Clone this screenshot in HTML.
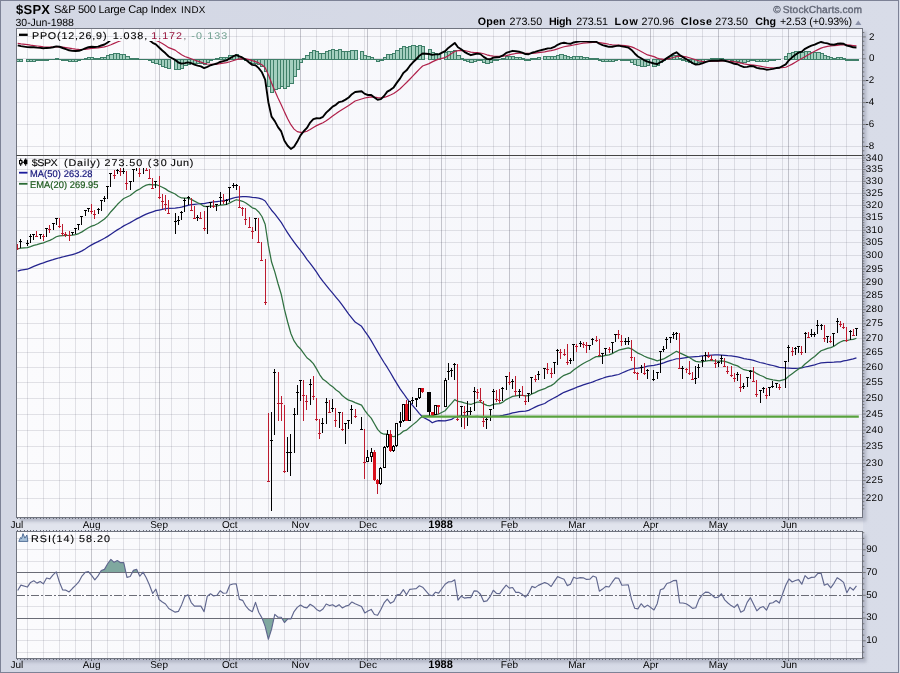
<!DOCTYPE html>
<html><head><meta charset="utf-8"><title>$SPX</title>
<style>html,body{margin:0;padding:0;background:#d4d8e4;}body{width:900px;height:673px;overflow:hidden;position:relative;font-family:"Liberation Sans",sans-serif;}</style>
</head><body>
<svg width="900" height="673" viewBox="0 0 900 673" text-rendering="geometricPrecision" style="position:absolute;left:0;top:0;opacity:0.9999;font-family:'Liberation Sans',sans-serif">
<defs>
<linearGradient id="bg" x1="0" y1="0" x2="1" y2="0"><stop offset="0" stop-color="#d3d7e4"/><stop offset="1" stop-color="#d8dce8"/></linearGradient>
<linearGradient id="pg" x1="0" y1="0" x2="1" y2="0"><stop offset="0" stop-color="#fbfbfd"/><stop offset="1" stop-color="#f3f4fa"/></linearGradient>
<clipPath id="c1"><rect x="16.5" y="41" width="846.0" height="114.5"/></clipPath>
<clipPath id="c2"><rect x="16.5" y="168" width="846.0" height="349.5"/></clipPath>
<clipPath id="c2b"><rect x="16.5" y="155.5" width="846.0" height="362.0"/></clipPath>
<clipPath id="c3"><rect x="16.5" y="531.5" width="846.0" height="127.0"/></clipPath>
<filter id="bl" x="-5%" y="-5%" width="110%" height="110%"><feGaussianBlur stdDeviation="1.6"/></filter>
</defs>
<rect x="0" y="0" width="900" height="673" fill="url(#bg)"/>
<rect x="0.5" y="0.5" width="898" height="672" fill="none" stroke="#7d8296" stroke-width="1"/>
<rect x="17" y="518" width="846" height="13" fill="#e1e4ed"/>
<rect x="19.5" y="31.5" width="847.0" height="490.0" fill="#a9adbd" opacity="0.75" filter="url(#bl)"/>
<rect x="16.5" y="28.5" width="846.0" height="489.0" fill="url(#pg)"/>
<rect x="19.5" y="534.5" width="847.0" height="128.0" fill="#a9adbd" opacity="0.75" filter="url(#bl)"/>
<rect x="16.5" y="531.5" width="846.0" height="127.0" fill="url(#pg)"/>
<g shape-rendering="crispEdges">
<line x1="27.5" y1="28.5" x2="27.5" y2="155.5" stroke="rgba(70,72,95,0.14)" stroke-width="1"/>
<line x1="43.5" y1="28.5" x2="43.5" y2="155.5" stroke="rgba(70,72,95,0.14)" stroke-width="1"/>
<line x1="59.5" y1="28.5" x2="59.5" y2="155.5" stroke="rgba(70,72,95,0.14)" stroke-width="1"/>
<line x1="75.5" y1="28.5" x2="75.5" y2="155.5" stroke="rgba(70,72,95,0.14)" stroke-width="1"/>
<line x1="107.5" y1="28.5" x2="107.5" y2="155.5" stroke="rgba(70,72,95,0.14)" stroke-width="1"/>
<line x1="123.5" y1="28.5" x2="123.5" y2="155.5" stroke="rgba(70,72,95,0.14)" stroke-width="1"/>
<line x1="139.5" y1="28.5" x2="139.5" y2="155.5" stroke="rgba(70,72,95,0.14)" stroke-width="1"/>
<line x1="155.5" y1="28.5" x2="155.5" y2="155.5" stroke="rgba(70,72,95,0.14)" stroke-width="1"/>
<line x1="171.5" y1="28.5" x2="171.5" y2="155.5" stroke="rgba(70,72,95,0.14)" stroke-width="1"/>
<line x1="188.5" y1="28.5" x2="188.5" y2="155.5" stroke="rgba(70,72,95,0.14)" stroke-width="1"/>
<line x1="204.5" y1="28.5" x2="204.5" y2="155.5" stroke="rgba(70,72,95,0.14)" stroke-width="1"/>
<line x1="220.5" y1="28.5" x2="220.5" y2="155.5" stroke="rgba(70,72,95,0.14)" stroke-width="1"/>
<line x1="236.5" y1="28.5" x2="236.5" y2="155.5" stroke="rgba(70,72,95,0.14)" stroke-width="1"/>
<line x1="252.5" y1="28.5" x2="252.5" y2="155.5" stroke="rgba(70,72,95,0.14)" stroke-width="1"/>
<line x1="268.5" y1="28.5" x2="268.5" y2="155.5" stroke="rgba(70,72,95,0.14)" stroke-width="1"/>
<line x1="284.5" y1="28.5" x2="284.5" y2="155.5" stroke="rgba(70,72,95,0.14)" stroke-width="1"/>
<line x1="316.5" y1="28.5" x2="316.5" y2="155.5" stroke="rgba(70,72,95,0.14)" stroke-width="1"/>
<line x1="332.5" y1="28.5" x2="332.5" y2="155.5" stroke="rgba(70,72,95,0.14)" stroke-width="1"/>
<line x1="348.5" y1="28.5" x2="348.5" y2="155.5" stroke="rgba(70,72,95,0.14)" stroke-width="1"/>
<line x1="364.5" y1="28.5" x2="364.5" y2="155.5" stroke="rgba(70,72,95,0.14)" stroke-width="1"/>
<line x1="380.5" y1="28.5" x2="380.5" y2="155.5" stroke="rgba(70,72,95,0.14)" stroke-width="1"/>
<line x1="396.5" y1="28.5" x2="396.5" y2="155.5" stroke="rgba(70,72,95,0.14)" stroke-width="1"/>
<line x1="412.5" y1="28.5" x2="412.5" y2="155.5" stroke="rgba(70,72,95,0.14)" stroke-width="1"/>
<line x1="429.5" y1="28.5" x2="429.5" y2="155.5" stroke="rgba(70,72,95,0.14)" stroke-width="1"/>
<line x1="445.5" y1="28.5" x2="445.5" y2="155.5" stroke="rgba(70,72,95,0.14)" stroke-width="1"/>
<line x1="461.5" y1="28.5" x2="461.5" y2="155.5" stroke="rgba(70,72,95,0.14)" stroke-width="1"/>
<line x1="477.5" y1="28.5" x2="477.5" y2="155.5" stroke="rgba(70,72,95,0.14)" stroke-width="1"/>
<line x1="493.5" y1="28.5" x2="493.5" y2="155.5" stroke="rgba(70,72,95,0.14)" stroke-width="1"/>
<line x1="525.5" y1="28.5" x2="525.5" y2="155.5" stroke="rgba(70,72,95,0.14)" stroke-width="1"/>
<line x1="541.5" y1="28.5" x2="541.5" y2="155.5" stroke="rgba(70,72,95,0.14)" stroke-width="1"/>
<line x1="557.5" y1="28.5" x2="557.5" y2="155.5" stroke="rgba(70,72,95,0.14)" stroke-width="1"/>
<line x1="573.5" y1="28.5" x2="573.5" y2="155.5" stroke="rgba(70,72,95,0.14)" stroke-width="1"/>
<line x1="589.5" y1="28.5" x2="589.5" y2="155.5" stroke="rgba(70,72,95,0.14)" stroke-width="1"/>
<line x1="605.5" y1="28.5" x2="605.5" y2="155.5" stroke="rgba(70,72,95,0.14)" stroke-width="1"/>
<line x1="621.5" y1="28.5" x2="621.5" y2="155.5" stroke="rgba(70,72,95,0.14)" stroke-width="1"/>
<line x1="637.5" y1="28.5" x2="637.5" y2="155.5" stroke="rgba(70,72,95,0.14)" stroke-width="1"/>
<line x1="653.5" y1="28.5" x2="653.5" y2="155.5" stroke="rgba(70,72,95,0.14)" stroke-width="1"/>
<line x1="670.5" y1="28.5" x2="670.5" y2="155.5" stroke="rgba(70,72,95,0.14)" stroke-width="1"/>
<line x1="686.5" y1="28.5" x2="686.5" y2="155.5" stroke="rgba(70,72,95,0.14)" stroke-width="1"/>
<line x1="702.5" y1="28.5" x2="702.5" y2="155.5" stroke="rgba(70,72,95,0.14)" stroke-width="1"/>
<line x1="734.5" y1="28.5" x2="734.5" y2="155.5" stroke="rgba(70,72,95,0.14)" stroke-width="1"/>
<line x1="750.5" y1="28.5" x2="750.5" y2="155.5" stroke="rgba(70,72,95,0.14)" stroke-width="1"/>
<line x1="766.5" y1="28.5" x2="766.5" y2="155.5" stroke="rgba(70,72,95,0.14)" stroke-width="1"/>
<line x1="782.5" y1="28.5" x2="782.5" y2="155.5" stroke="rgba(70,72,95,0.14)" stroke-width="1"/>
<line x1="798.5" y1="28.5" x2="798.5" y2="155.5" stroke="rgba(70,72,95,0.14)" stroke-width="1"/>
<line x1="814.5" y1="28.5" x2="814.5" y2="155.5" stroke="rgba(70,72,95,0.14)" stroke-width="1"/>
<line x1="830.5" y1="28.5" x2="830.5" y2="155.5" stroke="rgba(70,72,95,0.14)" stroke-width="1"/>
<line x1="846.5" y1="28.5" x2="846.5" y2="155.5" stroke="rgba(70,72,95,0.14)" stroke-width="1"/>
<line x1="91.5" y1="28.5" x2="91.5" y2="155.5" stroke="rgba(60,62,80,0.28)" stroke-width="1"/>
<line x1="159.5" y1="28.5" x2="159.5" y2="155.5" stroke="rgba(60,62,80,0.28)" stroke-width="1"/>
<line x1="229.5" y1="28.5" x2="229.5" y2="155.5" stroke="rgba(60,62,80,0.28)" stroke-width="1"/>
<line x1="300.5" y1="28.5" x2="300.5" y2="155.5" stroke="rgba(60,62,80,0.28)" stroke-width="1"/>
<line x1="367.5" y1="28.5" x2="367.5" y2="155.5" stroke="rgba(60,62,80,0.28)" stroke-width="1"/>
<line x1="441.5" y1="28.5" x2="441.5" y2="155.5" stroke="rgba(60,62,80,0.28)" stroke-width="1"/>
<line x1="509.5" y1="28.5" x2="509.5" y2="155.5" stroke="rgba(60,62,80,0.28)" stroke-width="1"/>
<line x1="576.5" y1="28.5" x2="576.5" y2="155.5" stroke="rgba(60,62,80,0.28)" stroke-width="1"/>
<line x1="650.5" y1="28.5" x2="650.5" y2="155.5" stroke="rgba(60,62,80,0.28)" stroke-width="1"/>
<line x1="718.5" y1="28.5" x2="718.5" y2="155.5" stroke="rgba(60,62,80,0.28)" stroke-width="1"/>
<line x1="788.5" y1="28.5" x2="788.5" y2="155.5" stroke="rgba(60,62,80,0.28)" stroke-width="1"/>
<line x1="27.5" y1="155.5" x2="27.5" y2="517.5" stroke="rgba(70,72,95,0.14)" stroke-width="1"/>
<line x1="43.5" y1="155.5" x2="43.5" y2="517.5" stroke="rgba(70,72,95,0.14)" stroke-width="1"/>
<line x1="59.5" y1="155.5" x2="59.5" y2="517.5" stroke="rgba(70,72,95,0.14)" stroke-width="1"/>
<line x1="75.5" y1="155.5" x2="75.5" y2="517.5" stroke="rgba(70,72,95,0.14)" stroke-width="1"/>
<line x1="107.5" y1="155.5" x2="107.5" y2="517.5" stroke="rgba(70,72,95,0.14)" stroke-width="1"/>
<line x1="123.5" y1="155.5" x2="123.5" y2="517.5" stroke="rgba(70,72,95,0.14)" stroke-width="1"/>
<line x1="139.5" y1="155.5" x2="139.5" y2="517.5" stroke="rgba(70,72,95,0.14)" stroke-width="1"/>
<line x1="155.5" y1="155.5" x2="155.5" y2="517.5" stroke="rgba(70,72,95,0.14)" stroke-width="1"/>
<line x1="171.5" y1="155.5" x2="171.5" y2="517.5" stroke="rgba(70,72,95,0.14)" stroke-width="1"/>
<line x1="188.5" y1="155.5" x2="188.5" y2="517.5" stroke="rgba(70,72,95,0.14)" stroke-width="1"/>
<line x1="204.5" y1="155.5" x2="204.5" y2="517.5" stroke="rgba(70,72,95,0.14)" stroke-width="1"/>
<line x1="220.5" y1="155.5" x2="220.5" y2="517.5" stroke="rgba(70,72,95,0.14)" stroke-width="1"/>
<line x1="236.5" y1="155.5" x2="236.5" y2="517.5" stroke="rgba(70,72,95,0.14)" stroke-width="1"/>
<line x1="252.5" y1="155.5" x2="252.5" y2="517.5" stroke="rgba(70,72,95,0.14)" stroke-width="1"/>
<line x1="268.5" y1="155.5" x2="268.5" y2="517.5" stroke="rgba(70,72,95,0.14)" stroke-width="1"/>
<line x1="284.5" y1="155.5" x2="284.5" y2="517.5" stroke="rgba(70,72,95,0.14)" stroke-width="1"/>
<line x1="316.5" y1="155.5" x2="316.5" y2="517.5" stroke="rgba(70,72,95,0.14)" stroke-width="1"/>
<line x1="332.5" y1="155.5" x2="332.5" y2="517.5" stroke="rgba(70,72,95,0.14)" stroke-width="1"/>
<line x1="348.5" y1="155.5" x2="348.5" y2="517.5" stroke="rgba(70,72,95,0.14)" stroke-width="1"/>
<line x1="364.5" y1="155.5" x2="364.5" y2="517.5" stroke="rgba(70,72,95,0.14)" stroke-width="1"/>
<line x1="380.5" y1="155.5" x2="380.5" y2="517.5" stroke="rgba(70,72,95,0.14)" stroke-width="1"/>
<line x1="396.5" y1="155.5" x2="396.5" y2="517.5" stroke="rgba(70,72,95,0.14)" stroke-width="1"/>
<line x1="412.5" y1="155.5" x2="412.5" y2="517.5" stroke="rgba(70,72,95,0.14)" stroke-width="1"/>
<line x1="429.5" y1="155.5" x2="429.5" y2="517.5" stroke="rgba(70,72,95,0.14)" stroke-width="1"/>
<line x1="445.5" y1="155.5" x2="445.5" y2="517.5" stroke="rgba(70,72,95,0.14)" stroke-width="1"/>
<line x1="461.5" y1="155.5" x2="461.5" y2="517.5" stroke="rgba(70,72,95,0.14)" stroke-width="1"/>
<line x1="477.5" y1="155.5" x2="477.5" y2="517.5" stroke="rgba(70,72,95,0.14)" stroke-width="1"/>
<line x1="493.5" y1="155.5" x2="493.5" y2="517.5" stroke="rgba(70,72,95,0.14)" stroke-width="1"/>
<line x1="525.5" y1="155.5" x2="525.5" y2="517.5" stroke="rgba(70,72,95,0.14)" stroke-width="1"/>
<line x1="541.5" y1="155.5" x2="541.5" y2="517.5" stroke="rgba(70,72,95,0.14)" stroke-width="1"/>
<line x1="557.5" y1="155.5" x2="557.5" y2="517.5" stroke="rgba(70,72,95,0.14)" stroke-width="1"/>
<line x1="573.5" y1="155.5" x2="573.5" y2="517.5" stroke="rgba(70,72,95,0.14)" stroke-width="1"/>
<line x1="589.5" y1="155.5" x2="589.5" y2="517.5" stroke="rgba(70,72,95,0.14)" stroke-width="1"/>
<line x1="605.5" y1="155.5" x2="605.5" y2="517.5" stroke="rgba(70,72,95,0.14)" stroke-width="1"/>
<line x1="621.5" y1="155.5" x2="621.5" y2="517.5" stroke="rgba(70,72,95,0.14)" stroke-width="1"/>
<line x1="637.5" y1="155.5" x2="637.5" y2="517.5" stroke="rgba(70,72,95,0.14)" stroke-width="1"/>
<line x1="653.5" y1="155.5" x2="653.5" y2="517.5" stroke="rgba(70,72,95,0.14)" stroke-width="1"/>
<line x1="670.5" y1="155.5" x2="670.5" y2="517.5" stroke="rgba(70,72,95,0.14)" stroke-width="1"/>
<line x1="686.5" y1="155.5" x2="686.5" y2="517.5" stroke="rgba(70,72,95,0.14)" stroke-width="1"/>
<line x1="702.5" y1="155.5" x2="702.5" y2="517.5" stroke="rgba(70,72,95,0.14)" stroke-width="1"/>
<line x1="734.5" y1="155.5" x2="734.5" y2="517.5" stroke="rgba(70,72,95,0.14)" stroke-width="1"/>
<line x1="750.5" y1="155.5" x2="750.5" y2="517.5" stroke="rgba(70,72,95,0.14)" stroke-width="1"/>
<line x1="766.5" y1="155.5" x2="766.5" y2="517.5" stroke="rgba(70,72,95,0.14)" stroke-width="1"/>
<line x1="782.5" y1="155.5" x2="782.5" y2="517.5" stroke="rgba(70,72,95,0.14)" stroke-width="1"/>
<line x1="798.5" y1="155.5" x2="798.5" y2="517.5" stroke="rgba(70,72,95,0.14)" stroke-width="1"/>
<line x1="814.5" y1="155.5" x2="814.5" y2="517.5" stroke="rgba(70,72,95,0.14)" stroke-width="1"/>
<line x1="830.5" y1="155.5" x2="830.5" y2="517.5" stroke="rgba(70,72,95,0.14)" stroke-width="1"/>
<line x1="846.5" y1="155.5" x2="846.5" y2="517.5" stroke="rgba(70,72,95,0.14)" stroke-width="1"/>
<line x1="91.5" y1="155.5" x2="91.5" y2="517.5" stroke="rgba(60,62,80,0.28)" stroke-width="1"/>
<line x1="159.5" y1="155.5" x2="159.5" y2="517.5" stroke="rgba(60,62,80,0.28)" stroke-width="1"/>
<line x1="229.5" y1="155.5" x2="229.5" y2="517.5" stroke="rgba(60,62,80,0.28)" stroke-width="1"/>
<line x1="300.5" y1="155.5" x2="300.5" y2="517.5" stroke="rgba(60,62,80,0.28)" stroke-width="1"/>
<line x1="367.5" y1="155.5" x2="367.5" y2="517.5" stroke="rgba(60,62,80,0.28)" stroke-width="1"/>
<line x1="441.5" y1="155.5" x2="441.5" y2="517.5" stroke="rgba(60,62,80,0.28)" stroke-width="1"/>
<line x1="509.5" y1="155.5" x2="509.5" y2="517.5" stroke="rgba(60,62,80,0.28)" stroke-width="1"/>
<line x1="576.5" y1="155.5" x2="576.5" y2="517.5" stroke="rgba(60,62,80,0.28)" stroke-width="1"/>
<line x1="650.5" y1="155.5" x2="650.5" y2="517.5" stroke="rgba(60,62,80,0.28)" stroke-width="1"/>
<line x1="718.5" y1="155.5" x2="718.5" y2="517.5" stroke="rgba(60,62,80,0.28)" stroke-width="1"/>
<line x1="788.5" y1="155.5" x2="788.5" y2="517.5" stroke="rgba(60,62,80,0.28)" stroke-width="1"/>
<line x1="27.5" y1="531.5" x2="27.5" y2="658.5" stroke="rgba(70,72,95,0.14)" stroke-width="1"/>
<line x1="43.5" y1="531.5" x2="43.5" y2="658.5" stroke="rgba(70,72,95,0.14)" stroke-width="1"/>
<line x1="59.5" y1="531.5" x2="59.5" y2="658.5" stroke="rgba(70,72,95,0.14)" stroke-width="1"/>
<line x1="75.5" y1="531.5" x2="75.5" y2="658.5" stroke="rgba(70,72,95,0.14)" stroke-width="1"/>
<line x1="107.5" y1="531.5" x2="107.5" y2="658.5" stroke="rgba(70,72,95,0.14)" stroke-width="1"/>
<line x1="123.5" y1="531.5" x2="123.5" y2="658.5" stroke="rgba(70,72,95,0.14)" stroke-width="1"/>
<line x1="139.5" y1="531.5" x2="139.5" y2="658.5" stroke="rgba(70,72,95,0.14)" stroke-width="1"/>
<line x1="155.5" y1="531.5" x2="155.5" y2="658.5" stroke="rgba(70,72,95,0.14)" stroke-width="1"/>
<line x1="171.5" y1="531.5" x2="171.5" y2="658.5" stroke="rgba(70,72,95,0.14)" stroke-width="1"/>
<line x1="188.5" y1="531.5" x2="188.5" y2="658.5" stroke="rgba(70,72,95,0.14)" stroke-width="1"/>
<line x1="204.5" y1="531.5" x2="204.5" y2="658.5" stroke="rgba(70,72,95,0.14)" stroke-width="1"/>
<line x1="220.5" y1="531.5" x2="220.5" y2="658.5" stroke="rgba(70,72,95,0.14)" stroke-width="1"/>
<line x1="236.5" y1="531.5" x2="236.5" y2="658.5" stroke="rgba(70,72,95,0.14)" stroke-width="1"/>
<line x1="252.5" y1="531.5" x2="252.5" y2="658.5" stroke="rgba(70,72,95,0.14)" stroke-width="1"/>
<line x1="268.5" y1="531.5" x2="268.5" y2="658.5" stroke="rgba(70,72,95,0.14)" stroke-width="1"/>
<line x1="284.5" y1="531.5" x2="284.5" y2="658.5" stroke="rgba(70,72,95,0.14)" stroke-width="1"/>
<line x1="316.5" y1="531.5" x2="316.5" y2="658.5" stroke="rgba(70,72,95,0.14)" stroke-width="1"/>
<line x1="332.5" y1="531.5" x2="332.5" y2="658.5" stroke="rgba(70,72,95,0.14)" stroke-width="1"/>
<line x1="348.5" y1="531.5" x2="348.5" y2="658.5" stroke="rgba(70,72,95,0.14)" stroke-width="1"/>
<line x1="364.5" y1="531.5" x2="364.5" y2="658.5" stroke="rgba(70,72,95,0.14)" stroke-width="1"/>
<line x1="380.5" y1="531.5" x2="380.5" y2="658.5" stroke="rgba(70,72,95,0.14)" stroke-width="1"/>
<line x1="396.5" y1="531.5" x2="396.5" y2="658.5" stroke="rgba(70,72,95,0.14)" stroke-width="1"/>
<line x1="412.5" y1="531.5" x2="412.5" y2="658.5" stroke="rgba(70,72,95,0.14)" stroke-width="1"/>
<line x1="429.5" y1="531.5" x2="429.5" y2="658.5" stroke="rgba(70,72,95,0.14)" stroke-width="1"/>
<line x1="445.5" y1="531.5" x2="445.5" y2="658.5" stroke="rgba(70,72,95,0.14)" stroke-width="1"/>
<line x1="461.5" y1="531.5" x2="461.5" y2="658.5" stroke="rgba(70,72,95,0.14)" stroke-width="1"/>
<line x1="477.5" y1="531.5" x2="477.5" y2="658.5" stroke="rgba(70,72,95,0.14)" stroke-width="1"/>
<line x1="493.5" y1="531.5" x2="493.5" y2="658.5" stroke="rgba(70,72,95,0.14)" stroke-width="1"/>
<line x1="525.5" y1="531.5" x2="525.5" y2="658.5" stroke="rgba(70,72,95,0.14)" stroke-width="1"/>
<line x1="541.5" y1="531.5" x2="541.5" y2="658.5" stroke="rgba(70,72,95,0.14)" stroke-width="1"/>
<line x1="557.5" y1="531.5" x2="557.5" y2="658.5" stroke="rgba(70,72,95,0.14)" stroke-width="1"/>
<line x1="573.5" y1="531.5" x2="573.5" y2="658.5" stroke="rgba(70,72,95,0.14)" stroke-width="1"/>
<line x1="589.5" y1="531.5" x2="589.5" y2="658.5" stroke="rgba(70,72,95,0.14)" stroke-width="1"/>
<line x1="605.5" y1="531.5" x2="605.5" y2="658.5" stroke="rgba(70,72,95,0.14)" stroke-width="1"/>
<line x1="621.5" y1="531.5" x2="621.5" y2="658.5" stroke="rgba(70,72,95,0.14)" stroke-width="1"/>
<line x1="637.5" y1="531.5" x2="637.5" y2="658.5" stroke="rgba(70,72,95,0.14)" stroke-width="1"/>
<line x1="653.5" y1="531.5" x2="653.5" y2="658.5" stroke="rgba(70,72,95,0.14)" stroke-width="1"/>
<line x1="670.5" y1="531.5" x2="670.5" y2="658.5" stroke="rgba(70,72,95,0.14)" stroke-width="1"/>
<line x1="686.5" y1="531.5" x2="686.5" y2="658.5" stroke="rgba(70,72,95,0.14)" stroke-width="1"/>
<line x1="702.5" y1="531.5" x2="702.5" y2="658.5" stroke="rgba(70,72,95,0.14)" stroke-width="1"/>
<line x1="734.5" y1="531.5" x2="734.5" y2="658.5" stroke="rgba(70,72,95,0.14)" stroke-width="1"/>
<line x1="750.5" y1="531.5" x2="750.5" y2="658.5" stroke="rgba(70,72,95,0.14)" stroke-width="1"/>
<line x1="766.5" y1="531.5" x2="766.5" y2="658.5" stroke="rgba(70,72,95,0.14)" stroke-width="1"/>
<line x1="782.5" y1="531.5" x2="782.5" y2="658.5" stroke="rgba(70,72,95,0.14)" stroke-width="1"/>
<line x1="798.5" y1="531.5" x2="798.5" y2="658.5" stroke="rgba(70,72,95,0.14)" stroke-width="1"/>
<line x1="814.5" y1="531.5" x2="814.5" y2="658.5" stroke="rgba(70,72,95,0.14)" stroke-width="1"/>
<line x1="830.5" y1="531.5" x2="830.5" y2="658.5" stroke="rgba(70,72,95,0.14)" stroke-width="1"/>
<line x1="846.5" y1="531.5" x2="846.5" y2="658.5" stroke="rgba(70,72,95,0.14)" stroke-width="1"/>
<line x1="91.5" y1="531.5" x2="91.5" y2="658.5" stroke="rgba(60,62,80,0.28)" stroke-width="1"/>
<line x1="159.5" y1="531.5" x2="159.5" y2="658.5" stroke="rgba(60,62,80,0.28)" stroke-width="1"/>
<line x1="229.5" y1="531.5" x2="229.5" y2="658.5" stroke="rgba(60,62,80,0.28)" stroke-width="1"/>
<line x1="300.5" y1="531.5" x2="300.5" y2="658.5" stroke="rgba(60,62,80,0.28)" stroke-width="1"/>
<line x1="367.5" y1="531.5" x2="367.5" y2="658.5" stroke="rgba(60,62,80,0.28)" stroke-width="1"/>
<line x1="441.5" y1="531.5" x2="441.5" y2="658.5" stroke="rgba(60,62,80,0.28)" stroke-width="1"/>
<line x1="509.5" y1="531.5" x2="509.5" y2="658.5" stroke="rgba(60,62,80,0.28)" stroke-width="1"/>
<line x1="576.5" y1="531.5" x2="576.5" y2="658.5" stroke="rgba(60,62,80,0.28)" stroke-width="1"/>
<line x1="650.5" y1="531.5" x2="650.5" y2="658.5" stroke="rgba(60,62,80,0.28)" stroke-width="1"/>
<line x1="718.5" y1="531.5" x2="718.5" y2="658.5" stroke="rgba(60,62,80,0.28)" stroke-width="1"/>
<line x1="788.5" y1="531.5" x2="788.5" y2="658.5" stroke="rgba(60,62,80,0.28)" stroke-width="1"/>
<line x1="16.5" y1="36.5" x2="862.5" y2="36.5" stroke="rgba(70,72,95,0.14)" stroke-width="1"/>
<line x1="16.5" y1="58.5" x2="862.5" y2="58.5" stroke="rgba(70,72,95,0.14)" stroke-width="1"/>
<line x1="16.5" y1="80.5" x2="862.5" y2="80.5" stroke="rgba(70,72,95,0.14)" stroke-width="1"/>
<line x1="16.5" y1="102.5" x2="862.5" y2="102.5" stroke="rgba(70,72,95,0.14)" stroke-width="1"/>
<line x1="16.5" y1="124.5" x2="862.5" y2="124.5" stroke="rgba(70,72,95,0.14)" stroke-width="1"/>
<line x1="16.5" y1="146.5" x2="862.5" y2="146.5" stroke="rgba(70,72,95,0.14)" stroke-width="1"/>
<line x1="16.5" y1="498.5" x2="862.5" y2="498.5" stroke="rgba(70,72,95,0.14)" stroke-width="1"/>
<line x1="16.5" y1="480.5" x2="862.5" y2="480.5" stroke="rgba(70,72,95,0.14)" stroke-width="1"/>
<line x1="16.5" y1="463.5" x2="862.5" y2="463.5" stroke="rgba(70,72,95,0.14)" stroke-width="1"/>
<line x1="16.5" y1="446.5" x2="862.5" y2="446.5" stroke="rgba(70,72,95,0.14)" stroke-width="1"/>
<line x1="16.5" y1="430.5" x2="862.5" y2="430.5" stroke="rgba(70,72,95,0.14)" stroke-width="1"/>
<line x1="16.5" y1="414.5" x2="862.5" y2="414.5" stroke="rgba(70,72,95,0.14)" stroke-width="1"/>
<line x1="16.5" y1="398.5" x2="862.5" y2="398.5" stroke="rgba(70,72,95,0.14)" stroke-width="1"/>
<line x1="16.5" y1="382.5" x2="862.5" y2="382.5" stroke="rgba(70,72,95,0.14)" stroke-width="1"/>
<line x1="16.5" y1="367.5" x2="862.5" y2="367.5" stroke="rgba(70,72,95,0.14)" stroke-width="1"/>
<line x1="16.5" y1="352.5" x2="862.5" y2="352.5" stroke="rgba(70,72,95,0.14)" stroke-width="1"/>
<line x1="16.5" y1="338.5" x2="862.5" y2="338.5" stroke="rgba(70,72,95,0.14)" stroke-width="1"/>
<line x1="16.5" y1="323.5" x2="862.5" y2="323.5" stroke="rgba(70,72,95,0.14)" stroke-width="1"/>
<line x1="16.5" y1="309.5" x2="862.5" y2="309.5" stroke="rgba(70,72,95,0.14)" stroke-width="1"/>
<line x1="16.5" y1="295.5" x2="862.5" y2="295.5" stroke="rgba(70,72,95,0.14)" stroke-width="1"/>
<line x1="16.5" y1="282.5" x2="862.5" y2="282.5" stroke="rgba(70,72,95,0.14)" stroke-width="1"/>
<line x1="16.5" y1="268.5" x2="862.5" y2="268.5" stroke="rgba(70,72,95,0.14)" stroke-width="1"/>
<line x1="16.5" y1="255.5" x2="862.5" y2="255.5" stroke="rgba(70,72,95,0.14)" stroke-width="1"/>
<line x1="16.5" y1="242.5" x2="862.5" y2="242.5" stroke="rgba(70,72,95,0.14)" stroke-width="1"/>
<line x1="16.5" y1="230.5" x2="862.5" y2="230.5" stroke="rgba(70,72,95,0.14)" stroke-width="1"/>
<line x1="16.5" y1="217.5" x2="862.5" y2="217.5" stroke="rgba(70,72,95,0.14)" stroke-width="1"/>
<line x1="16.5" y1="205.5" x2="862.5" y2="205.5" stroke="rgba(70,72,95,0.14)" stroke-width="1"/>
<line x1="16.5" y1="193.5" x2="862.5" y2="193.5" stroke="rgba(70,72,95,0.14)" stroke-width="1"/>
<line x1="16.5" y1="181.5" x2="862.5" y2="181.5" stroke="rgba(70,72,95,0.14)" stroke-width="1"/>
<line x1="16.5" y1="169.5" x2="862.5" y2="169.5" stroke="rgba(70,72,95,0.14)" stroke-width="1"/>
<line x1="16.5" y1="158.5" x2="862.5" y2="158.5" stroke="rgba(70,72,95,0.14)" stroke-width="1"/>
<line x1="16.5" y1="538.5" x2="862.5" y2="538.5" stroke="rgba(70,72,95,0.14)" stroke-width="1"/>
<line x1="16.5" y1="549.5" x2="862.5" y2="549.5" stroke="rgba(70,72,95,0.14)" stroke-width="1"/>
<line x1="16.5" y1="561.5" x2="862.5" y2="561.5" stroke="rgba(70,72,95,0.14)" stroke-width="1"/>
<line x1="16.5" y1="583.5" x2="862.5" y2="583.5" stroke="rgba(70,72,95,0.14)" stroke-width="1"/>
<line x1="16.5" y1="606.5" x2="862.5" y2="606.5" stroke="rgba(70,72,95,0.14)" stroke-width="1"/>
<line x1="16.5" y1="629.5" x2="862.5" y2="629.5" stroke="rgba(70,72,95,0.14)" stroke-width="1"/>
<line x1="16.5" y1="640.5" x2="862.5" y2="640.5" stroke="rgba(70,72,95,0.14)" stroke-width="1"/>
<line x1="16.5" y1="652.5" x2="862.5" y2="652.5" stroke="rgba(70,72,95,0.14)" stroke-width="1"/>
</g>
<g clip-path="url(#c1)">
<g shape-rendering="crispEdges">
<rect x="16.5" y="59.5" width="3" height="2" fill="#a4cfbf" stroke="#3f7f69" stroke-width="1"/>
<rect x="19.5" y="59.5" width="3" height="2" fill="#a4cfbf" stroke="#3f7f69" stroke-width="1"/>
<rect x="26.5" y="59.5" width="3" height="2" fill="#a4cfbf" stroke="#3f7f69" stroke-width="1"/>
<rect x="29.5" y="59.5" width="3" height="2" fill="#a4cfbf" stroke="#3f7f69" stroke-width="1"/>
<rect x="32.5" y="59.5" width="3" height="2" fill="#a4cfbf" stroke="#3f7f69" stroke-width="1"/>
<rect x="35.5" y="59.5" width="4" height="1" fill="#a4cfbf" stroke="#3f7f69" stroke-width="1"/>
<rect x="39.5" y="59.5" width="3" height="1" fill="#a4cfbf" stroke="#3f7f69" stroke-width="1"/>
<rect x="42.5" y="59.5" width="3" height="1" fill="#a4cfbf" stroke="#3f7f69" stroke-width="1"/>
<rect x="45.5" y="59.5" width="3" height="1" fill="#a4cfbf" stroke="#3f7f69" stroke-width="1"/>
<rect x="48" y="59" width="4" height="1" fill="#3a7a64"/>
<rect x="52" y="59" width="3" height="1" fill="#3a7a64"/>
<rect x="55.5" y="58.5" width="3" height="1" fill="#a4cfbf" stroke="#3f7f69" stroke-width="1"/>
<rect x="58" y="59" width="3" height="1" fill="#3a7a64"/>
<rect x="61.5" y="59.5" width="3" height="1" fill="#a4cfbf" stroke="#3f7f69" stroke-width="1"/>
<rect x="64.5" y="59.5" width="4" height="1" fill="#a4cfbf" stroke="#3f7f69" stroke-width="1"/>
<rect x="68.5" y="59.5" width="3" height="2" fill="#a4cfbf" stroke="#3f7f69" stroke-width="1"/>
<rect x="71.5" y="59.5" width="3" height="2" fill="#a4cfbf" stroke="#3f7f69" stroke-width="1"/>
<rect x="74.5" y="59.5" width="3" height="2" fill="#a4cfbf" stroke="#3f7f69" stroke-width="1"/>
<rect x="77.5" y="59.5" width="3" height="1" fill="#a4cfbf" stroke="#3f7f69" stroke-width="1"/>
<rect x="80" y="59" width="4" height="1" fill="#3a7a64"/>
<rect x="84.5" y="58.5" width="3" height="1" fill="#a4cfbf" stroke="#3f7f69" stroke-width="1"/>
<rect x="87.5" y="57.5" width="3" height="2" fill="#a4cfbf" stroke="#3f7f69" stroke-width="1"/>
<rect x="90.5" y="57.5" width="3" height="2" fill="#a4cfbf" stroke="#3f7f69" stroke-width="1"/>
<rect x="93.5" y="58.5" width="4" height="1" fill="#a4cfbf" stroke="#3f7f69" stroke-width="1"/>
<rect x="97.5" y="58.5" width="3" height="1" fill="#a4cfbf" stroke="#3f7f69" stroke-width="1"/>
<rect x="100.5" y="57.5" width="3" height="2" fill="#a4cfbf" stroke="#3f7f69" stroke-width="1"/>
<rect x="103.5" y="57.5" width="3" height="2" fill="#a4cfbf" stroke="#3f7f69" stroke-width="1"/>
<rect x="106.5" y="55.5" width="3" height="4" fill="#a4cfbf" stroke="#3f7f69" stroke-width="1"/>
<rect x="109.5" y="54.5" width="4" height="5" fill="#a4cfbf" stroke="#3f7f69" stroke-width="1"/>
<rect x="113.5" y="53.5" width="3" height="6" fill="#a4cfbf" stroke="#3f7f69" stroke-width="1"/>
<rect x="116.5" y="53.5" width="3" height="6" fill="#a4cfbf" stroke="#3f7f69" stroke-width="1"/>
<rect x="119.5" y="54.5" width="3" height="5" fill="#a4cfbf" stroke="#3f7f69" stroke-width="1"/>
<rect x="122.5" y="54.5" width="3" height="5" fill="#a4cfbf" stroke="#3f7f69" stroke-width="1"/>
<rect x="125.5" y="56.5" width="4" height="3" fill="#a4cfbf" stroke="#3f7f69" stroke-width="1"/>
<rect x="129.5" y="58.5" width="3" height="1" fill="#a4cfbf" stroke="#3f7f69" stroke-width="1"/>
<rect x="132.5" y="58.5" width="3" height="1" fill="#a4cfbf" stroke="#3f7f69" stroke-width="1"/>
<rect x="135.5" y="58.5" width="3" height="1" fill="#a4cfbf" stroke="#3f7f69" stroke-width="1"/>
<rect x="138" y="59" width="4" height="1" fill="#3a7a64"/>
<rect x="142" y="59" width="3" height="1" fill="#3a7a64"/>
<rect x="145" y="59" width="3" height="1" fill="#3a7a64"/>
<rect x="148.5" y="59.5" width="3" height="1" fill="#a4cfbf" stroke="#3f7f69" stroke-width="1"/>
<rect x="151.5" y="59.5" width="3" height="3" fill="#a4cfbf" stroke="#3f7f69" stroke-width="1"/>
<rect x="154.5" y="59.5" width="4" height="4" fill="#a4cfbf" stroke="#3f7f69" stroke-width="1"/>
<rect x="158.5" y="59.5" width="3" height="5" fill="#a4cfbf" stroke="#3f7f69" stroke-width="1"/>
<rect x="161.5" y="59.5" width="3" height="7" fill="#a4cfbf" stroke="#3f7f69" stroke-width="1"/>
<rect x="164.5" y="59.5" width="3" height="8" fill="#a4cfbf" stroke="#3f7f69" stroke-width="1"/>
<rect x="167.5" y="59.5" width="3" height="9" fill="#a4cfbf" stroke="#3f7f69" stroke-width="1"/>
<rect x="174.5" y="59.5" width="3" height="10" fill="#a4cfbf" stroke="#3f7f69" stroke-width="1"/>
<rect x="177.5" y="59.5" width="3" height="10" fill="#a4cfbf" stroke="#3f7f69" stroke-width="1"/>
<rect x="180.5" y="59.5" width="3" height="9" fill="#a4cfbf" stroke="#3f7f69" stroke-width="1"/>
<rect x="183.5" y="59.5" width="4" height="6" fill="#a4cfbf" stroke="#3f7f69" stroke-width="1"/>
<rect x="187.5" y="59.5" width="3" height="5" fill="#a4cfbf" stroke="#3f7f69" stroke-width="1"/>
<rect x="190.5" y="59.5" width="3" height="4" fill="#a4cfbf" stroke="#3f7f69" stroke-width="1"/>
<rect x="193.5" y="59.5" width="3" height="4" fill="#a4cfbf" stroke="#3f7f69" stroke-width="1"/>
<rect x="196.5" y="59.5" width="3" height="4" fill="#a4cfbf" stroke="#3f7f69" stroke-width="1"/>
<rect x="199.5" y="59.5" width="4" height="4" fill="#a4cfbf" stroke="#3f7f69" stroke-width="1"/>
<rect x="203.5" y="59.5" width="3" height="5" fill="#a4cfbf" stroke="#3f7f69" stroke-width="1"/>
<rect x="206.5" y="59.5" width="3" height="3" fill="#a4cfbf" stroke="#3f7f69" stroke-width="1"/>
<rect x="209.5" y="59.5" width="3" height="1" fill="#a4cfbf" stroke="#3f7f69" stroke-width="1"/>
<rect x="212" y="59" width="3" height="1" fill="#3a7a64"/>
<rect x="215.5" y="58.5" width="4" height="1" fill="#a4cfbf" stroke="#3f7f69" stroke-width="1"/>
<rect x="219.5" y="57.5" width="3" height="2" fill="#a4cfbf" stroke="#3f7f69" stroke-width="1"/>
<rect x="222.5" y="57.5" width="3" height="2" fill="#a4cfbf" stroke="#3f7f69" stroke-width="1"/>
<rect x="225.5" y="57.5" width="3" height="2" fill="#a4cfbf" stroke="#3f7f69" stroke-width="1"/>
<rect x="228.5" y="55.5" width="4" height="4" fill="#a4cfbf" stroke="#3f7f69" stroke-width="1"/>
<rect x="232.5" y="55.5" width="3" height="4" fill="#a4cfbf" stroke="#3f7f69" stroke-width="1"/>
<rect x="235.5" y="54.5" width="3" height="5" fill="#a4cfbf" stroke="#3f7f69" stroke-width="1"/>
<rect x="238.5" y="56.5" width="3" height="3" fill="#a4cfbf" stroke="#3f7f69" stroke-width="1"/>
<rect x="241.5" y="58.5" width="3" height="1" fill="#a4cfbf" stroke="#3f7f69" stroke-width="1"/>
<rect x="244.5" y="59.5" width="4" height="1" fill="#a4cfbf" stroke="#3f7f69" stroke-width="1"/>
<rect x="248.5" y="59.5" width="3" height="3" fill="#a4cfbf" stroke="#3f7f69" stroke-width="1"/>
<rect x="251.5" y="59.5" width="3" height="4" fill="#a4cfbf" stroke="#3f7f69" stroke-width="1"/>
<rect x="254.5" y="59.5" width="3" height="4" fill="#a4cfbf" stroke="#3f7f69" stroke-width="1"/>
<rect x="257.5" y="59.5" width="3" height="5" fill="#a4cfbf" stroke="#3f7f69" stroke-width="1"/>
<rect x="260.5" y="59.5" width="4" height="7" fill="#a4cfbf" stroke="#3f7f69" stroke-width="1"/>
<rect x="264.5" y="59.5" width="3" height="12" fill="#a4cfbf" stroke="#3f7f69" stroke-width="1"/>
<rect x="267.5" y="59.5" width="3" height="27" fill="#a4cfbf" stroke="#3f7f69" stroke-width="1"/>
<rect x="270.5" y="59.5" width="3" height="33" fill="#a4cfbf" stroke="#3f7f69" stroke-width="1"/>
<rect x="273.5" y="59.5" width="4" height="30" fill="#a4cfbf" stroke="#3f7f69" stroke-width="1"/>
<rect x="277.5" y="59.5" width="3" height="29" fill="#a4cfbf" stroke="#3f7f69" stroke-width="1"/>
<rect x="280.5" y="59.5" width="3" height="27" fill="#a4cfbf" stroke="#3f7f69" stroke-width="1"/>
<rect x="283.5" y="59.5" width="3" height="29" fill="#a4cfbf" stroke="#3f7f69" stroke-width="1"/>
<rect x="286.5" y="59.5" width="3" height="27" fill="#a4cfbf" stroke="#3f7f69" stroke-width="1"/>
<rect x="289.5" y="59.5" width="4" height="24" fill="#a4cfbf" stroke="#3f7f69" stroke-width="1"/>
<rect x="293.5" y="59.5" width="3" height="17" fill="#a4cfbf" stroke="#3f7f69" stroke-width="1"/>
<rect x="296.5" y="59.5" width="3" height="10" fill="#a4cfbf" stroke="#3f7f69" stroke-width="1"/>
<rect x="299.5" y="59.5" width="3" height="3" fill="#a4cfbf" stroke="#3f7f69" stroke-width="1"/>
<rect x="302.5" y="58.5" width="3" height="1" fill="#a4cfbf" stroke="#3f7f69" stroke-width="1"/>
<rect x="305.5" y="55.5" width="4" height="4" fill="#a4cfbf" stroke="#3f7f69" stroke-width="1"/>
<rect x="309.5" y="52.5" width="3" height="7" fill="#a4cfbf" stroke="#3f7f69" stroke-width="1"/>
<rect x="312.5" y="50.5" width="3" height="9" fill="#a4cfbf" stroke="#3f7f69" stroke-width="1"/>
<rect x="315.5" y="51.5" width="3" height="8" fill="#a4cfbf" stroke="#3f7f69" stroke-width="1"/>
<rect x="318.5" y="53.5" width="3" height="6" fill="#a4cfbf" stroke="#3f7f69" stroke-width="1"/>
<rect x="321.5" y="53.5" width="4" height="6" fill="#a4cfbf" stroke="#3f7f69" stroke-width="1"/>
<rect x="325.5" y="51.5" width="3" height="8" fill="#a4cfbf" stroke="#3f7f69" stroke-width="1"/>
<rect x="328.5" y="50.5" width="3" height="9" fill="#a4cfbf" stroke="#3f7f69" stroke-width="1"/>
<rect x="331.5" y="49.5" width="3" height="10" fill="#a4cfbf" stroke="#3f7f69" stroke-width="1"/>
<rect x="334.5" y="50.5" width="4" height="9" fill="#a4cfbf" stroke="#3f7f69" stroke-width="1"/>
<rect x="338.5" y="49.5" width="3" height="10" fill="#a4cfbf" stroke="#3f7f69" stroke-width="1"/>
<rect x="341.5" y="51.5" width="3" height="8" fill="#a4cfbf" stroke="#3f7f69" stroke-width="1"/>
<rect x="344.5" y="51.5" width="3" height="8" fill="#a4cfbf" stroke="#3f7f69" stroke-width="1"/>
<rect x="347.5" y="51.5" width="3" height="8" fill="#a4cfbf" stroke="#3f7f69" stroke-width="1"/>
<rect x="350.5" y="50.5" width="4" height="9" fill="#a4cfbf" stroke="#3f7f69" stroke-width="1"/>
<rect x="354.5" y="50.5" width="3" height="9" fill="#a4cfbf" stroke="#3f7f69" stroke-width="1"/>
<rect x="360.5" y="51.5" width="3" height="8" fill="#a4cfbf" stroke="#3f7f69" stroke-width="1"/>
<rect x="363.5" y="55.5" width="3" height="4" fill="#a4cfbf" stroke="#3f7f69" stroke-width="1"/>
<rect x="366.5" y="56.5" width="4" height="3" fill="#a4cfbf" stroke="#3f7f69" stroke-width="1"/>
<rect x="370.5" y="57.5" width="3" height="2" fill="#a4cfbf" stroke="#3f7f69" stroke-width="1"/>
<rect x="373" y="59" width="3" height="1" fill="#3a7a64"/>
<rect x="376.5" y="59.5" width="3" height="2" fill="#a4cfbf" stroke="#3f7f69" stroke-width="1"/>
<rect x="379.5" y="59.5" width="4" height="1" fill="#a4cfbf" stroke="#3f7f69" stroke-width="1"/>
<rect x="383.5" y="57.5" width="3" height="2" fill="#a4cfbf" stroke="#3f7f69" stroke-width="1"/>
<rect x="386.5" y="54.5" width="3" height="5" fill="#a4cfbf" stroke="#3f7f69" stroke-width="1"/>
<rect x="389.5" y="54.5" width="3" height="5" fill="#a4cfbf" stroke="#3f7f69" stroke-width="1"/>
<rect x="392.5" y="53.5" width="3" height="6" fill="#a4cfbf" stroke="#3f7f69" stroke-width="1"/>
<rect x="395.5" y="50.5" width="4" height="9" fill="#a4cfbf" stroke="#3f7f69" stroke-width="1"/>
<rect x="399.5" y="48.5" width="3" height="11" fill="#a4cfbf" stroke="#3f7f69" stroke-width="1"/>
<rect x="402.5" y="46.5" width="3" height="13" fill="#a4cfbf" stroke="#3f7f69" stroke-width="1"/>
<rect x="405.5" y="47.5" width="3" height="12" fill="#a4cfbf" stroke="#3f7f69" stroke-width="1"/>
<rect x="408.5" y="46.5" width="3" height="13" fill="#a4cfbf" stroke="#3f7f69" stroke-width="1"/>
<rect x="411.5" y="45.5" width="4" height="14" fill="#a4cfbf" stroke="#3f7f69" stroke-width="1"/>
<rect x="415.5" y="46.5" width="3" height="13" fill="#a4cfbf" stroke="#3f7f69" stroke-width="1"/>
<rect x="418.5" y="45.5" width="3" height="14" fill="#a4cfbf" stroke="#3f7f69" stroke-width="1"/>
<rect x="421.5" y="46.5" width="3" height="13" fill="#a4cfbf" stroke="#3f7f69" stroke-width="1"/>
<rect x="428.5" y="49.5" width="3" height="10" fill="#a4cfbf" stroke="#3f7f69" stroke-width="1"/>
<rect x="431.5" y="52.5" width="3" height="7" fill="#a4cfbf" stroke="#3f7f69" stroke-width="1"/>
<rect x="434.5" y="53.5" width="3" height="6" fill="#a4cfbf" stroke="#3f7f69" stroke-width="1"/>
<rect x="437.5" y="54.5" width="3" height="5" fill="#a4cfbf" stroke="#3f7f69" stroke-width="1"/>
<rect x="444.5" y="52.5" width="3" height="7" fill="#a4cfbf" stroke="#3f7f69" stroke-width="1"/>
<rect x="447.5" y="51.5" width="3" height="8" fill="#a4cfbf" stroke="#3f7f69" stroke-width="1"/>
<rect x="450.5" y="51.5" width="3" height="8" fill="#a4cfbf" stroke="#3f7f69" stroke-width="1"/>
<rect x="453.5" y="50.5" width="3" height="9" fill="#a4cfbf" stroke="#3f7f69" stroke-width="1"/>
<rect x="456.5" y="55.5" width="4" height="4" fill="#a4cfbf" stroke="#3f7f69" stroke-width="1"/>
<rect x="460.5" y="58.5" width="3" height="1" fill="#a4cfbf" stroke="#3f7f69" stroke-width="1"/>
<rect x="463.5" y="59.5" width="3" height="1" fill="#a4cfbf" stroke="#3f7f69" stroke-width="1"/>
<rect x="466.5" y="59.5" width="3" height="2" fill="#a4cfbf" stroke="#3f7f69" stroke-width="1"/>
<rect x="469.5" y="59.5" width="4" height="3" fill="#a4cfbf" stroke="#3f7f69" stroke-width="1"/>
<rect x="473.5" y="59.5" width="3" height="2" fill="#a4cfbf" stroke="#3f7f69" stroke-width="1"/>
<rect x="476.5" y="59.5" width="3" height="1" fill="#a4cfbf" stroke="#3f7f69" stroke-width="1"/>
<rect x="479.5" y="59.5" width="3" height="1" fill="#a4cfbf" stroke="#3f7f69" stroke-width="1"/>
<rect x="482.5" y="59.5" width="3" height="3" fill="#a4cfbf" stroke="#3f7f69" stroke-width="1"/>
<rect x="485.5" y="59.5" width="4" height="4" fill="#a4cfbf" stroke="#3f7f69" stroke-width="1"/>
<rect x="489.5" y="59.5" width="3" height="3" fill="#a4cfbf" stroke="#3f7f69" stroke-width="1"/>
<rect x="492.5" y="59.5" width="3" height="1" fill="#a4cfbf" stroke="#3f7f69" stroke-width="1"/>
<rect x="495.5" y="59.5" width="3" height="1" fill="#a4cfbf" stroke="#3f7f69" stroke-width="1"/>
<rect x="498" y="59" width="3" height="1" fill="#3a7a64"/>
<rect x="501.5" y="58.5" width="4" height="1" fill="#a4cfbf" stroke="#3f7f69" stroke-width="1"/>
<rect x="505.5" y="56.5" width="3" height="3" fill="#a4cfbf" stroke="#3f7f69" stroke-width="1"/>
<rect x="508.5" y="56.5" width="3" height="3" fill="#a4cfbf" stroke="#3f7f69" stroke-width="1"/>
<rect x="511.5" y="56.5" width="3" height="3" fill="#a4cfbf" stroke="#3f7f69" stroke-width="1"/>
<rect x="514.5" y="57.5" width="4" height="2" fill="#a4cfbf" stroke="#3f7f69" stroke-width="1"/>
<rect x="518.5" y="57.5" width="3" height="2" fill="#a4cfbf" stroke="#3f7f69" stroke-width="1"/>
<rect x="521.5" y="58.5" width="3" height="1" fill="#a4cfbf" stroke="#3f7f69" stroke-width="1"/>
<rect x="524.5" y="59.5" width="3" height="1" fill="#a4cfbf" stroke="#3f7f69" stroke-width="1"/>
<rect x="527.5" y="59.5" width="3" height="1" fill="#a4cfbf" stroke="#3f7f69" stroke-width="1"/>
<rect x="530.5" y="58.5" width="4" height="1" fill="#a4cfbf" stroke="#3f7f69" stroke-width="1"/>
<rect x="534.5" y="58.5" width="3" height="1" fill="#a4cfbf" stroke="#3f7f69" stroke-width="1"/>
<rect x="537.5" y="57.5" width="3" height="2" fill="#a4cfbf" stroke="#3f7f69" stroke-width="1"/>
<rect x="543.5" y="56.5" width="3" height="3" fill="#a4cfbf" stroke="#3f7f69" stroke-width="1"/>
<rect x="546.5" y="56.5" width="4" height="3" fill="#a4cfbf" stroke="#3f7f69" stroke-width="1"/>
<rect x="550.5" y="56.5" width="3" height="3" fill="#a4cfbf" stroke="#3f7f69" stroke-width="1"/>
<rect x="553.5" y="56.5" width="3" height="3" fill="#a4cfbf" stroke="#3f7f69" stroke-width="1"/>
<rect x="556.5" y="55.5" width="3" height="4" fill="#a4cfbf" stroke="#3f7f69" stroke-width="1"/>
<rect x="559.5" y="54.5" width="4" height="5" fill="#a4cfbf" stroke="#3f7f69" stroke-width="1"/>
<rect x="563.5" y="55.5" width="3" height="4" fill="#a4cfbf" stroke="#3f7f69" stroke-width="1"/>
<rect x="566.5" y="56.5" width="3" height="3" fill="#a4cfbf" stroke="#3f7f69" stroke-width="1"/>
<rect x="569.5" y="57.5" width="3" height="2" fill="#a4cfbf" stroke="#3f7f69" stroke-width="1"/>
<rect x="572.5" y="56.5" width="3" height="3" fill="#a4cfbf" stroke="#3f7f69" stroke-width="1"/>
<rect x="575.5" y="56.5" width="4" height="3" fill="#a4cfbf" stroke="#3f7f69" stroke-width="1"/>
<rect x="579.5" y="56.5" width="3" height="3" fill="#a4cfbf" stroke="#3f7f69" stroke-width="1"/>
<rect x="582.5" y="57.5" width="3" height="2" fill="#a4cfbf" stroke="#3f7f69" stroke-width="1"/>
<rect x="585.5" y="57.5" width="3" height="2" fill="#a4cfbf" stroke="#3f7f69" stroke-width="1"/>
<rect x="588.5" y="58.5" width="3" height="1" fill="#a4cfbf" stroke="#3f7f69" stroke-width="1"/>
<rect x="591.5" y="58.5" width="4" height="1" fill="#a4cfbf" stroke="#3f7f69" stroke-width="1"/>
<rect x="595.5" y="58.5" width="3" height="1" fill="#a4cfbf" stroke="#3f7f69" stroke-width="1"/>
<rect x="598.5" y="59.5" width="3" height="1" fill="#a4cfbf" stroke="#3f7f69" stroke-width="1"/>
<rect x="601.5" y="59.5" width="3" height="2" fill="#a4cfbf" stroke="#3f7f69" stroke-width="1"/>
<rect x="604.5" y="59.5" width="4" height="2" fill="#a4cfbf" stroke="#3f7f69" stroke-width="1"/>
<rect x="608.5" y="59.5" width="3" height="2" fill="#a4cfbf" stroke="#3f7f69" stroke-width="1"/>
<rect x="611.5" y="59.5" width="3" height="2" fill="#a4cfbf" stroke="#3f7f69" stroke-width="1"/>
<rect x="614.5" y="59.5" width="3" height="1" fill="#a4cfbf" stroke="#3f7f69" stroke-width="1"/>
<rect x="617" y="59" width="3" height="1" fill="#3a7a64"/>
<rect x="620.5" y="59.5" width="4" height="1" fill="#a4cfbf" stroke="#3f7f69" stroke-width="1"/>
<rect x="624.5" y="59.5" width="3" height="1" fill="#a4cfbf" stroke="#3f7f69" stroke-width="1"/>
<rect x="627.5" y="59.5" width="3" height="1" fill="#a4cfbf" stroke="#3f7f69" stroke-width="1"/>
<rect x="630.5" y="59.5" width="3" height="3" fill="#a4cfbf" stroke="#3f7f69" stroke-width="1"/>
<rect x="633.5" y="59.5" width="3" height="5" fill="#a4cfbf" stroke="#3f7f69" stroke-width="1"/>
<rect x="636.5" y="59.5" width="4" height="6" fill="#a4cfbf" stroke="#3f7f69" stroke-width="1"/>
<rect x="640.5" y="59.5" width="3" height="7" fill="#a4cfbf" stroke="#3f7f69" stroke-width="1"/>
<rect x="643.5" y="59.5" width="3" height="7" fill="#a4cfbf" stroke="#3f7f69" stroke-width="1"/>
<rect x="646.5" y="59.5" width="3" height="6" fill="#a4cfbf" stroke="#3f7f69" stroke-width="1"/>
<rect x="652.5" y="59.5" width="4" height="7" fill="#a4cfbf" stroke="#3f7f69" stroke-width="1"/>
<rect x="656.5" y="59.5" width="3" height="6" fill="#a4cfbf" stroke="#3f7f69" stroke-width="1"/>
<rect x="659.5" y="59.5" width="3" height="3" fill="#a4cfbf" stroke="#3f7f69" stroke-width="1"/>
<rect x="662.5" y="59.5" width="3" height="1" fill="#a4cfbf" stroke="#3f7f69" stroke-width="1"/>
<rect x="665.5" y="58.5" width="4" height="1" fill="#a4cfbf" stroke="#3f7f69" stroke-width="1"/>
<rect x="669.5" y="56.5" width="3" height="3" fill="#a4cfbf" stroke="#3f7f69" stroke-width="1"/>
<rect x="672.5" y="55.5" width="3" height="4" fill="#a4cfbf" stroke="#3f7f69" stroke-width="1"/>
<rect x="675.5" y="55.5" width="3" height="4" fill="#a4cfbf" stroke="#3f7f69" stroke-width="1"/>
<rect x="678.5" y="58.5" width="3" height="1" fill="#a4cfbf" stroke="#3f7f69" stroke-width="1"/>
<rect x="681.5" y="59.5" width="4" height="1" fill="#a4cfbf" stroke="#3f7f69" stroke-width="1"/>
<rect x="685.5" y="59.5" width="3" height="2" fill="#a4cfbf" stroke="#3f7f69" stroke-width="1"/>
<rect x="688.5" y="59.5" width="3" height="3" fill="#a4cfbf" stroke="#3f7f69" stroke-width="1"/>
<rect x="691.5" y="59.5" width="3" height="4" fill="#a4cfbf" stroke="#3f7f69" stroke-width="1"/>
<rect x="694.5" y="59.5" width="3" height="4" fill="#a4cfbf" stroke="#3f7f69" stroke-width="1"/>
<rect x="697.5" y="59.5" width="4" height="3" fill="#a4cfbf" stroke="#3f7f69" stroke-width="1"/>
<rect x="701.5" y="59.5" width="3" height="2" fill="#a4cfbf" stroke="#3f7f69" stroke-width="1"/>
<rect x="704" y="59" width="3" height="1" fill="#3a7a64"/>
<rect x="707" y="59" width="3" height="1" fill="#3a7a64"/>
<rect x="710.5" y="58.5" width="4" height="1" fill="#a4cfbf" stroke="#3f7f69" stroke-width="1"/>
<rect x="714.5" y="58.5" width="3" height="1" fill="#a4cfbf" stroke="#3f7f69" stroke-width="1"/>
<rect x="717.5" y="58.5" width="3" height="1" fill="#a4cfbf" stroke="#3f7f69" stroke-width="1"/>
<rect x="720.5" y="58.5" width="3" height="1" fill="#a4cfbf" stroke="#3f7f69" stroke-width="1"/>
<rect x="723" y="59" width="3" height="1" fill="#3a7a64"/>
<rect x="726" y="59" width="4" height="1" fill="#3a7a64"/>
<rect x="730.5" y="59.5" width="3" height="1" fill="#a4cfbf" stroke="#3f7f69" stroke-width="1"/>
<rect x="733.5" y="59.5" width="3" height="2" fill="#a4cfbf" stroke="#3f7f69" stroke-width="1"/>
<rect x="736.5" y="59.5" width="3" height="2" fill="#a4cfbf" stroke="#3f7f69" stroke-width="1"/>
<rect x="739.5" y="59.5" width="3" height="3" fill="#a4cfbf" stroke="#3f7f69" stroke-width="1"/>
<rect x="742.5" y="59.5" width="4" height="3" fill="#a4cfbf" stroke="#3f7f69" stroke-width="1"/>
<rect x="746.5" y="59.5" width="3" height="2" fill="#a4cfbf" stroke="#3f7f69" stroke-width="1"/>
<rect x="749.5" y="59.5" width="3" height="1" fill="#a4cfbf" stroke="#3f7f69" stroke-width="1"/>
<rect x="752.5" y="59.5" width="3" height="1" fill="#a4cfbf" stroke="#3f7f69" stroke-width="1"/>
<rect x="755.5" y="59.5" width="4" height="2" fill="#a4cfbf" stroke="#3f7f69" stroke-width="1"/>
<rect x="759.5" y="59.5" width="3" height="2" fill="#a4cfbf" stroke="#3f7f69" stroke-width="1"/>
<rect x="762.5" y="59.5" width="3" height="2" fill="#a4cfbf" stroke="#3f7f69" stroke-width="1"/>
<rect x="765.5" y="59.5" width="3" height="2" fill="#a4cfbf" stroke="#3f7f69" stroke-width="1"/>
<rect x="768.5" y="59.5" width="3" height="1" fill="#a4cfbf" stroke="#3f7f69" stroke-width="1"/>
<rect x="771.5" y="59.5" width="4" height="1" fill="#a4cfbf" stroke="#3f7f69" stroke-width="1"/>
<rect x="775" y="59" width="3" height="1" fill="#3a7a64"/>
<rect x="778" y="59" width="3" height="1" fill="#3a7a64"/>
<rect x="784.5" y="56.5" width="3" height="3" fill="#a4cfbf" stroke="#3f7f69" stroke-width="1"/>
<rect x="787.5" y="53.5" width="4" height="6" fill="#a4cfbf" stroke="#3f7f69" stroke-width="1"/>
<rect x="791.5" y="52.5" width="3" height="7" fill="#a4cfbf" stroke="#3f7f69" stroke-width="1"/>
<rect x="794.5" y="51.5" width="3" height="8" fill="#a4cfbf" stroke="#3f7f69" stroke-width="1"/>
<rect x="797.5" y="51.5" width="3" height="8" fill="#a4cfbf" stroke="#3f7f69" stroke-width="1"/>
<rect x="800.5" y="52.5" width="4" height="7" fill="#a4cfbf" stroke="#3f7f69" stroke-width="1"/>
<rect x="804.5" y="51.5" width="3" height="8" fill="#a4cfbf" stroke="#3f7f69" stroke-width="1"/>
<rect x="807.5" y="51.5" width="3" height="8" fill="#a4cfbf" stroke="#3f7f69" stroke-width="1"/>
<rect x="810.5" y="52.5" width="3" height="7" fill="#a4cfbf" stroke="#3f7f69" stroke-width="1"/>
<rect x="813.5" y="52.5" width="3" height="7" fill="#a4cfbf" stroke="#3f7f69" stroke-width="1"/>
<rect x="816.5" y="52.5" width="4" height="7" fill="#a4cfbf" stroke="#3f7f69" stroke-width="1"/>
<rect x="820.5" y="53.5" width="3" height="6" fill="#a4cfbf" stroke="#3f7f69" stroke-width="1"/>
<rect x="823.5" y="55.5" width="3" height="4" fill="#a4cfbf" stroke="#3f7f69" stroke-width="1"/>
<rect x="826.5" y="56.5" width="3" height="3" fill="#a4cfbf" stroke="#3f7f69" stroke-width="1"/>
<rect x="829.5" y="57.5" width="3" height="2" fill="#a4cfbf" stroke="#3f7f69" stroke-width="1"/>
<rect x="832.5" y="58.5" width="4" height="1" fill="#a4cfbf" stroke="#3f7f69" stroke-width="1"/>
<rect x="836.5" y="57.5" width="3" height="2" fill="#a4cfbf" stroke="#3f7f69" stroke-width="1"/>
<rect x="839.5" y="57.5" width="3" height="2" fill="#a4cfbf" stroke="#3f7f69" stroke-width="1"/>
<rect x="842.5" y="58.5" width="3" height="1" fill="#a4cfbf" stroke="#3f7f69" stroke-width="1"/>
<rect x="845.5" y="59.5" width="4" height="1" fill="#a4cfbf" stroke="#3f7f69" stroke-width="1"/>
<rect x="849.5" y="59.5" width="3" height="1" fill="#a4cfbf" stroke="#3f7f69" stroke-width="1"/>
<rect x="852.5" y="59.5" width="3" height="1" fill="#a4cfbf" stroke="#3f7f69" stroke-width="1"/>
<rect x="855.5" y="59.5" width="3" height="1" fill="#a4cfbf" stroke="#3f7f69" stroke-width="1"/>
</g>
<path d="M17.70,43.41 L20.91,43.95 L27.34,44.58 L30.55,45.12 L33.77,45.55 L36.98,45.98 L40.20,46.35 L43.41,46.74 L46.62,46.98 L49.84,47.15 L53.05,47.17 L56.26,47.01 L59.48,46.96 L62.69,47.16 L65.90,47.55 L69.12,48.09 L72.33,48.65 L75.54,49.13 L78.76,49.46 L81.97,49.52 L85.19,49.29 L88.40,48.88 L91.61,48.47 L94.83,48.17 L98.04,47.86 L101.25,47.39 L104.47,46.81 L107.68,45.96 L110.89,44.72 L114.11,43.39 L117.32,41.99 L120.54,40.70 L123.75,39.58 L126.96,38.94 L130.18,38.64 L133.39,38.35 L136.60,38.08 L139.82,38.01 L143.03,37.95 L146.24,38.06 L149.46,38.48 L152.67,39.35 L155.88,40.36 L159.10,41.78 L162.31,43.52 L165.53,45.47 L168.74,47.68 L175.17,50.14 L178.38,52.61 L181.59,54.82 L184.81,56.48 L188.02,57.67 L191.23,58.78 L194.45,59.95 L197.66,61.08 L200.88,62.14 L204.09,63.32 L207.30,64.01 L210.52,64.26 L213.73,64.29 L216.94,64.14 L220.16,63.70 L223.37,63.18 L226.58,62.62 L229.80,61.76 L233.01,60.70 L236.22,59.57 L239.44,58.94 L242.65,58.69 L245.87,58.93 L249.08,59.63 L252.29,60.68 L255.51,61.60 L258.72,62.91 L261.93,64.78 L265.15,67.77 L268.36,74.67 L271.57,83.06 L274.79,90.66 L278.00,97.96 L281.22,104.66 L284.43,111.88 L287.64,118.66 L290.86,124.71 L294.07,129.10 L297.28,131.60 L300.50,132.35 L303.71,132.13 L306.92,131.28 L310.14,129.55 L313.35,127.46 L316.56,125.61 L319.78,124.16 L322.99,122.68 L326.21,120.67 L329.42,118.49 L332.63,116.10 L335.85,113.85 L339.06,111.49 L342.27,109.46 L345.49,107.50 L348.70,105.50 L351.91,103.24 L355.13,100.99 L361.56,99.03 L364.77,98.00 L367.98,97.40 L371.20,96.92 L374.41,97.05 L377.62,97.58 L380.84,97.90 L384.05,97.52 L387.26,96.35 L390.48,95.04 L393.69,93.51 L396.90,91.33 L400.12,88.74 L403.33,85.58 L406.55,82.53 L409.76,79.21 L412.97,75.82 L416.19,72.51 L419.40,69.16 L422.61,66.01 L429.04,63.61 L432.25,61.85 L435.47,60.35 L438.68,59.15 L445.11,57.57 L448.32,55.64 L451.54,53.60 L454.75,51.46 L457.96,50.61 L461.18,50.36 L464.39,50.65 L467.60,51.26 L470.82,52.05 L474.03,52.49 L477.24,52.72 L480.46,53.00 L483.67,53.78 L486.89,54.80 L490.10,55.70 L493.31,56.08 L496.53,56.31 L499.74,56.44 L502.95,56.24 L506.17,55.59 L509.38,54.84 L512.59,54.04 L515.81,53.49 L519.02,53.14 L522.24,53.04 L525.45,53.23 L528.66,53.44 L531.88,53.31 L535.09,53.04 L538.30,52.59 L544.73,51.92 L547.94,51.20 L551.16,50.61 L554.37,49.88 L557.58,48.86 L560.80,47.77 L564.01,46.77 L567.23,46.10 L570.44,45.64 L573.65,45.00 L576.87,44.36 L580.08,43.74 L583.29,43.21 L586.51,42.83 L589.72,42.61 L592.93,42.39 L596.15,42.25 L599.36,42.55 L602.58,43.07 L605.79,43.65 L609.00,44.28 L612.22,44.78 L615.43,45.04 L618.64,45.17 L621.86,45.40 L625.07,45.70 L628.28,46.06 L631.50,46.83 L634.71,48.16 L637.92,49.83 L641.14,51.51 L644.35,53.26 L647.57,54.92 L653.99,56.64 L657.21,58.14 L660.42,58.97 L663.63,59.29 L666.85,59.05 L670.06,58.42 L673.27,57.52 L676.49,56.47 L679.70,56.17 L682.92,56.36 L686.13,56.90 L689.34,57.71 L692.56,58.78 L695.77,59.93 L698.98,60.82 L702.20,61.35 L705.41,61.51 L708.62,61.44 L711.84,61.30 L715.05,61.20 L718.26,61.12 L721.48,60.95 L724.69,60.90 L727.91,61.03 L731.12,61.35 L734.33,61.83 L737.55,62.31 L740.76,63.04 L743.97,63.85 L747.19,64.45 L750.40,64.76 L753.61,65.07 L756.83,65.62 L760.04,66.21 L763.26,66.73 L766.47,67.33 L769.68,67.73 L772.90,67.95 L776.11,67.98 L779.32,67.93 L785.75,67.23 L788.96,65.82 L792.18,64.13 L795.39,62.26 L798.60,60.33 L801.82,58.59 L805.03,56.64 L808.25,54.75 L811.46,52.94 L814.67,51.29 L817.89,49.64 L821.10,48.11 L824.31,47.05 L827.53,46.32 L830.74,45.97 L833.95,45.73 L837.17,45.34 L840.38,44.97 L843.60,44.73 L846.81,44.91 L850.02,45.18 L853.24,45.61 L856.45,45.97" fill="none" stroke="#b0204a" stroke-width="1.2" stroke-linejoin="round"/>
<path d="M17.70,45.35 L20.91,46.13 L27.34,47.10 L30.55,47.27 L33.77,47.29 L36.98,47.66 L40.20,47.83 L43.41,48.31 L46.62,47.93 L49.84,47.83 L53.05,47.24 L56.26,46.38 L59.48,46.75 L62.69,47.99 L65.90,49.10 L69.12,50.27 L72.33,50.87 L75.54,51.04 L78.76,50.79 L81.97,49.75 L85.19,48.37 L88.40,47.25 L91.61,46.81 L94.83,46.98 L98.04,46.63 L101.25,45.50 L104.47,44.52 L107.68,42.55 L110.89,39.75 L114.11,38.06 L117.32,36.39 L120.54,35.53 L123.75,35.11 L126.96,36.36 L130.18,37.44 L133.39,37.20 L136.60,36.99 L139.82,37.76 L143.03,37.70 L146.24,38.48 L149.46,40.16 L152.67,42.84 L155.88,44.39 L159.10,47.46 L162.31,50.46 L165.53,53.30 L168.74,56.53 L175.17,59.94 L178.38,62.52 L181.59,63.64 L184.81,63.14 L188.02,62.40 L191.23,63.23 L194.45,64.62 L197.66,65.63 L200.88,66.36 L204.09,68.04 L207.30,66.79 L210.52,65.26 L213.73,64.39 L216.94,63.52 L220.16,61.96 L223.37,61.11 L226.58,60.38 L229.80,58.30 L233.01,56.47 L236.22,55.07 L239.44,56.41 L242.65,57.68 L245.87,59.88 L249.08,62.44 L252.29,64.87 L255.51,65.31 L258.72,68.14 L261.93,72.27 L265.15,79.72 L268.36,102.24 L271.57,116.62 L274.79,121.08 L278.00,127.18 L281.22,131.44 L284.43,140.78 L287.64,145.76 L290.86,148.91 L294.07,146.67 L297.28,141.59 L300.50,135.35 L303.71,131.26 L306.92,127.89 L310.14,122.60 L313.35,119.13 L316.56,118.22 L319.78,118.33 L322.99,116.78 L326.21,112.62 L329.42,109.76 L332.63,106.56 L335.85,104.82 L339.06,102.06 L342.27,101.35 L345.49,99.65 L348.70,97.50 L351.91,94.18 L355.13,91.99 L361.56,91.23 L364.77,93.88 L367.98,95.00 L371.20,94.97 L374.41,97.57 L377.62,99.70 L380.84,99.17 L384.05,96.02 L387.26,91.65 L390.48,89.82 L393.69,87.39 L396.90,82.62 L400.12,78.38 L403.33,72.91 L406.55,70.33 L409.76,65.94 L412.97,62.29 L416.19,59.25 L419.40,55.73 L422.61,53.43 L429.04,53.99 L432.25,54.83 L435.47,54.37 L438.68,54.33 L445.11,51.23 L448.32,47.95 L451.54,45.44 L454.75,42.90 L457.96,47.22 L461.18,49.33 L464.39,51.81 L467.60,53.69 L470.82,55.21 L474.03,54.27 L477.24,53.65 L480.46,54.11 L483.67,56.88 L486.89,58.90 L490.10,59.30 L493.31,57.60 L496.53,57.21 L499.74,56.98 L502.95,55.46 L506.17,52.98 L509.38,51.83 L512.59,50.82 L515.81,51.29 L519.02,51.75 L522.24,52.62 L525.45,54.02 L528.66,54.26 L531.88,52.79 L535.09,51.95 L538.30,50.80 L544.73,49.24 L547.94,48.34 L551.16,48.21 L554.37,46.97 L557.58,44.77 L560.80,43.44 L564.01,42.78 L567.23,43.41 L570.44,43.78 L573.65,42.46 L576.87,41.82 L580.08,41.27 L583.29,41.07 L586.51,41.33 L589.72,41.70 L592.93,41.51 L596.15,41.69 L599.36,43.75 L602.58,45.17 L605.79,45.96 L609.00,46.81 L612.22,46.79 L615.43,46.07 L618.64,45.68 L621.86,46.31 L625.07,46.92 L628.28,47.51 L631.50,49.91 L634.71,53.48 L637.92,56.50 L641.14,58.24 L644.35,60.27 L647.57,61.57 L653.99,63.50 L657.21,64.16 L660.42,62.28 L663.63,60.55 L666.85,58.09 L670.06,55.93 L673.27,53.89 L676.49,52.28 L679.70,54.98 L682.92,57.14 L686.13,59.04 L689.34,60.96 L692.56,63.04 L695.77,64.53 L698.98,64.39 L702.20,63.45 L705.41,62.16 L708.62,61.16 L711.84,60.74 L715.05,60.82 L718.26,60.79 L721.48,60.25 L724.69,60.71 L727.91,61.56 L731.12,62.64 L734.33,63.76 L737.55,64.21 L740.76,65.97 L743.97,67.08 L747.19,66.87 L750.40,65.97 L753.61,66.30 L756.83,67.85 L760.04,68.55 L763.26,68.84 L766.47,69.70 L769.68,69.34 L772.90,68.85 L776.11,68.06 L779.32,67.75 L785.75,64.41 L788.96,60.19 L792.18,57.35 L795.39,54.78 L798.60,52.61 L801.82,51.63 L805.03,48.83 L808.25,47.20 L811.46,45.72 L814.67,44.66 L817.89,43.07 L821.10,41.96 L824.31,42.82 L827.53,43.38 L830.74,44.56 L833.95,44.76 L837.17,43.79 L840.38,43.48 L843.60,43.76 L846.81,45.66 L850.02,46.26 L853.24,47.30 L856.45,47.43" fill="none" stroke="#000" stroke-width="1.9" stroke-linejoin="round"/>
</g>
<g clip-path="url(#c2b)">
<path d="M17.70,271.14 L20.91,270.16 L27.34,269.20 L30.55,267.83 L33.77,266.44 L36.98,265.12 L40.20,263.86 L43.41,262.85 L46.62,261.66 L49.84,260.56 L53.05,259.65 L56.26,258.65 L59.48,257.77 L62.69,256.98 L65.90,256.10 L69.12,255.35 L72.33,254.55 L75.54,253.70 L78.76,252.40 L81.97,250.90 L85.19,248.92 L88.40,246.83 L91.61,244.91 L94.83,243.16 L98.04,241.66 L101.25,239.95 L104.47,238.31 L107.68,236.38 L110.89,234.17 L114.11,231.95 L117.32,229.87 L120.54,227.92 L123.75,225.87 L126.96,224.25 L130.18,222.62 L133.39,220.76 L136.60,218.91 L139.82,217.33 L143.03,215.67 L146.24,214.19 L149.46,212.88 L152.67,211.83 L155.88,210.71 L159.10,210.03 L162.31,209.38 L165.53,208.73 L168.74,208.35 L175.17,208.03 L178.38,207.74 L181.59,207.10 L184.81,206.16 L188.02,205.31 L191.23,204.69 L194.45,204.32 L197.66,204.00 L200.88,203.64 L204.09,203.53 L207.30,202.96 L210.52,202.45 L213.73,201.99 L216.94,201.63 L220.16,201.21 L223.37,200.71 L226.58,200.07 L229.80,199.15 L233.01,198.17 L236.22,197.26 L239.44,196.85 L242.65,196.55 L245.87,196.62 L249.08,196.96 L252.29,197.41 L255.51,197.55 L258.72,198.09 L261.93,199.07 L265.15,200.98 L268.36,205.76 L271.57,210.23 L274.79,213.92 L278.00,218.09 L281.22,222.39 L284.43,227.71 L287.64,232.80 L290.86,237.67 L294.07,242.01 L297.28,246.27 L300.50,250.40 L303.71,254.68 L306.92,259.27 L310.14,263.47 L313.35,267.74 L316.56,272.19 L319.78,277.03 L322.99,281.40 L326.21,285.35 L329.42,289.40 L332.63,293.21 L335.85,297.07 L339.06,300.83 L342.27,305.10 L345.49,309.55 L348.70,314.03 L351.91,318.04 L355.13,322.05 L361.56,326.29 L364.77,331.12 L367.98,335.64 L371.20,340.62 L374.41,346.21 L377.62,351.83 L380.84,357.24 L384.05,362.49 L387.26,367.45 L390.48,372.77 L393.69,378.36 L396.90,383.61 L400.12,388.86 L403.33,393.26 L406.55,397.97 L409.76,402.04 L412.97,405.91 L416.19,409.68 L419.40,413.58 L422.61,416.98 L429.04,420.34 L432.25,422.80 L435.47,421.32 L438.68,420.66 L445.11,420.81 L448.32,420.15 L451.54,419.46 L454.75,417.32 L457.96,416.66 L461.18,415.76 L464.39,415.71 L467.60,416.10 L470.82,416.73 L474.03,416.65 L477.24,416.46 L480.46,416.79 L483.67,417.29 L486.89,417.29 L490.10,416.81 L493.31,416.15 L496.53,416.09 L499.74,415.85 L502.95,415.43 L506.17,414.54 L509.38,413.93 L512.59,412.94 L515.81,412.29 L519.02,411.70 L522.24,411.41 L525.45,411.10 L528.66,410.37 L531.88,408.70 L535.09,407.19 L538.30,405.66 L544.73,403.48 L547.94,401.26 L551.16,399.43 L554.37,397.76 L557.58,396.09 L560.80,394.14 L564.01,392.33 L567.23,391.13 L570.44,389.91 L573.65,388.69 L576.87,387.20 L580.08,386.04 L583.29,384.91 L586.51,383.84 L589.72,382.97 L592.93,381.91 L596.15,380.47 L599.36,379.29 L602.58,378.25 L605.79,377.08 L609.00,376.46 L612.22,375.85 L615.43,375.10 L618.64,374.49 L621.86,372.96 L625.07,371.67 L628.28,370.25 L631.50,369.19 L634.71,368.43 L637.92,368.07 L641.14,367.58 L644.35,367.05 L647.57,366.08 L653.99,365.30 L657.21,364.58 L660.42,363.78 L663.63,362.79 L666.85,361.59 L670.06,360.59 L673.27,359.74 L676.49,358.75 L679.70,358.51 L682.92,358.06 L686.13,357.64 L689.34,357.23 L692.56,356.81 L695.77,356.53 L698.98,356.33 L702.20,355.94 L705.41,355.57 L708.62,355.33 L711.84,355.13 L715.05,354.93 L718.26,354.93 L721.48,355.09 L724.69,355.37 L727.91,355.70 L731.12,355.94 L734.33,356.29 L737.55,356.90 L740.76,357.72 L743.97,358.56 L747.19,359.22 L750.40,359.73 L753.61,360.45 L756.83,361.52 L760.04,362.51 L763.26,363.15 L766.47,364.00 L769.68,364.77 L772.90,365.51 L776.11,366.35 L779.32,367.42 L785.75,367.96 L788.96,368.08 L792.18,368.29 L795.39,368.44 L798.60,368.22 L801.82,367.82 L805.03,367.01 L808.25,366.40 L811.46,365.61 L814.67,364.86 L817.89,363.77 L821.10,362.81 L824.31,362.56 L827.53,362.29 L830.74,362.32 L833.95,362.23 L837.17,361.97 L840.38,361.78 L843.60,360.94 L846.81,360.39 L850.02,359.61 L853.24,358.83 L856.45,357.80" fill="none" stroke="#24248e" stroke-width="1.25" stroke-linejoin="round"/>
<path d="M17.70,248.86 L20.91,248.13 L27.34,247.65 L30.55,246.61 L33.77,245.45 L36.98,244.59 L40.20,243.60 L43.41,242.90 L46.62,241.51 L49.84,240.32 L53.05,238.70 L56.26,236.77 L59.48,235.81 L62.69,235.62 L65.90,235.47 L69.12,235.50 L72.33,235.17 L75.54,234.53 L78.76,233.56 L81.97,231.88 L85.19,229.78 L88.40,227.75 L91.61,226.17 L94.83,225.06 L98.04,223.54 L101.25,221.29 L104.47,219.05 L107.68,215.85 L110.89,211.72 L114.11,208.22 L117.32,204.54 L120.54,201.38 L123.75,198.50 L126.96,197.02 L130.18,195.55 L133.39,193.08 L136.60,190.61 L139.82,188.96 L143.03,186.69 L146.24,185.15 L149.46,184.47 L152.67,184.84 L155.88,184.55 L159.10,185.74 L162.31,187.21 L165.53,188.88 L168.74,191.19 L175.17,194.00 L178.38,196.48 L181.59,197.98 L184.81,198.23 L188.02,198.20 L191.23,199.40 L194.45,201.16 L197.66,202.73 L200.88,204.18 L204.09,206.49 L207.30,206.50 L210.52,206.12 L213.73,206.11 L216.94,206.01 L220.16,205.20 L223.37,204.83 L226.58,204.46 L229.80,202.84 L233.01,201.22 L236.22,199.75 L239.44,200.46 L242.65,201.27 L245.87,203.01 L249.08,205.31 L252.29,207.79 L255.51,208.84 L258.72,211.96 L261.93,216.49 L265.15,224.26 L268.36,245.39 L271.57,262.01 L274.79,271.89 L278.00,283.53 L281.22,294.22 L284.43,309.46 L287.64,322.02 L290.86,333.54 L294.07,340.92 L297.28,345.71 L300.50,348.95 L303.71,353.29 L306.92,357.75 L310.14,360.25 L313.35,363.68 L316.56,368.86 L319.78,374.78 L322.99,379.34 L326.21,381.55 L329.42,384.40 L332.63,386.66 L335.85,389.80 L339.06,391.92 L342.27,395.46 L345.49,398.11 L348.70,400.21 L351.91,401.10 L355.13,402.59 L361.56,405.08 L364.77,410.36 L367.98,414.65 L371.20,418.11 L374.41,423.78 L377.62,429.35 L380.84,432.92 L384.05,434.24 L387.26,434.19 L390.48,435.81 L393.69,436.73 L396.90,435.42 L400.12,434.04 L403.33,431.16 L406.55,430.14 L409.76,427.30 L412.97,424.63 L416.19,422.10 L419.40,418.83 L422.61,416.23 L429.04,415.85 L432.25,415.80 L435.47,414.76 L438.68,414.06 L445.11,410.75 L448.32,406.95 L451.54,403.45 L454.75,399.64 L457.96,401.48 L461.18,401.92 L464.39,402.94 L467.60,403.75 L470.82,404.46 L474.03,403.25 L477.24,402.21 L480.46,402.04 L483.67,403.89 L486.89,405.41 L490.10,405.77 L493.31,404.40 L496.53,403.94 L499.74,403.59 L502.95,402.09 L506.17,399.62 L509.38,397.99 L512.59,396.36 L515.81,395.88 L519.02,395.45 L522.24,395.43 L525.45,395.97 L528.66,395.68 L531.88,393.95 L535.09,392.60 L538.30,390.88 L544.73,388.69 L547.94,386.89 L551.16,385.64 L554.37,383.44 L557.58,380.27 L560.80,377.60 L564.01,375.36 L567.23,374.17 L570.44,372.83 L573.65,370.08 L576.87,367.78 L580.08,365.48 L583.29,363.44 L586.51,361.76 L589.72,360.22 L592.93,358.25 L596.15,356.58 L599.36,356.54 L602.58,356.19 L605.79,355.47 L609.00,354.89 L612.22,353.66 L615.43,351.83 L618.64,350.20 L621.86,349.39 L625.07,348.64 L628.28,347.93 L631.50,348.85 L634.71,351.04 L637.92,353.14 L641.14,354.49 L644.35,356.28 L647.57,357.66 L653.99,359.71 L657.21,360.88 L660.42,359.96 L663.63,358.94 L666.85,357.10 L670.06,355.23 L673.27,353.20 L676.49,351.31 L679.70,352.92 L682.92,354.37 L686.13,355.84 L689.34,357.54 L692.56,359.59 L695.77,361.37 L698.98,361.92 L702.20,361.76 L705.41,361.20 L708.62,360.73 L711.84,360.64 L715.05,360.93 L718.26,361.12 L721.48,360.88 L724.69,361.43 L727.91,362.36 L731.12,363.58 L734.33,364.95 L737.55,365.88 L740.76,367.96 L743.97,369.69 L747.19,370.42 L750.40,370.52 L753.61,371.57 L756.83,373.68 L760.04,375.24 L763.26,376.53 L766.47,378.34 L769.68,379.19 L772.90,379.89 L776.11,380.28 L779.32,380.97 L785.75,379.06 L788.96,376.03 L792.18,373.68 L795.39,371.25 L798.60,368.88 L801.82,367.28 L805.03,364.02 L808.25,361.46 L811.46,358.85 L814.67,356.45 L817.89,353.48 L821.10,350.75 L824.31,349.61 L827.53,348.32 L830.74,347.64 L833.95,346.26 L837.17,343.91 L840.38,342.02 L843.60,340.60 L846.81,340.63 L850.02,339.75 L853.24,339.33 L856.45,338.25" fill="none" stroke="#2f7040" stroke-width="1.25" stroke-linejoin="round"/>
</g>
<g clip-path="url(#c2)" shape-rendering="crispEdges">
<rect x="17" y="244" width="1" height="6" fill="#bd1b2f"/>
<rect x="16" y="248" width="3" height="1" fill="#bd1b2f"/>
<rect x="20" y="239" width="1" height="9" fill="#000"/>
<rect x="19" y="241" width="3" height="1" fill="#000"/>
<rect x="27" y="240" width="1" height="6" fill="#000"/>
<rect x="26" y="243" width="3" height="1" fill="#000"/>
<rect x="30" y="234" width="1" height="9" fill="#000"/>
<rect x="29" y="236" width="3" height="1" fill="#000"/>
<rect x="33" y="234" width="1" height="6" fill="#000"/>
<rect x="32" y="234" width="3" height="1" fill="#000"/>
<rect x="36" y="231" width="1" height="6" fill="#bd1b2f"/>
<rect x="35" y="236" width="3" height="1" fill="#bd1b2f"/>
<rect x="40" y="234" width="1" height="5" fill="#000"/>
<rect x="39" y="234" width="3" height="1" fill="#000"/>
<rect x="43" y="234" width="1" height="7" fill="#bd1b2f"/>
<rect x="42" y="236" width="3" height="1" fill="#bd1b2f"/>
<rect x="46" y="228" width="1" height="9" fill="#000"/>
<rect x="45" y="228" width="3" height="1" fill="#000"/>
<rect x="49" y="225" width="1" height="8" fill="#bd1b2f"/>
<rect x="48" y="229" width="3" height="1" fill="#bd1b2f"/>
<rect x="53" y="223" width="1" height="7" fill="#000"/>
<rect x="52" y="223" width="3" height="1" fill="#000"/>
<rect x="56" y="218" width="1" height="7" fill="#000"/>
<rect x="55" y="218" width="3" height="1" fill="#000"/>
<rect x="59" y="218" width="1" height="10" fill="#bd1b2f"/>
<rect x="58" y="226" width="3" height="1" fill="#bd1b2f"/>
<rect x="62" y="224" width="1" height="12" fill="#bd1b2f"/>
<rect x="61" y="233" width="3" height="1" fill="#bd1b2f"/>
<rect x="65" y="232" width="1" height="5" fill="#bd1b2f"/>
<rect x="64" y="234" width="3" height="1" fill="#bd1b2f"/>
<rect x="69" y="231" width="1" height="10" fill="#bd1b2f"/>
<rect x="68" y="235" width="3" height="1" fill="#bd1b2f"/>
<rect x="72" y="232" width="1" height="3" fill="#000"/>
<rect x="71" y="232" width="3" height="1" fill="#000"/>
<rect x="75" y="228" width="1" height="6" fill="#000"/>
<rect x="74" y="228" width="3" height="1" fill="#000"/>
<rect x="78" y="224" width="1" height="6" fill="#000"/>
<rect x="77" y="224" width="3" height="1" fill="#000"/>
<rect x="81" y="216" width="1" height="9" fill="#000"/>
<rect x="80" y="216" width="3" height="1" fill="#000"/>
<rect x="85" y="210" width="1" height="6" fill="#000"/>
<rect x="84" y="210" width="3" height="1" fill="#000"/>
<rect x="88" y="208" width="1" height="4" fill="#000"/>
<rect x="87" y="208" width="3" height="1" fill="#000"/>
<rect x="91" y="204" width="1" height="10" fill="#bd1b2f"/>
<rect x="90" y="211" width="3" height="1" fill="#bd1b2f"/>
<rect x="94" y="210" width="1" height="9" fill="#bd1b2f"/>
<rect x="93" y="214" width="3" height="1" fill="#bd1b2f"/>
<rect x="98" y="208" width="1" height="6" fill="#000"/>
<rect x="97" y="209" width="3" height="1" fill="#000"/>
<rect x="101" y="200" width="1" height="11" fill="#000"/>
<rect x="100" y="200" width="3" height="1" fill="#000"/>
<rect x="104" y="196" width="1" height="6" fill="#000"/>
<rect x="103" y="198" width="3" height="1" fill="#000"/>
<rect x="107" y="186" width="1" height="13" fill="#000"/>
<rect x="106" y="186" width="3" height="1" fill="#000"/>
<rect x="110" y="173" width="1" height="14" fill="#000"/>
<rect x="109" y="173" width="3" height="1" fill="#000"/>
<rect x="114" y="170" width="1" height="9" fill="#bd1b2f"/>
<rect x="113" y="175" width="3" height="1" fill="#bd1b2f"/>
<rect x="117" y="169" width="1" height="5" fill="#000"/>
<rect x="116" y="170" width="3" height="1" fill="#000"/>
<rect x="120" y="168" width="1" height="8" fill="#bd1b2f"/>
<rect x="119" y="171" width="3" height="1" fill="#bd1b2f"/>
<rect x="123" y="168" width="1" height="6" fill="#000"/>
<rect x="122" y="171" width="3" height="1" fill="#000"/>
<rect x="126" y="171" width="1" height="19" fill="#bd1b2f"/>
<rect x="125" y="183" width="3" height="1" fill="#bd1b2f"/>
<rect x="130" y="181" width="1" height="9" fill="#000"/>
<rect x="129" y="181" width="3" height="1" fill="#000"/>
<rect x="133" y="169" width="1" height="13" fill="#000"/>
<rect x="132" y="169" width="3" height="1" fill="#000"/>
<rect x="136" y="167" width="1" height="4" fill="#000"/>
<rect x="135" y="167" width="3" height="1" fill="#000"/>
<rect x="139" y="168" width="1" height="9" fill="#bd1b2f"/>
<rect x="138" y="173" width="3" height="1" fill="#bd1b2f"/>
<rect x="143" y="164" width="1" height="10" fill="#000"/>
<rect x="142" y="165" width="3" height="1" fill="#000"/>
<rect x="146" y="165" width="1" height="6" fill="#bd1b2f"/>
<rect x="145" y="170" width="3" height="1" fill="#bd1b2f"/>
<rect x="149" y="169" width="1" height="10" fill="#bd1b2f"/>
<rect x="148" y="178" width="3" height="1" fill="#bd1b2f"/>
<rect x="152" y="178" width="1" height="11" fill="#bd1b2f"/>
<rect x="151" y="188" width="3" height="1" fill="#bd1b2f"/>
<rect x="155" y="181" width="1" height="7" fill="#000"/>
<rect x="154" y="181" width="3" height="1" fill="#000"/>
<rect x="159" y="176" width="1" height="23" fill="#bd1b2f"/>
<rect x="158" y="197" width="3" height="1" fill="#bd1b2f"/>
<rect x="162" y="194" width="1" height="15" fill="#bd1b2f"/>
<rect x="161" y="201" width="3" height="1" fill="#bd1b2f"/>
<rect x="165" y="195" width="1" height="16" fill="#bd1b2f"/>
<rect x="164" y="204" width="3" height="1" fill="#bd1b2f"/>
<rect x="168" y="200" width="1" height="14" fill="#bd1b2f"/>
<rect x="167" y="213" width="3" height="1" fill="#bd1b2f"/>
<rect x="175" y="213" width="1" height="21" fill="#000"/>
<rect x="174" y="221" width="3" height="1" fill="#000"/>
<rect x="178" y="216" width="1" height="9" fill="#000"/>
<rect x="177" y="220" width="3" height="1" fill="#000"/>
<rect x="181" y="211" width="1" height="9" fill="#000"/>
<rect x="180" y="212" width="3" height="1" fill="#000"/>
<rect x="184" y="198" width="1" height="14" fill="#000"/>
<rect x="183" y="200" width="3" height="1" fill="#000"/>
<rect x="188" y="196" width="1" height="9" fill="#000"/>
<rect x="187" y="197" width="3" height="1" fill="#000"/>
<rect x="191" y="198" width="1" height="13" fill="#bd1b2f"/>
<rect x="190" y="210" width="3" height="1" fill="#bd1b2f"/>
<rect x="194" y="206" width="1" height="13" fill="#bd1b2f"/>
<rect x="193" y="218" width="3" height="1" fill="#bd1b2f"/>
<rect x="197" y="215" width="1" height="6" fill="#000"/>
<rect x="196" y="217" width="3" height="1" fill="#000"/>
<rect x="200" y="212" width="1" height="7" fill="#bd1b2f"/>
<rect x="199" y="218" width="3" height="1" fill="#bd1b2f"/>
<rect x="204" y="211" width="1" height="20" fill="#bd1b2f"/>
<rect x="203" y="228" width="3" height="1" fill="#bd1b2f"/>
<rect x="207" y="206" width="1" height="28" fill="#000"/>
<rect x="206" y="206" width="3" height="1" fill="#000"/>
<rect x="210" y="202" width="1" height="6" fill="#000"/>
<rect x="209" y="202" width="3" height="1" fill="#000"/>
<rect x="213" y="200" width="1" height="8" fill="#bd1b2f"/>
<rect x="212" y="206" width="3" height="1" fill="#bd1b2f"/>
<rect x="216" y="204" width="1" height="7" fill="#000"/>
<rect x="215" y="204" width="3" height="1" fill="#000"/>
<rect x="220" y="192" width="1" height="13" fill="#000"/>
<rect x="219" y="197" width="3" height="1" fill="#000"/>
<rect x="223" y="194" width="1" height="10" fill="#bd1b2f"/>
<rect x="222" y="201" width="3" height="1" fill="#bd1b2f"/>
<rect x="226" y="199" width="1" height="6" fill="#000"/>
<rect x="225" y="200" width="3" height="1" fill="#000"/>
<rect x="229" y="187" width="1" height="15" fill="#000"/>
<rect x="228" y="187" width="3" height="1" fill="#000"/>
<rect x="233" y="183" width="1" height="5" fill="#000"/>
<rect x="232" y="185" width="3" height="1" fill="#000"/>
<rect x="236" y="184" width="1" height="6" fill="#000"/>
<rect x="235" y="185" width="3" height="1" fill="#000"/>
<rect x="239" y="186" width="1" height="22" fill="#bd1b2f"/>
<rect x="238" y="207" width="3" height="1" fill="#bd1b2f"/>
<rect x="242" y="207" width="1" height="9" fill="#bd1b2f"/>
<rect x="241" y="208" width="3" height="1" fill="#bd1b2f"/>
<rect x="245" y="208" width="1" height="17" fill="#bd1b2f"/>
<rect x="244" y="219" width="3" height="1" fill="#bd1b2f"/>
<rect x="249" y="217" width="1" height="11" fill="#bd1b2f"/>
<rect x="248" y="227" width="3" height="1" fill="#bd1b2f"/>
<rect x="252" y="227" width="1" height="12" fill="#bd1b2f"/>
<rect x="251" y="231" width="3" height="1" fill="#bd1b2f"/>
<rect x="255" y="218" width="1" height="13" fill="#000"/>
<rect x="254" y="218" width="3" height="1" fill="#000"/>
<rect x="258" y="218" width="1" height="25" fill="#bd1b2f"/>
<rect x="257" y="242" width="3" height="1" fill="#bd1b2f"/>
<rect x="261" y="242" width="1" height="19" fill="#bd1b2f"/>
<rect x="260" y="260" width="3" height="1" fill="#bd1b2f"/>
<rect x="265" y="259" width="1" height="46" fill="#bd1b2f"/>
<rect x="264" y="302" width="3" height="1" fill="#bd1b2f"/>
<rect x="268" y="413" width="1" height="69" fill="#bd1b2f"/>
<rect x="267" y="481" width="3" height="1" fill="#bd1b2f"/>
<rect x="271" y="412" width="1" height="99" fill="#000"/>
<rect x="270" y="440" width="3" height="1" fill="#000"/>
<rect x="274" y="369" width="1" height="66" fill="#000"/>
<rect x="273" y="372" width="3" height="1" fill="#000"/>
<rect x="278" y="372" width="1" height="49" fill="#bd1b2f"/>
<rect x="277" y="403" width="3" height="1" fill="#bd1b2f"/>
<rect x="281" y="396" width="1" height="25" fill="#bd1b2f"/>
<rect x="280" y="403" width="3" height="1" fill="#bd1b2f"/>
<rect x="284" y="405" width="1" height="68" fill="#bd1b2f"/>
<rect x="283" y="471" width="3" height="1" fill="#bd1b2f"/>
<rect x="287" y="437" width="1" height="35" fill="#000"/>
<rect x="286" y="452" width="3" height="1" fill="#000"/>
<rect x="290" y="434" width="1" height="42" fill="#000"/>
<rect x="289" y="452" width="3" height="1" fill="#000"/>
<rect x="294" y="408" width="1" height="45" fill="#000"/>
<rect x="293" y="414" width="3" height="1" fill="#000"/>
<rect x="297" y="385" width="1" height="30" fill="#000"/>
<rect x="296" y="392" width="3" height="1" fill="#000"/>
<rect x="300" y="380" width="1" height="21" fill="#000"/>
<rect x="299" y="380" width="3" height="1" fill="#000"/>
<rect x="303" y="380" width="1" height="41" fill="#bd1b2f"/>
<rect x="302" y="395" width="3" height="1" fill="#bd1b2f"/>
<rect x="306" y="395" width="1" height="15" fill="#bd1b2f"/>
<rect x="305" y="401" width="3" height="1" fill="#bd1b2f"/>
<rect x="310" y="379" width="1" height="26" fill="#000"/>
<rect x="309" y="384" width="3" height="1" fill="#000"/>
<rect x="313" y="376" width="1" height="24" fill="#bd1b2f"/>
<rect x="312" y="396" width="3" height="1" fill="#bd1b2f"/>
<rect x="316" y="398" width="1" height="23" fill="#bd1b2f"/>
<rect x="315" y="419" width="3" height="1" fill="#bd1b2f"/>
<rect x="319" y="419" width="1" height="20" fill="#bd1b2f"/>
<rect x="318" y="433" width="3" height="1" fill="#bd1b2f"/>
<rect x="322" y="418" width="1" height="15" fill="#000"/>
<rect x="321" y="423" width="3" height="1" fill="#000"/>
<rect x="326" y="398" width="1" height="26" fill="#000"/>
<rect x="325" y="402" width="3" height="1" fill="#000"/>
<rect x="329" y="400" width="1" height="13" fill="#bd1b2f"/>
<rect x="328" y="412" width="3" height="1" fill="#bd1b2f"/>
<rect x="332" y="399" width="1" height="13" fill="#000"/>
<rect x="331" y="408" width="3" height="1" fill="#000"/>
<rect x="335" y="408" width="1" height="19" fill="#bd1b2f"/>
<rect x="334" y="420" width="3" height="1" fill="#bd1b2f"/>
<rect x="339" y="412" width="1" height="16" fill="#000"/>
<rect x="338" y="412" width="3" height="1" fill="#000"/>
<rect x="342" y="412" width="1" height="19" fill="#bd1b2f"/>
<rect x="341" y="429" width="3" height="1" fill="#bd1b2f"/>
<rect x="345" y="423" width="1" height="21" fill="#000"/>
<rect x="344" y="423" width="3" height="1" fill="#000"/>
<rect x="348" y="420" width="1" height="9" fill="#000"/>
<rect x="347" y="420" width="3" height="1" fill="#000"/>
<rect x="351" y="405" width="1" height="19" fill="#000"/>
<rect x="350" y="409" width="3" height="1" fill="#000"/>
<rect x="355" y="409" width="1" height="9" fill="#bd1b2f"/>
<rect x="354" y="416" width="3" height="1" fill="#bd1b2f"/>
<rect x="361" y="417" width="1" height="13" fill="#000"/>
<rect x="360" y="429" width="3" height="1" fill="#000"/>
<rect x="364" y="429" width="1" height="50" fill="#bd1b2f"/>
<rect x="363" y="462" width="3" height="1" fill="#bd1b2f"/>
<rect x="367" y="450" width="1" height="12" fill="#000"/>
<rect x="366" y="457" width="3" height="5" fill="#000"/>
<rect x="367" y="458" width="1" height="3" fill="#fff"/>
<rect x="371" y="448" width="1" height="14" fill="#000"/>
<rect x="370" y="452" width="3" height="5" fill="#000"/>
<rect x="371" y="453" width="1" height="3" fill="#fff"/>
<rect x="374" y="450" width="1" height="31" fill="#bd1b2f"/>
<rect x="373" y="452" width="3" height="28" fill="#d8101c"/>
<rect x="377" y="479" width="1" height="15" fill="#bd1b2f"/>
<rect x="376" y="480" width="3" height="4" fill="#d8101c"/>
<rect x="380" y="467" width="1" height="18" fill="#000"/>
<rect x="379" y="468" width="3" height="16" fill="#000"/>
<rect x="380" y="469" width="1" height="14" fill="#fff"/>
<rect x="384" y="446" width="1" height="22" fill="#000"/>
<rect x="383" y="447" width="3" height="21" fill="#000"/>
<rect x="384" y="448" width="1" height="19" fill="#fff"/>
<rect x="387" y="430" width="1" height="18" fill="#000"/>
<rect x="386" y="434" width="3" height="13" fill="#000"/>
<rect x="387" y="435" width="1" height="11" fill="#fff"/>
<rect x="390" y="430" width="1" height="22" fill="#bd1b2f"/>
<rect x="389" y="434" width="3" height="17" fill="#d8101c"/>
<rect x="393" y="445" width="1" height="7" fill="#000"/>
<rect x="392" y="446" width="3" height="5" fill="#000"/>
<rect x="393" y="447" width="1" height="3" fill="#fff"/>
<rect x="396" y="423" width="1" height="24" fill="#000"/>
<rect x="395" y="423" width="3" height="23" fill="#000"/>
<rect x="396" y="424" width="1" height="21" fill="#fff"/>
<rect x="400" y="412" width="1" height="15" fill="#000"/>
<rect x="399" y="421" width="3" height="2" fill="#000"/>
<rect x="403" y="404" width="1" height="18" fill="#000"/>
<rect x="402" y="404" width="3" height="17" fill="#000"/>
<rect x="403" y="405" width="1" height="15" fill="#fff"/>
<rect x="406" y="400" width="1" height="21" fill="#bd1b2f"/>
<rect x="405" y="404" width="3" height="17" fill="#d8101c"/>
<rect x="409" y="401" width="1" height="20" fill="#000"/>
<rect x="408" y="401" width="3" height="20" fill="#000"/>
<rect x="409" y="402" width="1" height="18" fill="#fff"/>
<rect x="412" y="397" width="1" height="7" fill="#000"/>
<rect x="411" y="400" width="3" height="1" fill="#000"/>
<rect x="416" y="398" width="1" height="9" fill="#000"/>
<rect x="415" y="398" width="3" height="2" fill="#000"/>
<rect x="419" y="388" width="1" height="11" fill="#000"/>
<rect x="418" y="388" width="3" height="10" fill="#000"/>
<rect x="419" y="389" width="1" height="8" fill="#fff"/>
<rect x="422" y="388" width="1" height="5" fill="#bd1b2f"/>
<rect x="421" y="388" width="3" height="4" fill="#d8101c"/>
<rect x="429" y="392" width="1" height="24" fill="#000"/>
<rect x="427" y="392" width="4" height="20" fill="#000"/>
<rect x="432" y="412" width="1" height="4" fill="#bd1b2f"/>
<rect x="431" y="412" width="3" height="3" fill="#d8101c"/>
<rect x="435" y="405" width="1" height="10" fill="#000"/>
<rect x="434" y="405" width="3" height="10" fill="#000"/>
<rect x="435" y="406" width="1" height="8" fill="#fff"/>
<rect x="438" y="405" width="1" height="9" fill="#bd1b2f"/>
<rect x="437" y="405" width="3" height="2" fill="#d8101c"/>
<rect x="445" y="378" width="1" height="29" fill="#000"/>
<rect x="444" y="380" width="3" height="27" fill="#000"/>
<rect x="445" y="381" width="1" height="25" fill="#fff"/>
<rect x="448" y="363" width="1" height="17" fill="#000"/>
<rect x="447" y="371" width="3" height="1" fill="#000"/>
<rect x="451" y="368" width="1" height="9" fill="#000"/>
<rect x="450" y="370" width="3" height="1" fill="#000"/>
<rect x="454" y="363" width="1" height="17" fill="#000"/>
<rect x="453" y="364" width="3" height="1" fill="#000"/>
<rect x="457" y="364" width="1" height="57" fill="#bd1b2f"/>
<rect x="456" y="419" width="3" height="1" fill="#bd1b2f"/>
<rect x="461" y="406" width="1" height="21" fill="#000"/>
<rect x="460" y="406" width="3" height="1" fill="#000"/>
<rect x="464" y="406" width="1" height="23" fill="#bd1b2f"/>
<rect x="463" y="412" width="3" height="1" fill="#bd1b2f"/>
<rect x="467" y="401" width="1" height="25" fill="#000"/>
<rect x="466" y="411" width="3" height="1" fill="#000"/>
<rect x="470" y="407" width="1" height="8" fill="#000"/>
<rect x="469" y="411" width="3" height="1" fill="#000"/>
<rect x="474" y="387" width="1" height="24" fill="#000"/>
<rect x="473" y="391" width="3" height="1" fill="#000"/>
<rect x="477" y="389" width="1" height="10" fill="#bd1b2f"/>
<rect x="476" y="392" width="3" height="1" fill="#bd1b2f"/>
<rect x="480" y="388" width="1" height="15" fill="#bd1b2f"/>
<rect x="479" y="400" width="3" height="1" fill="#bd1b2f"/>
<rect x="483" y="401" width="1" height="26" fill="#bd1b2f"/>
<rect x="482" y="421" width="3" height="1" fill="#bd1b2f"/>
<rect x="486" y="418" width="1" height="11" fill="#000"/>
<rect x="485" y="419" width="3" height="1" fill="#000"/>
<rect x="490" y="409" width="1" height="12" fill="#000"/>
<rect x="489" y="409" width="3" height="1" fill="#000"/>
<rect x="493" y="389" width="1" height="20" fill="#000"/>
<rect x="492" y="391" width="3" height="1" fill="#000"/>
<rect x="496" y="390" width="1" height="12" fill="#bd1b2f"/>
<rect x="495" y="399" width="3" height="1" fill="#bd1b2f"/>
<rect x="499" y="389" width="1" height="14" fill="#bd1b2f"/>
<rect x="498" y="400" width="3" height="1" fill="#bd1b2f"/>
<rect x="502" y="387" width="1" height="14" fill="#000"/>
<rect x="501" y="388" width="3" height="1" fill="#000"/>
<rect x="506" y="376" width="1" height="14" fill="#000"/>
<rect x="505" y="376" width="3" height="1" fill="#000"/>
<rect x="509" y="372" width="1" height="13" fill="#bd1b2f"/>
<rect x="508" y="382" width="3" height="1" fill="#bd1b2f"/>
<rect x="512" y="379" width="1" height="10" fill="#000"/>
<rect x="511" y="381" width="3" height="1" fill="#000"/>
<rect x="515" y="376" width="1" height="20" fill="#bd1b2f"/>
<rect x="514" y="391" width="3" height="1" fill="#bd1b2f"/>
<rect x="519" y="389" width="1" height="9" fill="#000"/>
<rect x="518" y="391" width="3" height="1" fill="#000"/>
<rect x="522" y="386" width="1" height="10" fill="#bd1b2f"/>
<rect x="521" y="395" width="3" height="1" fill="#bd1b2f"/>
<rect x="525" y="395" width="1" height="10" fill="#bd1b2f"/>
<rect x="524" y="401" width="3" height="1" fill="#bd1b2f"/>
<rect x="528" y="393" width="1" height="9" fill="#000"/>
<rect x="527" y="393" width="3" height="1" fill="#000"/>
<rect x="531" y="377" width="1" height="17" fill="#000"/>
<rect x="530" y="377" width="3" height="1" fill="#000"/>
<rect x="535" y="375" width="1" height="7" fill="#bd1b2f"/>
<rect x="534" y="379" width="3" height="1" fill="#bd1b2f"/>
<rect x="538" y="371" width="1" height="9" fill="#000"/>
<rect x="537" y="374" width="3" height="1" fill="#000"/>
<rect x="544" y="368" width="1" height="11" fill="#000"/>
<rect x="543" y="368" width="3" height="1" fill="#000"/>
<rect x="547" y="363" width="1" height="11" fill="#bd1b2f"/>
<rect x="546" y="369" width="3" height="1" fill="#bd1b2f"/>
<rect x="551" y="368" width="1" height="10" fill="#bd1b2f"/>
<rect x="550" y="373" width="3" height="1" fill="#bd1b2f"/>
<rect x="554" y="362" width="1" height="12" fill="#000"/>
<rect x="553" y="362" width="3" height="1" fill="#000"/>
<rect x="557" y="349" width="1" height="16" fill="#000"/>
<rect x="556" y="350" width="3" height="1" fill="#000"/>
<rect x="560" y="349" width="1" height="10" fill="#bd1b2f"/>
<rect x="559" y="352" width="3" height="1" fill="#bd1b2f"/>
<rect x="564" y="349" width="1" height="7" fill="#bd1b2f"/>
<rect x="563" y="354" width="3" height="1" fill="#bd1b2f"/>
<rect x="567" y="344" width="1" height="21" fill="#bd1b2f"/>
<rect x="566" y="362" width="3" height="1" fill="#bd1b2f"/>
<rect x="570" y="358" width="1" height="6" fill="#000"/>
<rect x="569" y="360" width="3" height="1" fill="#000"/>
<rect x="573" y="344" width="1" height="17" fill="#000"/>
<rect x="572" y="344" width="3" height="1" fill="#000"/>
<rect x="576" y="344" width="1" height="8" fill="#bd1b2f"/>
<rect x="575" y="346" width="3" height="1" fill="#bd1b2f"/>
<rect x="580" y="341" width="1" height="6" fill="#000"/>
<rect x="579" y="343" width="3" height="1" fill="#000"/>
<rect x="583" y="342" width="1" height="6" fill="#bd1b2f"/>
<rect x="582" y="344" width="3" height="1" fill="#bd1b2f"/>
<rect x="586" y="342" width="1" height="11" fill="#bd1b2f"/>
<rect x="585" y="345" width="3" height="1" fill="#bd1b2f"/>
<rect x="589" y="345" width="1" height="5" fill="#000"/>
<rect x="588" y="345" width="3" height="1" fill="#000"/>
<rect x="592" y="338" width="1" height="7" fill="#000"/>
<rect x="591" y="339" width="3" height="1" fill="#000"/>
<rect x="596" y="336" width="1" height="6" fill="#bd1b2f"/>
<rect x="595" y="340" width="3" height="1" fill="#bd1b2f"/>
<rect x="599" y="339" width="1" height="17" fill="#bd1b2f"/>
<rect x="598" y="355" width="3" height="1" fill="#bd1b2f"/>
<rect x="602" y="353" width="1" height="11" fill="#000"/>
<rect x="601" y="353" width="3" height="1" fill="#000"/>
<rect x="605" y="348" width="1" height="7" fill="#000"/>
<rect x="604" y="348" width="3" height="1" fill="#000"/>
<rect x="609" y="347" width="1" height="6" fill="#bd1b2f"/>
<rect x="608" y="349" width="3" height="1" fill="#bd1b2f"/>
<rect x="612" y="342" width="1" height="11" fill="#000"/>
<rect x="611" y="342" width="3" height="1" fill="#000"/>
<rect x="615" y="334" width="1" height="8" fill="#000"/>
<rect x="614" y="334" width="3" height="1" fill="#000"/>
<rect x="618" y="330" width="1" height="9" fill="#bd1b2f"/>
<rect x="617" y="334" width="3" height="1" fill="#bd1b2f"/>
<rect x="621" y="335" width="1" height="11" fill="#bd1b2f"/>
<rect x="620" y="341" width="3" height="1" fill="#bd1b2f"/>
<rect x="625" y="338" width="1" height="7" fill="#000"/>
<rect x="624" y="341" width="3" height="1" fill="#000"/>
<rect x="628" y="337" width="1" height="8" fill="#000"/>
<rect x="627" y="341" width="3" height="1" fill="#000"/>
<rect x="631" y="340" width="1" height="21" fill="#bd1b2f"/>
<rect x="630" y="357" width="3" height="1" fill="#bd1b2f"/>
<rect x="634" y="357" width="1" height="17" fill="#bd1b2f"/>
<rect x="633" y="372" width="3" height="1" fill="#bd1b2f"/>
<rect x="637" y="372" width="1" height="8" fill="#bd1b2f"/>
<rect x="636" y="373" width="3" height="1" fill="#bd1b2f"/>
<rect x="641" y="365" width="1" height="8" fill="#000"/>
<rect x="640" y="367" width="3" height="1" fill="#000"/>
<rect x="644" y="363" width="1" height="12" fill="#bd1b2f"/>
<rect x="643" y="373" width="3" height="1" fill="#bd1b2f"/>
<rect x="647" y="369" width="1" height="10" fill="#000"/>
<rect x="646" y="370" width="3" height="1" fill="#000"/>
<rect x="653" y="370" width="1" height="11" fill="#000"/>
<rect x="652" y="379" width="3" height="1" fill="#000"/>
<rect x="657" y="372" width="1" height="7" fill="#000"/>
<rect x="656" y="372" width="3" height="1" fill="#000"/>
<rect x="660" y="351" width="1" height="22" fill="#000"/>
<rect x="659" y="351" width="3" height="1" fill="#000"/>
<rect x="663" y="346" width="1" height="6" fill="#000"/>
<rect x="662" y="349" width="3" height="1" fill="#000"/>
<rect x="666" y="337" width="1" height="12" fill="#000"/>
<rect x="665" y="339" width="3" height="1" fill="#000"/>
<rect x="670" y="337" width="1" height="6" fill="#000"/>
<rect x="669" y="337" width="3" height="1" fill="#000"/>
<rect x="673" y="332" width="1" height="7" fill="#000"/>
<rect x="672" y="334" width="3" height="1" fill="#000"/>
<rect x="676" y="332" width="1" height="8" fill="#000"/>
<rect x="675" y="333" width="3" height="1" fill="#000"/>
<rect x="679" y="333" width="1" height="36" fill="#bd1b2f"/>
<rect x="678" y="368" width="3" height="1" fill="#bd1b2f"/>
<rect x="682" y="366" width="1" height="13" fill="#000"/>
<rect x="681" y="368" width="3" height="1" fill="#000"/>
<rect x="686" y="368" width="1" height="5" fill="#bd1b2f"/>
<rect x="685" y="369" width="3" height="1" fill="#bd1b2f"/>
<rect x="689" y="361" width="1" height="14" fill="#bd1b2f"/>
<rect x="688" y="373" width="3" height="1" fill="#bd1b2f"/>
<rect x="692" y="372" width="1" height="8" fill="#bd1b2f"/>
<rect x="691" y="379" width="3" height="1" fill="#bd1b2f"/>
<rect x="695" y="366" width="1" height="18" fill="#000"/>
<rect x="694" y="378" width="3" height="1" fill="#000"/>
<rect x="698" y="364" width="1" height="14" fill="#000"/>
<rect x="697" y="367" width="3" height="1" fill="#000"/>
<rect x="702" y="356" width="1" height="11" fill="#000"/>
<rect x="701" y="360" width="3" height="1" fill="#000"/>
<rect x="705" y="352" width="1" height="9" fill="#000"/>
<rect x="704" y="355" width="3" height="1" fill="#000"/>
<rect x="708" y="352" width="1" height="6" fill="#bd1b2f"/>
<rect x="707" y="356" width="3" height="1" fill="#bd1b2f"/>
<rect x="711" y="355" width="1" height="6" fill="#bd1b2f"/>
<rect x="710" y="359" width="3" height="1" fill="#bd1b2f"/>
<rect x="715" y="359" width="1" height="9" fill="#bd1b2f"/>
<rect x="714" y="363" width="3" height="1" fill="#bd1b2f"/>
<rect x="718" y="361" width="1" height="6" fill="#000"/>
<rect x="717" y="362" width="3" height="1" fill="#000"/>
<rect x="721" y="355" width="1" height="9" fill="#000"/>
<rect x="720" y="358" width="3" height="1" fill="#000"/>
<rect x="724" y="358" width="1" height="9" fill="#bd1b2f"/>
<rect x="723" y="366" width="3" height="1" fill="#bd1b2f"/>
<rect x="727" y="366" width="1" height="8" fill="#bd1b2f"/>
<rect x="726" y="371" width="3" height="1" fill="#bd1b2f"/>
<rect x="731" y="366" width="1" height="11" fill="#bd1b2f"/>
<rect x="730" y="375" width="3" height="1" fill="#bd1b2f"/>
<rect x="734" y="373" width="1" height="9" fill="#bd1b2f"/>
<rect x="733" y="378" width="3" height="1" fill="#bd1b2f"/>
<rect x="737" y="372" width="1" height="9" fill="#000"/>
<rect x="736" y="374" width="3" height="1" fill="#000"/>
<rect x="740" y="374" width="1" height="18" fill="#bd1b2f"/>
<rect x="739" y="387" width="3" height="1" fill="#bd1b2f"/>
<rect x="743" y="383" width="1" height="6" fill="#000"/>
<rect x="742" y="386" width="3" height="1" fill="#000"/>
<rect x="747" y="377" width="1" height="10" fill="#000"/>
<rect x="746" y="377" width="3" height="1" fill="#000"/>
<rect x="750" y="370" width="1" height="9" fill="#000"/>
<rect x="749" y="371" width="3" height="1" fill="#000"/>
<rect x="753" y="367" width="1" height="15" fill="#bd1b2f"/>
<rect x="752" y="381" width="3" height="1" fill="#bd1b2f"/>
<rect x="756" y="380" width="1" height="17" fill="#bd1b2f"/>
<rect x="755" y="394" width="3" height="1" fill="#bd1b2f"/>
<rect x="760" y="390" width="1" height="13" fill="#000"/>
<rect x="759" y="390" width="3" height="1" fill="#000"/>
<rect x="763" y="387" width="1" height="6" fill="#000"/>
<rect x="762" y="388" width="3" height="1" fill="#000"/>
<rect x="766" y="388" width="1" height="11" fill="#bd1b2f"/>
<rect x="765" y="395" width="3" height="1" fill="#bd1b2f"/>
<rect x="769" y="387" width="1" height="9" fill="#000"/>
<rect x="768" y="387" width="3" height="1" fill="#000"/>
<rect x="772" y="381" width="1" height="7" fill="#000"/>
<rect x="771" y="386" width="3" height="1" fill="#000"/>
<rect x="776" y="383" width="1" height="5" fill="#000"/>
<rect x="775" y="383" width="3" height="1" fill="#000"/>
<rect x="779" y="384" width="1" height="6" fill="#bd1b2f"/>
<rect x="778" y="387" width="3" height="1" fill="#bd1b2f"/>
<rect x="785" y="361" width="1" height="27" fill="#000"/>
<rect x="784" y="361" width="3" height="1" fill="#000"/>
<rect x="788" y="345" width="1" height="17" fill="#000"/>
<rect x="787" y="347" width="3" height="1" fill="#000"/>
<rect x="792" y="347" width="1" height="9" fill="#bd1b2f"/>
<rect x="791" y="351" width="3" height="1" fill="#bd1b2f"/>
<rect x="795" y="347" width="1" height="8" fill="#000"/>
<rect x="794" y="348" width="3" height="1" fill="#000"/>
<rect x="798" y="346" width="1" height="7" fill="#000"/>
<rect x="797" y="346" width="3" height="1" fill="#000"/>
<rect x="801" y="346" width="1" height="9" fill="#bd1b2f"/>
<rect x="800" y="352" width="3" height="1" fill="#bd1b2f"/>
<rect x="805" y="332" width="1" height="21" fill="#000"/>
<rect x="804" y="333" width="3" height="1" fill="#000"/>
<rect x="808" y="332" width="1" height="6" fill="#bd1b2f"/>
<rect x="807" y="337" width="3" height="1" fill="#bd1b2f"/>
<rect x="811" y="329" width="1" height="8" fill="#000"/>
<rect x="810" y="334" width="3" height="1" fill="#000"/>
<rect x="814" y="332" width="1" height="5" fill="#000"/>
<rect x="813" y="334" width="3" height="1" fill="#000"/>
<rect x="817" y="320" width="1" height="14" fill="#000"/>
<rect x="816" y="325" width="3" height="1" fill="#000"/>
<rect x="821" y="324" width="1" height="6" fill="#000"/>
<rect x="820" y="325" width="3" height="1" fill="#000"/>
<rect x="824" y="325" width="1" height="17" fill="#bd1b2f"/>
<rect x="823" y="338" width="3" height="1" fill="#bd1b2f"/>
<rect x="827" y="336" width="1" height="7" fill="#000"/>
<rect x="826" y="336" width="3" height="1" fill="#000"/>
<rect x="830" y="336" width="1" height="7" fill="#bd1b2f"/>
<rect x="829" y="341" width="3" height="1" fill="#bd1b2f"/>
<rect x="833" y="333" width="1" height="13" fill="#000"/>
<rect x="832" y="333" width="3" height="1" fill="#000"/>
<rect x="837" y="318" width="1" height="15" fill="#000"/>
<rect x="836" y="321" width="3" height="1" fill="#000"/>
<rect x="840" y="321" width="1" height="6" fill="#bd1b2f"/>
<rect x="839" y="324" width="3" height="1" fill="#bd1b2f"/>
<rect x="843" y="323" width="1" height="6" fill="#bd1b2f"/>
<rect x="842" y="327" width="3" height="1" fill="#bd1b2f"/>
<rect x="846" y="327" width="1" height="15" fill="#bd1b2f"/>
<rect x="845" y="340" width="3" height="1" fill="#bd1b2f"/>
<rect x="850" y="330" width="1" height="10" fill="#000"/>
<rect x="849" y="331" width="3" height="1" fill="#000"/>
<rect x="853" y="329" width="1" height="7" fill="#bd1b2f"/>
<rect x="852" y="335" width="3" height="1" fill="#bd1b2f"/>
<rect x="856" y="328" width="1" height="8" fill="#000"/>
<rect x="855" y="328" width="3" height="1" fill="#000"/>
</g>
<line x1="421.5" y1="416.7" x2="858.8" y2="416.7" stroke="#58a23e" stroke-width="2.2"/>
<g clip-path="url(#c3)">
<clipPath id="c70"><rect x="16.5" y="531.5" width="846.0" height="41.049999999999955"/></clipPath>
<clipPath id="c30"><rect x="16.5" y="618.05" width="846.0" height="40.450000000000045"/></clipPath>
<path d="M17.70,590.46 L20.91,585.17 L27.34,587.05 L30.55,582.41 L33.77,580.84 L36.98,583.13 L40.20,581.49 L43.41,583.84 L46.62,577.99 L49.84,578.86 L53.05,574.83 L56.26,571.87 L59.48,582.26 L62.69,589.96 L65.90,590.17 L69.12,591.95 L72.33,588.52 L75.54,585.45 L78.76,581.96 L81.97,576.02 L85.19,572.41 L88.40,571.53 L91.61,575.32 L94.83,579.82 L98.04,575.91 L101.25,570.54 L104.47,569.35 L107.68,563.78 L110.89,559.44 L114.11,562.36 L117.32,560.56 L120.54,562.68 L123.75,562.57 L126.96,577.32 L130.18,576.51 L133.39,570.36 L136.60,569.22 L139.82,576.26 L143.03,572.14 L146.24,577.73 L149.46,585.04 L152.67,593.49 L155.88,589.12 L159.10,599.55 L162.31,601.96 L165.53,603.98 L168.74,608.51 L175.17,612.14 L178.38,611.39 L181.59,604.91 L184.81,596.52 L188.02,594.78 L191.23,602.54 L194.45,606.16 L197.66,606.03 L200.88,606.12 L204.09,611.63 L207.30,596.19 L210.52,593.82 L213.73,595.98 L216.94,595.30 L220.16,590.71 L223.37,593.26 L226.58,593.03 L229.80,584.93 L233.01,583.95 L236.22,583.94 L239.44,599.36 L242.65,600.33 L245.87,606.18 L249.08,609.81 L252.29,611.69 L255.51,602.39 L258.72,612.27 L261.93,617.90 L265.15,626.35 L268.36,639.25 L271.57,629.14 L274.79,614.39 L278.00,617.26 L281.22,617.27 L284.43,622.57 L287.64,619.03 L290.86,618.97 L294.07,611.55 L297.28,607.37 L300.50,605.06 L303.71,607.09 L306.92,607.86 L310.14,604.25 L313.35,606.15 L316.56,609.40 L319.78,611.20 L322.99,608.98 L326.21,604.06 L329.42,605.58 L332.63,604.70 L335.85,606.83 L339.06,604.67 L342.27,607.96 L345.49,606.17 L348.70,605.23 L351.91,601.97 L355.13,603.69 L361.56,606.45 L364.77,612.88 L367.98,611.02 L371.20,609.39 L374.41,614.56 L377.62,615.31 L380.84,609.57 L384.05,602.98 L387.26,599.06 L390.48,603.33 L393.69,601.53 L396.90,594.92 L400.12,594.35 L403.33,589.63 L406.55,594.69 L409.76,589.32 L412.97,589.00 L416.19,588.63 L419.40,585.74 L422.61,587.17 L429.04,594.72 L432.25,595.79 L435.47,592.19 L438.68,593.14 L445.11,584.24 L448.32,581.93 L451.54,581.70 L454.75,579.75 L457.96,600.20 L461.18,596.14 L464.39,598.08 L467.60,597.66 L470.82,597.58 L474.03,590.88 L477.24,591.09 L480.46,594.23 L483.67,601.57 L486.89,600.92 L490.10,596.67 L493.31,590.26 L496.53,593.45 L499.74,593.69 L502.95,589.15 L506.17,585.15 L509.38,588.07 L512.59,587.47 L515.81,592.41 L519.02,592.41 L522.24,594.32 L525.45,597.13 L528.66,593.10 L531.88,586.41 L535.09,587.63 L538.30,585.40 L544.73,582.59 L547.94,583.83 L551.16,586.48 L554.37,581.37 L557.58,576.61 L560.80,577.98 L564.01,579.32 L567.23,585.61 L570.44,584.29 L573.65,577.20 L576.87,578.57 L580.08,577.59 L583.29,577.85 L586.51,579.41 L589.72,579.29 L592.93,576.05 L596.15,577.21 L599.36,591.23 L602.58,589.08 L605.79,586.35 L609.00,586.98 L612.22,582.20 L615.43,577.93 L618.64,578.23 L621.86,585.22 L625.07,585.02 L628.28,584.87 L631.50,599.33 L634.71,608.19 L637.92,608.92 L641.14,603.73 L644.35,607.27 L647.57,605.12 L653.99,609.97 L657.21,603.71 L660.42,589.75 L663.63,588.64 L666.85,583.51 L670.06,582.43 L673.27,580.63 L676.49,580.31 L679.70,603.00 L682.92,602.96 L686.13,603.80 L689.34,605.76 L692.56,608.41 L695.77,607.72 L698.98,599.41 L702.20,594.86 L705.41,592.13 L708.62,592.41 L711.84,594.99 L715.05,597.72 L718.26,597.18 L721.48,593.76 L724.69,599.86 L727.91,603.01 L731.12,605.60 L734.33,607.42 L737.55,604.24 L740.76,612.17 L743.97,610.56 L747.19,602.40 L750.40,597.64 L753.61,604.24 L756.83,610.80 L760.04,607.72 L763.26,606.57 L766.47,610.23 L769.68,603.36 L772.90,602.74 L776.11,600.52 L779.32,603.06 L785.75,585.21 L788.96,578.96 L792.18,581.99 L795.39,580.45 L798.60,579.61 L801.82,584.20 L805.03,575.63 L808.25,578.71 L811.46,577.36 L814.67,577.13 L817.89,573.46 L821.10,573.27 L824.31,585.23 L827.53,583.79 L830.74,587.86 L833.95,583.34 L837.17,577.69 L840.38,579.76 L843.60,582.34 L846.81,592.70 L850.02,587.32 L853.24,590.04 L856.45,585.98 L856.45,572.55 L17.70,572.55 Z" fill="#7fa89f" clip-path="url(#c70)"/>
<path d="M17.70,590.46 L20.91,585.17 L27.34,587.05 L30.55,582.41 L33.77,580.84 L36.98,583.13 L40.20,581.49 L43.41,583.84 L46.62,577.99 L49.84,578.86 L53.05,574.83 L56.26,571.87 L59.48,582.26 L62.69,589.96 L65.90,590.17 L69.12,591.95 L72.33,588.52 L75.54,585.45 L78.76,581.96 L81.97,576.02 L85.19,572.41 L88.40,571.53 L91.61,575.32 L94.83,579.82 L98.04,575.91 L101.25,570.54 L104.47,569.35 L107.68,563.78 L110.89,559.44 L114.11,562.36 L117.32,560.56 L120.54,562.68 L123.75,562.57 L126.96,577.32 L130.18,576.51 L133.39,570.36 L136.60,569.22 L139.82,576.26 L143.03,572.14 L146.24,577.73 L149.46,585.04 L152.67,593.49 L155.88,589.12 L159.10,599.55 L162.31,601.96 L165.53,603.98 L168.74,608.51 L175.17,612.14 L178.38,611.39 L181.59,604.91 L184.81,596.52 L188.02,594.78 L191.23,602.54 L194.45,606.16 L197.66,606.03 L200.88,606.12 L204.09,611.63 L207.30,596.19 L210.52,593.82 L213.73,595.98 L216.94,595.30 L220.16,590.71 L223.37,593.26 L226.58,593.03 L229.80,584.93 L233.01,583.95 L236.22,583.94 L239.44,599.36 L242.65,600.33 L245.87,606.18 L249.08,609.81 L252.29,611.69 L255.51,602.39 L258.72,612.27 L261.93,617.90 L265.15,626.35 L268.36,639.25 L271.57,629.14 L274.79,614.39 L278.00,617.26 L281.22,617.27 L284.43,622.57 L287.64,619.03 L290.86,618.97 L294.07,611.55 L297.28,607.37 L300.50,605.06 L303.71,607.09 L306.92,607.86 L310.14,604.25 L313.35,606.15 L316.56,609.40 L319.78,611.20 L322.99,608.98 L326.21,604.06 L329.42,605.58 L332.63,604.70 L335.85,606.83 L339.06,604.67 L342.27,607.96 L345.49,606.17 L348.70,605.23 L351.91,601.97 L355.13,603.69 L361.56,606.45 L364.77,612.88 L367.98,611.02 L371.20,609.39 L374.41,614.56 L377.62,615.31 L380.84,609.57 L384.05,602.98 L387.26,599.06 L390.48,603.33 L393.69,601.53 L396.90,594.92 L400.12,594.35 L403.33,589.63 L406.55,594.69 L409.76,589.32 L412.97,589.00 L416.19,588.63 L419.40,585.74 L422.61,587.17 L429.04,594.72 L432.25,595.79 L435.47,592.19 L438.68,593.14 L445.11,584.24 L448.32,581.93 L451.54,581.70 L454.75,579.75 L457.96,600.20 L461.18,596.14 L464.39,598.08 L467.60,597.66 L470.82,597.58 L474.03,590.88 L477.24,591.09 L480.46,594.23 L483.67,601.57 L486.89,600.92 L490.10,596.67 L493.31,590.26 L496.53,593.45 L499.74,593.69 L502.95,589.15 L506.17,585.15 L509.38,588.07 L512.59,587.47 L515.81,592.41 L519.02,592.41 L522.24,594.32 L525.45,597.13 L528.66,593.10 L531.88,586.41 L535.09,587.63 L538.30,585.40 L544.73,582.59 L547.94,583.83 L551.16,586.48 L554.37,581.37 L557.58,576.61 L560.80,577.98 L564.01,579.32 L567.23,585.61 L570.44,584.29 L573.65,577.20 L576.87,578.57 L580.08,577.59 L583.29,577.85 L586.51,579.41 L589.72,579.29 L592.93,576.05 L596.15,577.21 L599.36,591.23 L602.58,589.08 L605.79,586.35 L609.00,586.98 L612.22,582.20 L615.43,577.93 L618.64,578.23 L621.86,585.22 L625.07,585.02 L628.28,584.87 L631.50,599.33 L634.71,608.19 L637.92,608.92 L641.14,603.73 L644.35,607.27 L647.57,605.12 L653.99,609.97 L657.21,603.71 L660.42,589.75 L663.63,588.64 L666.85,583.51 L670.06,582.43 L673.27,580.63 L676.49,580.31 L679.70,603.00 L682.92,602.96 L686.13,603.80 L689.34,605.76 L692.56,608.41 L695.77,607.72 L698.98,599.41 L702.20,594.86 L705.41,592.13 L708.62,592.41 L711.84,594.99 L715.05,597.72 L718.26,597.18 L721.48,593.76 L724.69,599.86 L727.91,603.01 L731.12,605.60 L734.33,607.42 L737.55,604.24 L740.76,612.17 L743.97,610.56 L747.19,602.40 L750.40,597.64 L753.61,604.24 L756.83,610.80 L760.04,607.72 L763.26,606.57 L766.47,610.23 L769.68,603.36 L772.90,602.74 L776.11,600.52 L779.32,603.06 L785.75,585.21 L788.96,578.96 L792.18,581.99 L795.39,580.45 L798.60,579.61 L801.82,584.20 L805.03,575.63 L808.25,578.71 L811.46,577.36 L814.67,577.13 L817.89,573.46 L821.10,573.27 L824.31,585.23 L827.53,583.79 L830.74,587.86 L833.95,583.34 L837.17,577.69 L840.38,579.76 L843.60,582.34 L846.81,592.70 L850.02,587.32 L853.24,590.04 L856.45,585.98 L856.45,618.05 L17.70,618.05 Z" fill="#7fa89f" clip-path="url(#c30)"/>
<line x1="16.5" y1="572.5" x2="862.5" y2="572.5" stroke="#6a6c76" stroke-width="1" shape-rendering="crispEdges"/>
<line x1="16.5" y1="618.5" x2="862.5" y2="618.5" stroke="#6a6c76" stroke-width="1" shape-rendering="crispEdges"/>
<line x1="16.5" y1="595.5" x2="862.5" y2="595.5" stroke="#6a6c76" stroke-width="1" stroke-dasharray="8,2,2,2" shape-rendering="crispEdges"/>
<path d="M17.70,590.46 L20.91,585.17 L27.34,587.05 L30.55,582.41 L33.77,580.84 L36.98,583.13 L40.20,581.49 L43.41,583.84 L46.62,577.99 L49.84,578.86 L53.05,574.83 L56.26,571.87 L59.48,582.26 L62.69,589.96 L65.90,590.17 L69.12,591.95 L72.33,588.52 L75.54,585.45 L78.76,581.96 L81.97,576.02 L85.19,572.41 L88.40,571.53 L91.61,575.32 L94.83,579.82 L98.04,575.91 L101.25,570.54 L104.47,569.35 L107.68,563.78 L110.89,559.44 L114.11,562.36 L117.32,560.56 L120.54,562.68 L123.75,562.57 L126.96,577.32 L130.18,576.51 L133.39,570.36 L136.60,569.22 L139.82,576.26 L143.03,572.14 L146.24,577.73 L149.46,585.04 L152.67,593.49 L155.88,589.12 L159.10,599.55 L162.31,601.96 L165.53,603.98 L168.74,608.51 L175.17,612.14 L178.38,611.39 L181.59,604.91 L184.81,596.52 L188.02,594.78 L191.23,602.54 L194.45,606.16 L197.66,606.03 L200.88,606.12 L204.09,611.63 L207.30,596.19 L210.52,593.82 L213.73,595.98 L216.94,595.30 L220.16,590.71 L223.37,593.26 L226.58,593.03 L229.80,584.93 L233.01,583.95 L236.22,583.94 L239.44,599.36 L242.65,600.33 L245.87,606.18 L249.08,609.81 L252.29,611.69 L255.51,602.39 L258.72,612.27 L261.93,617.90 L265.15,626.35 L268.36,639.25 L271.57,629.14 L274.79,614.39 L278.00,617.26 L281.22,617.27 L284.43,622.57 L287.64,619.03 L290.86,618.97 L294.07,611.55 L297.28,607.37 L300.50,605.06 L303.71,607.09 L306.92,607.86 L310.14,604.25 L313.35,606.15 L316.56,609.40 L319.78,611.20 L322.99,608.98 L326.21,604.06 L329.42,605.58 L332.63,604.70 L335.85,606.83 L339.06,604.67 L342.27,607.96 L345.49,606.17 L348.70,605.23 L351.91,601.97 L355.13,603.69 L361.56,606.45 L364.77,612.88 L367.98,611.02 L371.20,609.39 L374.41,614.56 L377.62,615.31 L380.84,609.57 L384.05,602.98 L387.26,599.06 L390.48,603.33 L393.69,601.53 L396.90,594.92 L400.12,594.35 L403.33,589.63 L406.55,594.69 L409.76,589.32 L412.97,589.00 L416.19,588.63 L419.40,585.74 L422.61,587.17 L429.04,594.72 L432.25,595.79 L435.47,592.19 L438.68,593.14 L445.11,584.24 L448.32,581.93 L451.54,581.70 L454.75,579.75 L457.96,600.20 L461.18,596.14 L464.39,598.08 L467.60,597.66 L470.82,597.58 L474.03,590.88 L477.24,591.09 L480.46,594.23 L483.67,601.57 L486.89,600.92 L490.10,596.67 L493.31,590.26 L496.53,593.45 L499.74,593.69 L502.95,589.15 L506.17,585.15 L509.38,588.07 L512.59,587.47 L515.81,592.41 L519.02,592.41 L522.24,594.32 L525.45,597.13 L528.66,593.10 L531.88,586.41 L535.09,587.63 L538.30,585.40 L544.73,582.59 L547.94,583.83 L551.16,586.48 L554.37,581.37 L557.58,576.61 L560.80,577.98 L564.01,579.32 L567.23,585.61 L570.44,584.29 L573.65,577.20 L576.87,578.57 L580.08,577.59 L583.29,577.85 L586.51,579.41 L589.72,579.29 L592.93,576.05 L596.15,577.21 L599.36,591.23 L602.58,589.08 L605.79,586.35 L609.00,586.98 L612.22,582.20 L615.43,577.93 L618.64,578.23 L621.86,585.22 L625.07,585.02 L628.28,584.87 L631.50,599.33 L634.71,608.19 L637.92,608.92 L641.14,603.73 L644.35,607.27 L647.57,605.12 L653.99,609.97 L657.21,603.71 L660.42,589.75 L663.63,588.64 L666.85,583.51 L670.06,582.43 L673.27,580.63 L676.49,580.31 L679.70,603.00 L682.92,602.96 L686.13,603.80 L689.34,605.76 L692.56,608.41 L695.77,607.72 L698.98,599.41 L702.20,594.86 L705.41,592.13 L708.62,592.41 L711.84,594.99 L715.05,597.72 L718.26,597.18 L721.48,593.76 L724.69,599.86 L727.91,603.01 L731.12,605.60 L734.33,607.42 L737.55,604.24 L740.76,612.17 L743.97,610.56 L747.19,602.40 L750.40,597.64 L753.61,604.24 L756.83,610.80 L760.04,607.72 L763.26,606.57 L766.47,610.23 L769.68,603.36 L772.90,602.74 L776.11,600.52 L779.32,603.06 L785.75,585.21 L788.96,578.96 L792.18,581.99 L795.39,580.45 L798.60,579.61 L801.82,584.20 L805.03,575.63 L808.25,578.71 L811.46,577.36 L814.67,577.13 L817.89,573.46 L821.10,573.27 L824.31,585.23 L827.53,583.79 L830.74,587.86 L833.95,583.34 L837.17,577.69 L840.38,579.76 L843.60,582.34 L846.81,592.70 L850.02,587.32 L853.24,590.04 L856.45,585.98" fill="none" stroke="#60678e" stroke-width="1.15" stroke-linejoin="round"/>
</g>
<rect x="16.5" y="28.5" width="846.0" height="489.0" fill="none" stroke="#70747f" stroke-width="1"/>
<line x1="16.5" y1="155.5" x2="862.5" y2="155.5" stroke="#444" stroke-width="1"/>
<rect x="16.5" y="531.5" width="846.0" height="127.0" fill="none" stroke="#70747f" stroke-width="1"/>
<g shape-rendering="crispEdges" fill="#5a5d68">
<rect x="91" y="518" width="1" height="2"/>
<rect x="91" y="529" width="1" height="2"/>
<rect x="91" y="659" width="1" height="2"/>
<rect x="159" y="518" width="1" height="2"/>
<rect x="159" y="529" width="1" height="2"/>
<rect x="159" y="659" width="1" height="2"/>
<rect x="229" y="518" width="1" height="2"/>
<rect x="229" y="529" width="1" height="2"/>
<rect x="229" y="659" width="1" height="2"/>
<rect x="300" y="518" width="1" height="2"/>
<rect x="300" y="529" width="1" height="2"/>
<rect x="300" y="659" width="1" height="2"/>
<rect x="367" y="518" width="1" height="2"/>
<rect x="367" y="529" width="1" height="2"/>
<rect x="367" y="659" width="1" height="2"/>
<rect x="441" y="518" width="1" height="2"/>
<rect x="441" y="529" width="1" height="2"/>
<rect x="441" y="659" width="1" height="2"/>
<rect x="509" y="518" width="1" height="2"/>
<rect x="509" y="529" width="1" height="2"/>
<rect x="509" y="659" width="1" height="2"/>
<rect x="576" y="518" width="1" height="2"/>
<rect x="576" y="529" width="1" height="2"/>
<rect x="576" y="659" width="1" height="2"/>
<rect x="650" y="518" width="1" height="2"/>
<rect x="650" y="529" width="1" height="2"/>
<rect x="650" y="659" width="1" height="2"/>
<rect x="718" y="518" width="1" height="2"/>
<rect x="718" y="529" width="1" height="2"/>
<rect x="718" y="659" width="1" height="2"/>
<rect x="788" y="518" width="1" height="2"/>
<rect x="788" y="529" width="1" height="2"/>
<rect x="788" y="659" width="1" height="2"/>
</g>
<g shape-rendering="crispEdges" fill="#666a76">
<rect x="17" y="518" width="1" height="1"/>
<rect x="20" y="518" width="1" height="1"/>
<rect x="24" y="518" width="1" height="1"/>
<rect x="27" y="518" width="1" height="1"/>
<rect x="30" y="518" width="1" height="1"/>
<rect x="33" y="518" width="1" height="1"/>
<rect x="36" y="518" width="1" height="1"/>
<rect x="40" y="518" width="1" height="1"/>
<rect x="43" y="518" width="1" height="1"/>
<rect x="46" y="518" width="1" height="1"/>
<rect x="49" y="518" width="1" height="1"/>
<rect x="53" y="518" width="1" height="1"/>
<rect x="56" y="518" width="1" height="1"/>
<rect x="59" y="518" width="1" height="1"/>
<rect x="62" y="518" width="1" height="1"/>
<rect x="65" y="518" width="1" height="1"/>
<rect x="69" y="518" width="1" height="1"/>
<rect x="72" y="518" width="1" height="1"/>
<rect x="75" y="518" width="1" height="1"/>
<rect x="78" y="518" width="1" height="1"/>
<rect x="81" y="518" width="1" height="1"/>
<rect x="85" y="518" width="1" height="1"/>
<rect x="88" y="518" width="1" height="1"/>
<rect x="91" y="518" width="1" height="1"/>
<rect x="94" y="518" width="1" height="1"/>
<rect x="98" y="518" width="1" height="1"/>
<rect x="101" y="518" width="1" height="1"/>
<rect x="104" y="518" width="1" height="1"/>
<rect x="107" y="518" width="1" height="1"/>
<rect x="110" y="518" width="1" height="1"/>
<rect x="114" y="518" width="1" height="1"/>
<rect x="117" y="518" width="1" height="1"/>
<rect x="120" y="518" width="1" height="1"/>
<rect x="123" y="518" width="1" height="1"/>
<rect x="126" y="518" width="1" height="1"/>
<rect x="130" y="518" width="1" height="1"/>
<rect x="133" y="518" width="1" height="1"/>
<rect x="136" y="518" width="1" height="1"/>
<rect x="139" y="518" width="1" height="1"/>
<rect x="143" y="518" width="1" height="1"/>
<rect x="146" y="518" width="1" height="1"/>
<rect x="149" y="518" width="1" height="1"/>
<rect x="152" y="518" width="1" height="1"/>
<rect x="155" y="518" width="1" height="1"/>
<rect x="159" y="518" width="1" height="1"/>
<rect x="162" y="518" width="1" height="1"/>
<rect x="165" y="518" width="1" height="1"/>
<rect x="168" y="518" width="1" height="1"/>
<rect x="171" y="518" width="1" height="1"/>
<rect x="175" y="518" width="1" height="1"/>
<rect x="178" y="518" width="1" height="1"/>
<rect x="181" y="518" width="1" height="1"/>
<rect x="184" y="518" width="1" height="1"/>
<rect x="188" y="518" width="1" height="1"/>
<rect x="191" y="518" width="1" height="1"/>
<rect x="194" y="518" width="1" height="1"/>
<rect x="197" y="518" width="1" height="1"/>
<rect x="200" y="518" width="1" height="1"/>
<rect x="204" y="518" width="1" height="1"/>
<rect x="207" y="518" width="1" height="1"/>
<rect x="210" y="518" width="1" height="1"/>
<rect x="213" y="518" width="1" height="1"/>
<rect x="216" y="518" width="1" height="1"/>
<rect x="220" y="518" width="1" height="1"/>
<rect x="223" y="518" width="1" height="1"/>
<rect x="226" y="518" width="1" height="1"/>
<rect x="229" y="518" width="1" height="1"/>
<rect x="233" y="518" width="1" height="1"/>
<rect x="236" y="518" width="1" height="1"/>
<rect x="239" y="518" width="1" height="1"/>
<rect x="242" y="518" width="1" height="1"/>
<rect x="245" y="518" width="1" height="1"/>
<rect x="249" y="518" width="1" height="1"/>
<rect x="252" y="518" width="1" height="1"/>
<rect x="255" y="518" width="1" height="1"/>
<rect x="258" y="518" width="1" height="1"/>
<rect x="261" y="518" width="1" height="1"/>
<rect x="265" y="518" width="1" height="1"/>
<rect x="268" y="518" width="1" height="1"/>
<rect x="271" y="518" width="1" height="1"/>
<rect x="274" y="518" width="1" height="1"/>
<rect x="278" y="518" width="1" height="1"/>
<rect x="281" y="518" width="1" height="1"/>
<rect x="284" y="518" width="1" height="1"/>
<rect x="287" y="518" width="1" height="1"/>
<rect x="290" y="518" width="1" height="1"/>
<rect x="294" y="518" width="1" height="1"/>
<rect x="297" y="518" width="1" height="1"/>
<rect x="300" y="518" width="1" height="1"/>
<rect x="303" y="518" width="1" height="1"/>
<rect x="306" y="518" width="1" height="1"/>
<rect x="310" y="518" width="1" height="1"/>
<rect x="313" y="518" width="1" height="1"/>
<rect x="316" y="518" width="1" height="1"/>
<rect x="319" y="518" width="1" height="1"/>
<rect x="322" y="518" width="1" height="1"/>
<rect x="326" y="518" width="1" height="1"/>
<rect x="329" y="518" width="1" height="1"/>
<rect x="332" y="518" width="1" height="1"/>
<rect x="335" y="518" width="1" height="1"/>
<rect x="339" y="518" width="1" height="1"/>
<rect x="342" y="518" width="1" height="1"/>
<rect x="345" y="518" width="1" height="1"/>
<rect x="348" y="518" width="1" height="1"/>
<rect x="351" y="518" width="1" height="1"/>
<rect x="355" y="518" width="1" height="1"/>
<rect x="358" y="518" width="1" height="1"/>
<rect x="361" y="518" width="1" height="1"/>
<rect x="364" y="518" width="1" height="1"/>
<rect x="367" y="518" width="1" height="1"/>
<rect x="371" y="518" width="1" height="1"/>
<rect x="374" y="518" width="1" height="1"/>
<rect x="377" y="518" width="1" height="1"/>
<rect x="380" y="518" width="1" height="1"/>
<rect x="384" y="518" width="1" height="1"/>
<rect x="387" y="518" width="1" height="1"/>
<rect x="390" y="518" width="1" height="1"/>
<rect x="393" y="518" width="1" height="1"/>
<rect x="396" y="518" width="1" height="1"/>
<rect x="400" y="518" width="1" height="1"/>
<rect x="403" y="518" width="1" height="1"/>
<rect x="406" y="518" width="1" height="1"/>
<rect x="409" y="518" width="1" height="1"/>
<rect x="412" y="518" width="1" height="1"/>
<rect x="416" y="518" width="1" height="1"/>
<rect x="419" y="518" width="1" height="1"/>
<rect x="422" y="518" width="1" height="1"/>
<rect x="425" y="518" width="1" height="1"/>
<rect x="429" y="518" width="1" height="1"/>
<rect x="432" y="518" width="1" height="1"/>
<rect x="435" y="518" width="1" height="1"/>
<rect x="438" y="518" width="1" height="1"/>
<rect x="441" y="518" width="1" height="1"/>
<rect x="445" y="518" width="1" height="1"/>
<rect x="448" y="518" width="1" height="1"/>
<rect x="451" y="518" width="1" height="1"/>
<rect x="454" y="518" width="1" height="1"/>
<rect x="457" y="518" width="1" height="1"/>
<rect x="461" y="518" width="1" height="1"/>
<rect x="464" y="518" width="1" height="1"/>
<rect x="467" y="518" width="1" height="1"/>
<rect x="470" y="518" width="1" height="1"/>
<rect x="474" y="518" width="1" height="1"/>
<rect x="477" y="518" width="1" height="1"/>
<rect x="480" y="518" width="1" height="1"/>
<rect x="483" y="518" width="1" height="1"/>
<rect x="486" y="518" width="1" height="1"/>
<rect x="490" y="518" width="1" height="1"/>
<rect x="493" y="518" width="1" height="1"/>
<rect x="496" y="518" width="1" height="1"/>
<rect x="499" y="518" width="1" height="1"/>
<rect x="502" y="518" width="1" height="1"/>
<rect x="506" y="518" width="1" height="1"/>
<rect x="509" y="518" width="1" height="1"/>
<rect x="512" y="518" width="1" height="1"/>
<rect x="515" y="518" width="1" height="1"/>
<rect x="519" y="518" width="1" height="1"/>
<rect x="522" y="518" width="1" height="1"/>
<rect x="525" y="518" width="1" height="1"/>
<rect x="528" y="518" width="1" height="1"/>
<rect x="531" y="518" width="1" height="1"/>
<rect x="535" y="518" width="1" height="1"/>
<rect x="538" y="518" width="1" height="1"/>
<rect x="541" y="518" width="1" height="1"/>
<rect x="544" y="518" width="1" height="1"/>
<rect x="547" y="518" width="1" height="1"/>
<rect x="551" y="518" width="1" height="1"/>
<rect x="554" y="518" width="1" height="1"/>
<rect x="557" y="518" width="1" height="1"/>
<rect x="560" y="518" width="1" height="1"/>
<rect x="564" y="518" width="1" height="1"/>
<rect x="567" y="518" width="1" height="1"/>
<rect x="570" y="518" width="1" height="1"/>
<rect x="573" y="518" width="1" height="1"/>
<rect x="576" y="518" width="1" height="1"/>
<rect x="580" y="518" width="1" height="1"/>
<rect x="583" y="518" width="1" height="1"/>
<rect x="586" y="518" width="1" height="1"/>
<rect x="589" y="518" width="1" height="1"/>
<rect x="592" y="518" width="1" height="1"/>
<rect x="596" y="518" width="1" height="1"/>
<rect x="599" y="518" width="1" height="1"/>
<rect x="602" y="518" width="1" height="1"/>
<rect x="605" y="518" width="1" height="1"/>
<rect x="609" y="518" width="1" height="1"/>
<rect x="612" y="518" width="1" height="1"/>
<rect x="615" y="518" width="1" height="1"/>
<rect x="618" y="518" width="1" height="1"/>
<rect x="621" y="518" width="1" height="1"/>
<rect x="625" y="518" width="1" height="1"/>
<rect x="628" y="518" width="1" height="1"/>
<rect x="631" y="518" width="1" height="1"/>
<rect x="634" y="518" width="1" height="1"/>
<rect x="637" y="518" width="1" height="1"/>
<rect x="641" y="518" width="1" height="1"/>
<rect x="644" y="518" width="1" height="1"/>
<rect x="647" y="518" width="1" height="1"/>
<rect x="650" y="518" width="1" height="1"/>
<rect x="653" y="518" width="1" height="1"/>
<rect x="657" y="518" width="1" height="1"/>
<rect x="660" y="518" width="1" height="1"/>
<rect x="663" y="518" width="1" height="1"/>
<rect x="666" y="518" width="1" height="1"/>
<rect x="670" y="518" width="1" height="1"/>
<rect x="673" y="518" width="1" height="1"/>
<rect x="676" y="518" width="1" height="1"/>
<rect x="679" y="518" width="1" height="1"/>
<rect x="682" y="518" width="1" height="1"/>
<rect x="686" y="518" width="1" height="1"/>
<rect x="689" y="518" width="1" height="1"/>
<rect x="692" y="518" width="1" height="1"/>
<rect x="695" y="518" width="1" height="1"/>
<rect x="698" y="518" width="1" height="1"/>
<rect x="702" y="518" width="1" height="1"/>
<rect x="705" y="518" width="1" height="1"/>
<rect x="708" y="518" width="1" height="1"/>
<rect x="711" y="518" width="1" height="1"/>
<rect x="715" y="518" width="1" height="1"/>
<rect x="718" y="518" width="1" height="1"/>
<rect x="721" y="518" width="1" height="1"/>
<rect x="724" y="518" width="1" height="1"/>
<rect x="727" y="518" width="1" height="1"/>
<rect x="731" y="518" width="1" height="1"/>
<rect x="734" y="518" width="1" height="1"/>
<rect x="737" y="518" width="1" height="1"/>
<rect x="740" y="518" width="1" height="1"/>
<rect x="743" y="518" width="1" height="1"/>
<rect x="747" y="518" width="1" height="1"/>
<rect x="750" y="518" width="1" height="1"/>
<rect x="753" y="518" width="1" height="1"/>
<rect x="756" y="518" width="1" height="1"/>
<rect x="760" y="518" width="1" height="1"/>
<rect x="763" y="518" width="1" height="1"/>
<rect x="766" y="518" width="1" height="1"/>
<rect x="769" y="518" width="1" height="1"/>
<rect x="772" y="518" width="1" height="1"/>
<rect x="776" y="518" width="1" height="1"/>
<rect x="779" y="518" width="1" height="1"/>
<rect x="782" y="518" width="1" height="1"/>
<rect x="785" y="518" width="1" height="1"/>
<rect x="788" y="518" width="1" height="1"/>
<rect x="792" y="518" width="1" height="1"/>
<rect x="795" y="518" width="1" height="1"/>
<rect x="798" y="518" width="1" height="1"/>
<rect x="801" y="518" width="1" height="1"/>
<rect x="805" y="518" width="1" height="1"/>
<rect x="808" y="518" width="1" height="1"/>
<rect x="811" y="518" width="1" height="1"/>
<rect x="814" y="518" width="1" height="1"/>
<rect x="817" y="518" width="1" height="1"/>
<rect x="821" y="518" width="1" height="1"/>
<rect x="824" y="518" width="1" height="1"/>
<rect x="827" y="518" width="1" height="1"/>
<rect x="830" y="518" width="1" height="1"/>
<rect x="833" y="518" width="1" height="1"/>
<rect x="837" y="518" width="1" height="1"/>
<rect x="840" y="518" width="1" height="1"/>
<rect x="843" y="518" width="1" height="1"/>
<rect x="846" y="518" width="1" height="1"/>
<rect x="850" y="518" width="1" height="1"/>
<rect x="853" y="518" width="1" height="1"/>
<rect x="856" y="518" width="1" height="1"/>
<rect x="17" y="530" width="1" height="1"/>
<rect x="20" y="530" width="1" height="1"/>
<rect x="24" y="530" width="1" height="1"/>
<rect x="27" y="530" width="1" height="1"/>
<rect x="30" y="530" width="1" height="1"/>
<rect x="33" y="530" width="1" height="1"/>
<rect x="36" y="530" width="1" height="1"/>
<rect x="40" y="530" width="1" height="1"/>
<rect x="43" y="530" width="1" height="1"/>
<rect x="46" y="530" width="1" height="1"/>
<rect x="49" y="530" width="1" height="1"/>
<rect x="53" y="530" width="1" height="1"/>
<rect x="56" y="530" width="1" height="1"/>
<rect x="59" y="530" width="1" height="1"/>
<rect x="62" y="530" width="1" height="1"/>
<rect x="65" y="530" width="1" height="1"/>
<rect x="69" y="530" width="1" height="1"/>
<rect x="72" y="530" width="1" height="1"/>
<rect x="75" y="530" width="1" height="1"/>
<rect x="78" y="530" width="1" height="1"/>
<rect x="81" y="530" width="1" height="1"/>
<rect x="85" y="530" width="1" height="1"/>
<rect x="88" y="530" width="1" height="1"/>
<rect x="91" y="530" width="1" height="1"/>
<rect x="94" y="530" width="1" height="1"/>
<rect x="98" y="530" width="1" height="1"/>
<rect x="101" y="530" width="1" height="1"/>
<rect x="104" y="530" width="1" height="1"/>
<rect x="107" y="530" width="1" height="1"/>
<rect x="110" y="530" width="1" height="1"/>
<rect x="114" y="530" width="1" height="1"/>
<rect x="117" y="530" width="1" height="1"/>
<rect x="120" y="530" width="1" height="1"/>
<rect x="123" y="530" width="1" height="1"/>
<rect x="126" y="530" width="1" height="1"/>
<rect x="130" y="530" width="1" height="1"/>
<rect x="133" y="530" width="1" height="1"/>
<rect x="136" y="530" width="1" height="1"/>
<rect x="139" y="530" width="1" height="1"/>
<rect x="143" y="530" width="1" height="1"/>
<rect x="146" y="530" width="1" height="1"/>
<rect x="149" y="530" width="1" height="1"/>
<rect x="152" y="530" width="1" height="1"/>
<rect x="155" y="530" width="1" height="1"/>
<rect x="159" y="530" width="1" height="1"/>
<rect x="162" y="530" width="1" height="1"/>
<rect x="165" y="530" width="1" height="1"/>
<rect x="168" y="530" width="1" height="1"/>
<rect x="171" y="530" width="1" height="1"/>
<rect x="175" y="530" width="1" height="1"/>
<rect x="178" y="530" width="1" height="1"/>
<rect x="181" y="530" width="1" height="1"/>
<rect x="184" y="530" width="1" height="1"/>
<rect x="188" y="530" width="1" height="1"/>
<rect x="191" y="530" width="1" height="1"/>
<rect x="194" y="530" width="1" height="1"/>
<rect x="197" y="530" width="1" height="1"/>
<rect x="200" y="530" width="1" height="1"/>
<rect x="204" y="530" width="1" height="1"/>
<rect x="207" y="530" width="1" height="1"/>
<rect x="210" y="530" width="1" height="1"/>
<rect x="213" y="530" width="1" height="1"/>
<rect x="216" y="530" width="1" height="1"/>
<rect x="220" y="530" width="1" height="1"/>
<rect x="223" y="530" width="1" height="1"/>
<rect x="226" y="530" width="1" height="1"/>
<rect x="229" y="530" width="1" height="1"/>
<rect x="233" y="530" width="1" height="1"/>
<rect x="236" y="530" width="1" height="1"/>
<rect x="239" y="530" width="1" height="1"/>
<rect x="242" y="530" width="1" height="1"/>
<rect x="245" y="530" width="1" height="1"/>
<rect x="249" y="530" width="1" height="1"/>
<rect x="252" y="530" width="1" height="1"/>
<rect x="255" y="530" width="1" height="1"/>
<rect x="258" y="530" width="1" height="1"/>
<rect x="261" y="530" width="1" height="1"/>
<rect x="265" y="530" width="1" height="1"/>
<rect x="268" y="530" width="1" height="1"/>
<rect x="271" y="530" width="1" height="1"/>
<rect x="274" y="530" width="1" height="1"/>
<rect x="278" y="530" width="1" height="1"/>
<rect x="281" y="530" width="1" height="1"/>
<rect x="284" y="530" width="1" height="1"/>
<rect x="287" y="530" width="1" height="1"/>
<rect x="290" y="530" width="1" height="1"/>
<rect x="294" y="530" width="1" height="1"/>
<rect x="297" y="530" width="1" height="1"/>
<rect x="300" y="530" width="1" height="1"/>
<rect x="303" y="530" width="1" height="1"/>
<rect x="306" y="530" width="1" height="1"/>
<rect x="310" y="530" width="1" height="1"/>
<rect x="313" y="530" width="1" height="1"/>
<rect x="316" y="530" width="1" height="1"/>
<rect x="319" y="530" width="1" height="1"/>
<rect x="322" y="530" width="1" height="1"/>
<rect x="326" y="530" width="1" height="1"/>
<rect x="329" y="530" width="1" height="1"/>
<rect x="332" y="530" width="1" height="1"/>
<rect x="335" y="530" width="1" height="1"/>
<rect x="339" y="530" width="1" height="1"/>
<rect x="342" y="530" width="1" height="1"/>
<rect x="345" y="530" width="1" height="1"/>
<rect x="348" y="530" width="1" height="1"/>
<rect x="351" y="530" width="1" height="1"/>
<rect x="355" y="530" width="1" height="1"/>
<rect x="358" y="530" width="1" height="1"/>
<rect x="361" y="530" width="1" height="1"/>
<rect x="364" y="530" width="1" height="1"/>
<rect x="367" y="530" width="1" height="1"/>
<rect x="371" y="530" width="1" height="1"/>
<rect x="374" y="530" width="1" height="1"/>
<rect x="377" y="530" width="1" height="1"/>
<rect x="380" y="530" width="1" height="1"/>
<rect x="384" y="530" width="1" height="1"/>
<rect x="387" y="530" width="1" height="1"/>
<rect x="390" y="530" width="1" height="1"/>
<rect x="393" y="530" width="1" height="1"/>
<rect x="396" y="530" width="1" height="1"/>
<rect x="400" y="530" width="1" height="1"/>
<rect x="403" y="530" width="1" height="1"/>
<rect x="406" y="530" width="1" height="1"/>
<rect x="409" y="530" width="1" height="1"/>
<rect x="412" y="530" width="1" height="1"/>
<rect x="416" y="530" width="1" height="1"/>
<rect x="419" y="530" width="1" height="1"/>
<rect x="422" y="530" width="1" height="1"/>
<rect x="425" y="530" width="1" height="1"/>
<rect x="429" y="530" width="1" height="1"/>
<rect x="432" y="530" width="1" height="1"/>
<rect x="435" y="530" width="1" height="1"/>
<rect x="438" y="530" width="1" height="1"/>
<rect x="441" y="530" width="1" height="1"/>
<rect x="445" y="530" width="1" height="1"/>
<rect x="448" y="530" width="1" height="1"/>
<rect x="451" y="530" width="1" height="1"/>
<rect x="454" y="530" width="1" height="1"/>
<rect x="457" y="530" width="1" height="1"/>
<rect x="461" y="530" width="1" height="1"/>
<rect x="464" y="530" width="1" height="1"/>
<rect x="467" y="530" width="1" height="1"/>
<rect x="470" y="530" width="1" height="1"/>
<rect x="474" y="530" width="1" height="1"/>
<rect x="477" y="530" width="1" height="1"/>
<rect x="480" y="530" width="1" height="1"/>
<rect x="483" y="530" width="1" height="1"/>
<rect x="486" y="530" width="1" height="1"/>
<rect x="490" y="530" width="1" height="1"/>
<rect x="493" y="530" width="1" height="1"/>
<rect x="496" y="530" width="1" height="1"/>
<rect x="499" y="530" width="1" height="1"/>
<rect x="502" y="530" width="1" height="1"/>
<rect x="506" y="530" width="1" height="1"/>
<rect x="509" y="530" width="1" height="1"/>
<rect x="512" y="530" width="1" height="1"/>
<rect x="515" y="530" width="1" height="1"/>
<rect x="519" y="530" width="1" height="1"/>
<rect x="522" y="530" width="1" height="1"/>
<rect x="525" y="530" width="1" height="1"/>
<rect x="528" y="530" width="1" height="1"/>
<rect x="531" y="530" width="1" height="1"/>
<rect x="535" y="530" width="1" height="1"/>
<rect x="538" y="530" width="1" height="1"/>
<rect x="541" y="530" width="1" height="1"/>
<rect x="544" y="530" width="1" height="1"/>
<rect x="547" y="530" width="1" height="1"/>
<rect x="551" y="530" width="1" height="1"/>
<rect x="554" y="530" width="1" height="1"/>
<rect x="557" y="530" width="1" height="1"/>
<rect x="560" y="530" width="1" height="1"/>
<rect x="564" y="530" width="1" height="1"/>
<rect x="567" y="530" width="1" height="1"/>
<rect x="570" y="530" width="1" height="1"/>
<rect x="573" y="530" width="1" height="1"/>
<rect x="576" y="530" width="1" height="1"/>
<rect x="580" y="530" width="1" height="1"/>
<rect x="583" y="530" width="1" height="1"/>
<rect x="586" y="530" width="1" height="1"/>
<rect x="589" y="530" width="1" height="1"/>
<rect x="592" y="530" width="1" height="1"/>
<rect x="596" y="530" width="1" height="1"/>
<rect x="599" y="530" width="1" height="1"/>
<rect x="602" y="530" width="1" height="1"/>
<rect x="605" y="530" width="1" height="1"/>
<rect x="609" y="530" width="1" height="1"/>
<rect x="612" y="530" width="1" height="1"/>
<rect x="615" y="530" width="1" height="1"/>
<rect x="618" y="530" width="1" height="1"/>
<rect x="621" y="530" width="1" height="1"/>
<rect x="625" y="530" width="1" height="1"/>
<rect x="628" y="530" width="1" height="1"/>
<rect x="631" y="530" width="1" height="1"/>
<rect x="634" y="530" width="1" height="1"/>
<rect x="637" y="530" width="1" height="1"/>
<rect x="641" y="530" width="1" height="1"/>
<rect x="644" y="530" width="1" height="1"/>
<rect x="647" y="530" width="1" height="1"/>
<rect x="650" y="530" width="1" height="1"/>
<rect x="653" y="530" width="1" height="1"/>
<rect x="657" y="530" width="1" height="1"/>
<rect x="660" y="530" width="1" height="1"/>
<rect x="663" y="530" width="1" height="1"/>
<rect x="666" y="530" width="1" height="1"/>
<rect x="670" y="530" width="1" height="1"/>
<rect x="673" y="530" width="1" height="1"/>
<rect x="676" y="530" width="1" height="1"/>
<rect x="679" y="530" width="1" height="1"/>
<rect x="682" y="530" width="1" height="1"/>
<rect x="686" y="530" width="1" height="1"/>
<rect x="689" y="530" width="1" height="1"/>
<rect x="692" y="530" width="1" height="1"/>
<rect x="695" y="530" width="1" height="1"/>
<rect x="698" y="530" width="1" height="1"/>
<rect x="702" y="530" width="1" height="1"/>
<rect x="705" y="530" width="1" height="1"/>
<rect x="708" y="530" width="1" height="1"/>
<rect x="711" y="530" width="1" height="1"/>
<rect x="715" y="530" width="1" height="1"/>
<rect x="718" y="530" width="1" height="1"/>
<rect x="721" y="530" width="1" height="1"/>
<rect x="724" y="530" width="1" height="1"/>
<rect x="727" y="530" width="1" height="1"/>
<rect x="731" y="530" width="1" height="1"/>
<rect x="734" y="530" width="1" height="1"/>
<rect x="737" y="530" width="1" height="1"/>
<rect x="740" y="530" width="1" height="1"/>
<rect x="743" y="530" width="1" height="1"/>
<rect x="747" y="530" width="1" height="1"/>
<rect x="750" y="530" width="1" height="1"/>
<rect x="753" y="530" width="1" height="1"/>
<rect x="756" y="530" width="1" height="1"/>
<rect x="760" y="530" width="1" height="1"/>
<rect x="763" y="530" width="1" height="1"/>
<rect x="766" y="530" width="1" height="1"/>
<rect x="769" y="530" width="1" height="1"/>
<rect x="772" y="530" width="1" height="1"/>
<rect x="776" y="530" width="1" height="1"/>
<rect x="779" y="530" width="1" height="1"/>
<rect x="782" y="530" width="1" height="1"/>
<rect x="785" y="530" width="1" height="1"/>
<rect x="788" y="530" width="1" height="1"/>
<rect x="792" y="530" width="1" height="1"/>
<rect x="795" y="530" width="1" height="1"/>
<rect x="798" y="530" width="1" height="1"/>
<rect x="801" y="530" width="1" height="1"/>
<rect x="805" y="530" width="1" height="1"/>
<rect x="808" y="530" width="1" height="1"/>
<rect x="811" y="530" width="1" height="1"/>
<rect x="814" y="530" width="1" height="1"/>
<rect x="817" y="530" width="1" height="1"/>
<rect x="821" y="530" width="1" height="1"/>
<rect x="824" y="530" width="1" height="1"/>
<rect x="827" y="530" width="1" height="1"/>
<rect x="830" y="530" width="1" height="1"/>
<rect x="833" y="530" width="1" height="1"/>
<rect x="837" y="530" width="1" height="1"/>
<rect x="840" y="530" width="1" height="1"/>
<rect x="843" y="530" width="1" height="1"/>
<rect x="846" y="530" width="1" height="1"/>
<rect x="850" y="530" width="1" height="1"/>
<rect x="853" y="530" width="1" height="1"/>
<rect x="856" y="530" width="1" height="1"/>
<rect x="17" y="659" width="1" height="1"/>
<rect x="20" y="659" width="1" height="1"/>
<rect x="24" y="659" width="1" height="1"/>
<rect x="27" y="659" width="1" height="1"/>
<rect x="30" y="659" width="1" height="1"/>
<rect x="33" y="659" width="1" height="1"/>
<rect x="36" y="659" width="1" height="1"/>
<rect x="40" y="659" width="1" height="1"/>
<rect x="43" y="659" width="1" height="1"/>
<rect x="46" y="659" width="1" height="1"/>
<rect x="49" y="659" width="1" height="1"/>
<rect x="53" y="659" width="1" height="1"/>
<rect x="56" y="659" width="1" height="1"/>
<rect x="59" y="659" width="1" height="1"/>
<rect x="62" y="659" width="1" height="1"/>
<rect x="65" y="659" width="1" height="1"/>
<rect x="69" y="659" width="1" height="1"/>
<rect x="72" y="659" width="1" height="1"/>
<rect x="75" y="659" width="1" height="1"/>
<rect x="78" y="659" width="1" height="1"/>
<rect x="81" y="659" width="1" height="1"/>
<rect x="85" y="659" width="1" height="1"/>
<rect x="88" y="659" width="1" height="1"/>
<rect x="91" y="659" width="1" height="1"/>
<rect x="94" y="659" width="1" height="1"/>
<rect x="98" y="659" width="1" height="1"/>
<rect x="101" y="659" width="1" height="1"/>
<rect x="104" y="659" width="1" height="1"/>
<rect x="107" y="659" width="1" height="1"/>
<rect x="110" y="659" width="1" height="1"/>
<rect x="114" y="659" width="1" height="1"/>
<rect x="117" y="659" width="1" height="1"/>
<rect x="120" y="659" width="1" height="1"/>
<rect x="123" y="659" width="1" height="1"/>
<rect x="126" y="659" width="1" height="1"/>
<rect x="130" y="659" width="1" height="1"/>
<rect x="133" y="659" width="1" height="1"/>
<rect x="136" y="659" width="1" height="1"/>
<rect x="139" y="659" width="1" height="1"/>
<rect x="143" y="659" width="1" height="1"/>
<rect x="146" y="659" width="1" height="1"/>
<rect x="149" y="659" width="1" height="1"/>
<rect x="152" y="659" width="1" height="1"/>
<rect x="155" y="659" width="1" height="1"/>
<rect x="159" y="659" width="1" height="1"/>
<rect x="162" y="659" width="1" height="1"/>
<rect x="165" y="659" width="1" height="1"/>
<rect x="168" y="659" width="1" height="1"/>
<rect x="171" y="659" width="1" height="1"/>
<rect x="175" y="659" width="1" height="1"/>
<rect x="178" y="659" width="1" height="1"/>
<rect x="181" y="659" width="1" height="1"/>
<rect x="184" y="659" width="1" height="1"/>
<rect x="188" y="659" width="1" height="1"/>
<rect x="191" y="659" width="1" height="1"/>
<rect x="194" y="659" width="1" height="1"/>
<rect x="197" y="659" width="1" height="1"/>
<rect x="200" y="659" width="1" height="1"/>
<rect x="204" y="659" width="1" height="1"/>
<rect x="207" y="659" width="1" height="1"/>
<rect x="210" y="659" width="1" height="1"/>
<rect x="213" y="659" width="1" height="1"/>
<rect x="216" y="659" width="1" height="1"/>
<rect x="220" y="659" width="1" height="1"/>
<rect x="223" y="659" width="1" height="1"/>
<rect x="226" y="659" width="1" height="1"/>
<rect x="229" y="659" width="1" height="1"/>
<rect x="233" y="659" width="1" height="1"/>
<rect x="236" y="659" width="1" height="1"/>
<rect x="239" y="659" width="1" height="1"/>
<rect x="242" y="659" width="1" height="1"/>
<rect x="245" y="659" width="1" height="1"/>
<rect x="249" y="659" width="1" height="1"/>
<rect x="252" y="659" width="1" height="1"/>
<rect x="255" y="659" width="1" height="1"/>
<rect x="258" y="659" width="1" height="1"/>
<rect x="261" y="659" width="1" height="1"/>
<rect x="265" y="659" width="1" height="1"/>
<rect x="268" y="659" width="1" height="1"/>
<rect x="271" y="659" width="1" height="1"/>
<rect x="274" y="659" width="1" height="1"/>
<rect x="278" y="659" width="1" height="1"/>
<rect x="281" y="659" width="1" height="1"/>
<rect x="284" y="659" width="1" height="1"/>
<rect x="287" y="659" width="1" height="1"/>
<rect x="290" y="659" width="1" height="1"/>
<rect x="294" y="659" width="1" height="1"/>
<rect x="297" y="659" width="1" height="1"/>
<rect x="300" y="659" width="1" height="1"/>
<rect x="303" y="659" width="1" height="1"/>
<rect x="306" y="659" width="1" height="1"/>
<rect x="310" y="659" width="1" height="1"/>
<rect x="313" y="659" width="1" height="1"/>
<rect x="316" y="659" width="1" height="1"/>
<rect x="319" y="659" width="1" height="1"/>
<rect x="322" y="659" width="1" height="1"/>
<rect x="326" y="659" width="1" height="1"/>
<rect x="329" y="659" width="1" height="1"/>
<rect x="332" y="659" width="1" height="1"/>
<rect x="335" y="659" width="1" height="1"/>
<rect x="339" y="659" width="1" height="1"/>
<rect x="342" y="659" width="1" height="1"/>
<rect x="345" y="659" width="1" height="1"/>
<rect x="348" y="659" width="1" height="1"/>
<rect x="351" y="659" width="1" height="1"/>
<rect x="355" y="659" width="1" height="1"/>
<rect x="358" y="659" width="1" height="1"/>
<rect x="361" y="659" width="1" height="1"/>
<rect x="364" y="659" width="1" height="1"/>
<rect x="367" y="659" width="1" height="1"/>
<rect x="371" y="659" width="1" height="1"/>
<rect x="374" y="659" width="1" height="1"/>
<rect x="377" y="659" width="1" height="1"/>
<rect x="380" y="659" width="1" height="1"/>
<rect x="384" y="659" width="1" height="1"/>
<rect x="387" y="659" width="1" height="1"/>
<rect x="390" y="659" width="1" height="1"/>
<rect x="393" y="659" width="1" height="1"/>
<rect x="396" y="659" width="1" height="1"/>
<rect x="400" y="659" width="1" height="1"/>
<rect x="403" y="659" width="1" height="1"/>
<rect x="406" y="659" width="1" height="1"/>
<rect x="409" y="659" width="1" height="1"/>
<rect x="412" y="659" width="1" height="1"/>
<rect x="416" y="659" width="1" height="1"/>
<rect x="419" y="659" width="1" height="1"/>
<rect x="422" y="659" width="1" height="1"/>
<rect x="425" y="659" width="1" height="1"/>
<rect x="429" y="659" width="1" height="1"/>
<rect x="432" y="659" width="1" height="1"/>
<rect x="435" y="659" width="1" height="1"/>
<rect x="438" y="659" width="1" height="1"/>
<rect x="441" y="659" width="1" height="1"/>
<rect x="445" y="659" width="1" height="1"/>
<rect x="448" y="659" width="1" height="1"/>
<rect x="451" y="659" width="1" height="1"/>
<rect x="454" y="659" width="1" height="1"/>
<rect x="457" y="659" width="1" height="1"/>
<rect x="461" y="659" width="1" height="1"/>
<rect x="464" y="659" width="1" height="1"/>
<rect x="467" y="659" width="1" height="1"/>
<rect x="470" y="659" width="1" height="1"/>
<rect x="474" y="659" width="1" height="1"/>
<rect x="477" y="659" width="1" height="1"/>
<rect x="480" y="659" width="1" height="1"/>
<rect x="483" y="659" width="1" height="1"/>
<rect x="486" y="659" width="1" height="1"/>
<rect x="490" y="659" width="1" height="1"/>
<rect x="493" y="659" width="1" height="1"/>
<rect x="496" y="659" width="1" height="1"/>
<rect x="499" y="659" width="1" height="1"/>
<rect x="502" y="659" width="1" height="1"/>
<rect x="506" y="659" width="1" height="1"/>
<rect x="509" y="659" width="1" height="1"/>
<rect x="512" y="659" width="1" height="1"/>
<rect x="515" y="659" width="1" height="1"/>
<rect x="519" y="659" width="1" height="1"/>
<rect x="522" y="659" width="1" height="1"/>
<rect x="525" y="659" width="1" height="1"/>
<rect x="528" y="659" width="1" height="1"/>
<rect x="531" y="659" width="1" height="1"/>
<rect x="535" y="659" width="1" height="1"/>
<rect x="538" y="659" width="1" height="1"/>
<rect x="541" y="659" width="1" height="1"/>
<rect x="544" y="659" width="1" height="1"/>
<rect x="547" y="659" width="1" height="1"/>
<rect x="551" y="659" width="1" height="1"/>
<rect x="554" y="659" width="1" height="1"/>
<rect x="557" y="659" width="1" height="1"/>
<rect x="560" y="659" width="1" height="1"/>
<rect x="564" y="659" width="1" height="1"/>
<rect x="567" y="659" width="1" height="1"/>
<rect x="570" y="659" width="1" height="1"/>
<rect x="573" y="659" width="1" height="1"/>
<rect x="576" y="659" width="1" height="1"/>
<rect x="580" y="659" width="1" height="1"/>
<rect x="583" y="659" width="1" height="1"/>
<rect x="586" y="659" width="1" height="1"/>
<rect x="589" y="659" width="1" height="1"/>
<rect x="592" y="659" width="1" height="1"/>
<rect x="596" y="659" width="1" height="1"/>
<rect x="599" y="659" width="1" height="1"/>
<rect x="602" y="659" width="1" height="1"/>
<rect x="605" y="659" width="1" height="1"/>
<rect x="609" y="659" width="1" height="1"/>
<rect x="612" y="659" width="1" height="1"/>
<rect x="615" y="659" width="1" height="1"/>
<rect x="618" y="659" width="1" height="1"/>
<rect x="621" y="659" width="1" height="1"/>
<rect x="625" y="659" width="1" height="1"/>
<rect x="628" y="659" width="1" height="1"/>
<rect x="631" y="659" width="1" height="1"/>
<rect x="634" y="659" width="1" height="1"/>
<rect x="637" y="659" width="1" height="1"/>
<rect x="641" y="659" width="1" height="1"/>
<rect x="644" y="659" width="1" height="1"/>
<rect x="647" y="659" width="1" height="1"/>
<rect x="650" y="659" width="1" height="1"/>
<rect x="653" y="659" width="1" height="1"/>
<rect x="657" y="659" width="1" height="1"/>
<rect x="660" y="659" width="1" height="1"/>
<rect x="663" y="659" width="1" height="1"/>
<rect x="666" y="659" width="1" height="1"/>
<rect x="670" y="659" width="1" height="1"/>
<rect x="673" y="659" width="1" height="1"/>
<rect x="676" y="659" width="1" height="1"/>
<rect x="679" y="659" width="1" height="1"/>
<rect x="682" y="659" width="1" height="1"/>
<rect x="686" y="659" width="1" height="1"/>
<rect x="689" y="659" width="1" height="1"/>
<rect x="692" y="659" width="1" height="1"/>
<rect x="695" y="659" width="1" height="1"/>
<rect x="698" y="659" width="1" height="1"/>
<rect x="702" y="659" width="1" height="1"/>
<rect x="705" y="659" width="1" height="1"/>
<rect x="708" y="659" width="1" height="1"/>
<rect x="711" y="659" width="1" height="1"/>
<rect x="715" y="659" width="1" height="1"/>
<rect x="718" y="659" width="1" height="1"/>
<rect x="721" y="659" width="1" height="1"/>
<rect x="724" y="659" width="1" height="1"/>
<rect x="727" y="659" width="1" height="1"/>
<rect x="731" y="659" width="1" height="1"/>
<rect x="734" y="659" width="1" height="1"/>
<rect x="737" y="659" width="1" height="1"/>
<rect x="740" y="659" width="1" height="1"/>
<rect x="743" y="659" width="1" height="1"/>
<rect x="747" y="659" width="1" height="1"/>
<rect x="750" y="659" width="1" height="1"/>
<rect x="753" y="659" width="1" height="1"/>
<rect x="756" y="659" width="1" height="1"/>
<rect x="760" y="659" width="1" height="1"/>
<rect x="763" y="659" width="1" height="1"/>
<rect x="766" y="659" width="1" height="1"/>
<rect x="769" y="659" width="1" height="1"/>
<rect x="772" y="659" width="1" height="1"/>
<rect x="776" y="659" width="1" height="1"/>
<rect x="779" y="659" width="1" height="1"/>
<rect x="782" y="659" width="1" height="1"/>
<rect x="785" y="659" width="1" height="1"/>
<rect x="788" y="659" width="1" height="1"/>
<rect x="792" y="659" width="1" height="1"/>
<rect x="795" y="659" width="1" height="1"/>
<rect x="798" y="659" width="1" height="1"/>
<rect x="801" y="659" width="1" height="1"/>
<rect x="805" y="659" width="1" height="1"/>
<rect x="808" y="659" width="1" height="1"/>
<rect x="811" y="659" width="1" height="1"/>
<rect x="814" y="659" width="1" height="1"/>
<rect x="817" y="659" width="1" height="1"/>
<rect x="821" y="659" width="1" height="1"/>
<rect x="824" y="659" width="1" height="1"/>
<rect x="827" y="659" width="1" height="1"/>
<rect x="830" y="659" width="1" height="1"/>
<rect x="833" y="659" width="1" height="1"/>
<rect x="837" y="659" width="1" height="1"/>
<rect x="840" y="659" width="1" height="1"/>
<rect x="843" y="659" width="1" height="1"/>
<rect x="846" y="659" width="1" height="1"/>
<rect x="850" y="659" width="1" height="1"/>
<rect x="853" y="659" width="1" height="1"/>
<rect x="856" y="659" width="1" height="1"/>
</g>
<line x1="862.5" y1="508.86" x2="864.3" y2="508.86" stroke="#666" stroke-width="0.8"/>
<line x1="862.5" y1="505.27" x2="864.3" y2="505.27" stroke="#666" stroke-width="0.8"/>
<line x1="862.5" y1="501.69" x2="864.3" y2="501.69" stroke="#666" stroke-width="0.8"/>
<line x1="862.5" y1="498.13" x2="865.7" y2="498.13" stroke="#666" stroke-width="0.8"/>
<line x1="862.5" y1="494.59" x2="864.3" y2="494.59" stroke="#666" stroke-width="0.8"/>
<line x1="862.5" y1="491.06" x2="864.3" y2="491.06" stroke="#666" stroke-width="0.8"/>
<line x1="862.5" y1="487.55" x2="864.3" y2="487.55" stroke="#666" stroke-width="0.8"/>
<line x1="862.5" y1="484.06" x2="864.3" y2="484.06" stroke="#666" stroke-width="0.8"/>
<line x1="862.5" y1="480.58" x2="865.7" y2="480.58" stroke="#666" stroke-width="0.8"/>
<line x1="862.5" y1="477.11" x2="864.3" y2="477.11" stroke="#666" stroke-width="0.8"/>
<line x1="862.5" y1="473.66" x2="864.3" y2="473.66" stroke="#666" stroke-width="0.8"/>
<line x1="862.5" y1="470.23" x2="864.3" y2="470.23" stroke="#666" stroke-width="0.8"/>
<line x1="862.5" y1="466.81" x2="864.3" y2="466.81" stroke="#666" stroke-width="0.8"/>
<line x1="862.5" y1="463.40" x2="865.7" y2="463.40" stroke="#666" stroke-width="0.8"/>
<line x1="862.5" y1="460.01" x2="864.3" y2="460.01" stroke="#666" stroke-width="0.8"/>
<line x1="862.5" y1="456.64" x2="864.3" y2="456.64" stroke="#666" stroke-width="0.8"/>
<line x1="862.5" y1="453.28" x2="864.3" y2="453.28" stroke="#666" stroke-width="0.8"/>
<line x1="862.5" y1="449.93" x2="864.3" y2="449.93" stroke="#666" stroke-width="0.8"/>
<line x1="862.5" y1="446.60" x2="865.7" y2="446.60" stroke="#666" stroke-width="0.8"/>
<line x1="862.5" y1="443.28" x2="864.3" y2="443.28" stroke="#666" stroke-width="0.8"/>
<line x1="862.5" y1="439.98" x2="864.3" y2="439.98" stroke="#666" stroke-width="0.8"/>
<line x1="862.5" y1="436.69" x2="864.3" y2="436.69" stroke="#666" stroke-width="0.8"/>
<line x1="862.5" y1="433.41" x2="864.3" y2="433.41" stroke="#666" stroke-width="0.8"/>
<line x1="862.5" y1="430.15" x2="865.7" y2="430.15" stroke="#666" stroke-width="0.8"/>
<line x1="862.5" y1="426.90" x2="864.3" y2="426.90" stroke="#666" stroke-width="0.8"/>
<line x1="862.5" y1="423.67" x2="864.3" y2="423.67" stroke="#666" stroke-width="0.8"/>
<line x1="862.5" y1="420.45" x2="864.3" y2="420.45" stroke="#666" stroke-width="0.8"/>
<line x1="862.5" y1="417.24" x2="864.3" y2="417.24" stroke="#666" stroke-width="0.8"/>
<line x1="862.5" y1="414.04" x2="865.7" y2="414.04" stroke="#666" stroke-width="0.8"/>
<line x1="862.5" y1="410.86" x2="864.3" y2="410.86" stroke="#666" stroke-width="0.8"/>
<line x1="862.5" y1="407.69" x2="864.3" y2="407.69" stroke="#666" stroke-width="0.8"/>
<line x1="862.5" y1="404.53" x2="864.3" y2="404.53" stroke="#666" stroke-width="0.8"/>
<line x1="862.5" y1="401.39" x2="864.3" y2="401.39" stroke="#666" stroke-width="0.8"/>
<line x1="862.5" y1="398.26" x2="865.7" y2="398.26" stroke="#666" stroke-width="0.8"/>
<line x1="862.5" y1="395.14" x2="864.3" y2="395.14" stroke="#666" stroke-width="0.8"/>
<line x1="862.5" y1="392.03" x2="864.3" y2="392.03" stroke="#666" stroke-width="0.8"/>
<line x1="862.5" y1="388.94" x2="864.3" y2="388.94" stroke="#666" stroke-width="0.8"/>
<line x1="862.5" y1="385.86" x2="864.3" y2="385.86" stroke="#666" stroke-width="0.8"/>
<line x1="862.5" y1="382.79" x2="865.7" y2="382.79" stroke="#666" stroke-width="0.8"/>
<line x1="862.5" y1="379.73" x2="864.3" y2="379.73" stroke="#666" stroke-width="0.8"/>
<line x1="862.5" y1="376.68" x2="864.3" y2="376.68" stroke="#666" stroke-width="0.8"/>
<line x1="862.5" y1="373.65" x2="864.3" y2="373.65" stroke="#666" stroke-width="0.8"/>
<line x1="862.5" y1="370.63" x2="864.3" y2="370.63" stroke="#666" stroke-width="0.8"/>
<line x1="862.5" y1="367.61" x2="865.7" y2="367.61" stroke="#666" stroke-width="0.8"/>
<line x1="862.5" y1="364.62" x2="864.3" y2="364.62" stroke="#666" stroke-width="0.8"/>
<line x1="862.5" y1="361.63" x2="864.3" y2="361.63" stroke="#666" stroke-width="0.8"/>
<line x1="862.5" y1="358.65" x2="864.3" y2="358.65" stroke="#666" stroke-width="0.8"/>
<line x1="862.5" y1="355.69" x2="864.3" y2="355.69" stroke="#666" stroke-width="0.8"/>
<line x1="862.5" y1="352.73" x2="865.7" y2="352.73" stroke="#666" stroke-width="0.8"/>
<line x1="862.5" y1="349.79" x2="864.3" y2="349.79" stroke="#666" stroke-width="0.8"/>
<line x1="862.5" y1="346.86" x2="864.3" y2="346.86" stroke="#666" stroke-width="0.8"/>
<line x1="862.5" y1="343.94" x2="864.3" y2="343.94" stroke="#666" stroke-width="0.8"/>
<line x1="862.5" y1="341.03" x2="864.3" y2="341.03" stroke="#666" stroke-width="0.8"/>
<line x1="862.5" y1="338.13" x2="865.7" y2="338.13" stroke="#666" stroke-width="0.8"/>
<line x1="862.5" y1="335.24" x2="864.3" y2="335.24" stroke="#666" stroke-width="0.8"/>
<line x1="862.5" y1="332.36" x2="864.3" y2="332.36" stroke="#666" stroke-width="0.8"/>
<line x1="862.5" y1="329.49" x2="864.3" y2="329.49" stroke="#666" stroke-width="0.8"/>
<line x1="862.5" y1="326.64" x2="864.3" y2="326.64" stroke="#666" stroke-width="0.8"/>
<line x1="862.5" y1="323.79" x2="865.7" y2="323.79" stroke="#666" stroke-width="0.8"/>
<line x1="862.5" y1="320.96" x2="864.3" y2="320.96" stroke="#666" stroke-width="0.8"/>
<line x1="862.5" y1="318.13" x2="864.3" y2="318.13" stroke="#666" stroke-width="0.8"/>
<line x1="862.5" y1="315.31" x2="864.3" y2="315.31" stroke="#666" stroke-width="0.8"/>
<line x1="862.5" y1="312.51" x2="864.3" y2="312.51" stroke="#666" stroke-width="0.8"/>
<line x1="862.5" y1="309.71" x2="865.7" y2="309.71" stroke="#666" stroke-width="0.8"/>
<line x1="862.5" y1="306.93" x2="864.3" y2="306.93" stroke="#666" stroke-width="0.8"/>
<line x1="862.5" y1="304.15" x2="864.3" y2="304.15" stroke="#666" stroke-width="0.8"/>
<line x1="862.5" y1="301.39" x2="864.3" y2="301.39" stroke="#666" stroke-width="0.8"/>
<line x1="862.5" y1="298.63" x2="864.3" y2="298.63" stroke="#666" stroke-width="0.8"/>
<line x1="862.5" y1="295.89" x2="865.7" y2="295.89" stroke="#666" stroke-width="0.8"/>
<line x1="862.5" y1="293.15" x2="864.3" y2="293.15" stroke="#666" stroke-width="0.8"/>
<line x1="862.5" y1="290.42" x2="864.3" y2="290.42" stroke="#666" stroke-width="0.8"/>
<line x1="862.5" y1="287.70" x2="864.3" y2="287.70" stroke="#666" stroke-width="0.8"/>
<line x1="862.5" y1="285.00" x2="864.3" y2="285.00" stroke="#666" stroke-width="0.8"/>
<line x1="862.5" y1="282.30" x2="865.7" y2="282.30" stroke="#666" stroke-width="0.8"/>
<line x1="862.5" y1="279.61" x2="864.3" y2="279.61" stroke="#666" stroke-width="0.8"/>
<line x1="862.5" y1="276.93" x2="864.3" y2="276.93" stroke="#666" stroke-width="0.8"/>
<line x1="862.5" y1="274.26" x2="864.3" y2="274.26" stroke="#666" stroke-width="0.8"/>
<line x1="862.5" y1="271.59" x2="864.3" y2="271.59" stroke="#666" stroke-width="0.8"/>
<line x1="862.5" y1="268.94" x2="865.7" y2="268.94" stroke="#666" stroke-width="0.8"/>
<line x1="862.5" y1="266.30" x2="864.3" y2="266.30" stroke="#666" stroke-width="0.8"/>
<line x1="862.5" y1="263.66" x2="864.3" y2="263.66" stroke="#666" stroke-width="0.8"/>
<line x1="862.5" y1="261.04" x2="864.3" y2="261.04" stroke="#666" stroke-width="0.8"/>
<line x1="862.5" y1="258.42" x2="864.3" y2="258.42" stroke="#666" stroke-width="0.8"/>
<line x1="862.5" y1="255.81" x2="865.7" y2="255.81" stroke="#666" stroke-width="0.8"/>
<line x1="862.5" y1="253.21" x2="864.3" y2="253.21" stroke="#666" stroke-width="0.8"/>
<line x1="862.5" y1="250.62" x2="864.3" y2="250.62" stroke="#666" stroke-width="0.8"/>
<line x1="862.5" y1="248.04" x2="864.3" y2="248.04" stroke="#666" stroke-width="0.8"/>
<line x1="862.5" y1="245.46" x2="864.3" y2="245.46" stroke="#666" stroke-width="0.8"/>
<line x1="862.5" y1="242.90" x2="865.7" y2="242.90" stroke="#666" stroke-width="0.8"/>
<line x1="862.5" y1="240.34" x2="864.3" y2="240.34" stroke="#666" stroke-width="0.8"/>
<line x1="862.5" y1="237.79" x2="864.3" y2="237.79" stroke="#666" stroke-width="0.8"/>
<line x1="862.5" y1="235.25" x2="864.3" y2="235.25" stroke="#666" stroke-width="0.8"/>
<line x1="862.5" y1="232.72" x2="864.3" y2="232.72" stroke="#666" stroke-width="0.8"/>
<line x1="862.5" y1="230.19" x2="865.7" y2="230.19" stroke="#666" stroke-width="0.8"/>
<line x1="862.5" y1="227.68" x2="864.3" y2="227.68" stroke="#666" stroke-width="0.8"/>
<line x1="862.5" y1="225.17" x2="864.3" y2="225.17" stroke="#666" stroke-width="0.8"/>
<line x1="862.5" y1="222.67" x2="864.3" y2="222.67" stroke="#666" stroke-width="0.8"/>
<line x1="862.5" y1="220.17" x2="864.3" y2="220.17" stroke="#666" stroke-width="0.8"/>
<line x1="862.5" y1="217.69" x2="865.7" y2="217.69" stroke="#666" stroke-width="0.8"/>
<line x1="862.5" y1="215.21" x2="864.3" y2="215.21" stroke="#666" stroke-width="0.8"/>
<line x1="862.5" y1="212.75" x2="864.3" y2="212.75" stroke="#666" stroke-width="0.8"/>
<line x1="862.5" y1="210.28" x2="864.3" y2="210.28" stroke="#666" stroke-width="0.8"/>
<line x1="862.5" y1="207.83" x2="864.3" y2="207.83" stroke="#666" stroke-width="0.8"/>
<line x1="862.5" y1="205.39" x2="865.7" y2="205.39" stroke="#666" stroke-width="0.8"/>
<line x1="862.5" y1="202.95" x2="864.3" y2="202.95" stroke="#666" stroke-width="0.8"/>
<line x1="862.5" y1="200.52" x2="864.3" y2="200.52" stroke="#666" stroke-width="0.8"/>
<line x1="862.5" y1="198.10" x2="864.3" y2="198.10" stroke="#666" stroke-width="0.8"/>
<line x1="862.5" y1="195.68" x2="864.3" y2="195.68" stroke="#666" stroke-width="0.8"/>
<line x1="862.5" y1="193.27" x2="865.7" y2="193.27" stroke="#666" stroke-width="0.8"/>
<line x1="862.5" y1="190.87" x2="864.3" y2="190.87" stroke="#666" stroke-width="0.8"/>
<line x1="862.5" y1="188.48" x2="864.3" y2="188.48" stroke="#666" stroke-width="0.8"/>
<line x1="862.5" y1="186.09" x2="864.3" y2="186.09" stroke="#666" stroke-width="0.8"/>
<line x1="862.5" y1="183.72" x2="864.3" y2="183.72" stroke="#666" stroke-width="0.8"/>
<line x1="862.5" y1="181.34" x2="865.7" y2="181.34" stroke="#666" stroke-width="0.8"/>
<line x1="862.5" y1="178.98" x2="864.3" y2="178.98" stroke="#666" stroke-width="0.8"/>
<line x1="862.5" y1="176.62" x2="864.3" y2="176.62" stroke="#666" stroke-width="0.8"/>
<line x1="862.5" y1="174.27" x2="864.3" y2="174.27" stroke="#666" stroke-width="0.8"/>
<line x1="862.5" y1="171.93" x2="864.3" y2="171.93" stroke="#666" stroke-width="0.8"/>
<line x1="862.5" y1="169.60" x2="865.7" y2="169.60" stroke="#666" stroke-width="0.8"/>
<line x1="862.5" y1="167.27" x2="864.3" y2="167.27" stroke="#666" stroke-width="0.8"/>
<line x1="862.5" y1="164.94" x2="864.3" y2="164.94" stroke="#666" stroke-width="0.8"/>
<line x1="862.5" y1="162.63" x2="864.3" y2="162.63" stroke="#666" stroke-width="0.8"/>
<line x1="862.5" y1="160.32" x2="864.3" y2="160.32" stroke="#666" stroke-width="0.8"/>
<line x1="862.5" y1="158.02" x2="865.7" y2="158.02" stroke="#666" stroke-width="0.8"/>
<line x1="862.5" y1="155.73" x2="864.3" y2="155.73" stroke="#666" stroke-width="0.8"/>
<line x1="862.5" y1="155.16" x2="864.3" y2="155.16" stroke="#666" stroke-width="0.8"/>
<line x1="862.5" y1="150.78" x2="864.3" y2="150.78" stroke="#666" stroke-width="0.8"/>
<line x1="862.5" y1="146.40" x2="865.7" y2="146.40" stroke="#666" stroke-width="0.8"/>
<line x1="862.5" y1="142.02" x2="864.3" y2="142.02" stroke="#666" stroke-width="0.8"/>
<line x1="862.5" y1="137.64" x2="864.3" y2="137.64" stroke="#666" stroke-width="0.8"/>
<line x1="862.5" y1="133.26" x2="864.3" y2="133.26" stroke="#666" stroke-width="0.8"/>
<line x1="862.5" y1="128.88" x2="864.3" y2="128.88" stroke="#666" stroke-width="0.8"/>
<line x1="862.5" y1="124.50" x2="865.7" y2="124.50" stroke="#666" stroke-width="0.8"/>
<line x1="862.5" y1="120.12" x2="864.3" y2="120.12" stroke="#666" stroke-width="0.8"/>
<line x1="862.5" y1="115.74" x2="864.3" y2="115.74" stroke="#666" stroke-width="0.8"/>
<line x1="862.5" y1="111.36" x2="864.3" y2="111.36" stroke="#666" stroke-width="0.8"/>
<line x1="862.5" y1="106.98" x2="864.3" y2="106.98" stroke="#666" stroke-width="0.8"/>
<line x1="862.5" y1="102.60" x2="865.7" y2="102.60" stroke="#666" stroke-width="0.8"/>
<line x1="862.5" y1="98.22" x2="864.3" y2="98.22" stroke="#666" stroke-width="0.8"/>
<line x1="862.5" y1="93.84" x2="864.3" y2="93.84" stroke="#666" stroke-width="0.8"/>
<line x1="862.5" y1="89.46" x2="864.3" y2="89.46" stroke="#666" stroke-width="0.8"/>
<line x1="862.5" y1="85.08" x2="864.3" y2="85.08" stroke="#666" stroke-width="0.8"/>
<line x1="862.5" y1="80.70" x2="865.7" y2="80.70" stroke="#666" stroke-width="0.8"/>
<line x1="862.5" y1="76.32" x2="864.3" y2="76.32" stroke="#666" stroke-width="0.8"/>
<line x1="862.5" y1="71.94" x2="864.3" y2="71.94" stroke="#666" stroke-width="0.8"/>
<line x1="862.5" y1="67.56" x2="864.3" y2="67.56" stroke="#666" stroke-width="0.8"/>
<line x1="862.5" y1="63.18" x2="864.3" y2="63.18" stroke="#666" stroke-width="0.8"/>
<line x1="862.5" y1="58.80" x2="865.7" y2="58.80" stroke="#666" stroke-width="0.8"/>
<line x1="862.5" y1="54.42" x2="864.3" y2="54.42" stroke="#666" stroke-width="0.8"/>
<line x1="862.5" y1="50.04" x2="864.3" y2="50.04" stroke="#666" stroke-width="0.8"/>
<line x1="862.5" y1="45.66" x2="864.3" y2="45.66" stroke="#666" stroke-width="0.8"/>
<line x1="862.5" y1="41.28" x2="864.3" y2="41.28" stroke="#666" stroke-width="0.8"/>
<line x1="862.5" y1="36.90" x2="865.7" y2="36.90" stroke="#666" stroke-width="0.8"/>
<line x1="862.5" y1="32.52" x2="864.3" y2="32.52" stroke="#666" stroke-width="0.8"/>
<line x1="862.5" y1="657.86" x2="864.3" y2="657.86" stroke="#666" stroke-width="0.8"/>
<line x1="862.5" y1="652.17" x2="864.3" y2="652.17" stroke="#666" stroke-width="0.8"/>
<line x1="862.5" y1="646.49" x2="864.3" y2="646.49" stroke="#666" stroke-width="0.8"/>
<line x1="862.5" y1="640.80" x2="865.7" y2="640.80" stroke="#666" stroke-width="0.8"/>
<line x1="862.5" y1="635.11" x2="864.3" y2="635.11" stroke="#666" stroke-width="0.8"/>
<line x1="862.5" y1="629.42" x2="864.3" y2="629.42" stroke="#666" stroke-width="0.8"/>
<line x1="862.5" y1="623.74" x2="864.3" y2="623.74" stroke="#666" stroke-width="0.8"/>
<line x1="862.5" y1="618.05" x2="865.7" y2="618.05" stroke="#666" stroke-width="0.8"/>
<line x1="862.5" y1="612.36" x2="864.3" y2="612.36" stroke="#666" stroke-width="0.8"/>
<line x1="862.5" y1="606.67" x2="864.3" y2="606.67" stroke="#666" stroke-width="0.8"/>
<line x1="862.5" y1="600.99" x2="864.3" y2="600.99" stroke="#666" stroke-width="0.8"/>
<line x1="862.5" y1="595.30" x2="865.7" y2="595.30" stroke="#666" stroke-width="0.8"/>
<line x1="862.5" y1="589.61" x2="864.3" y2="589.61" stroke="#666" stroke-width="0.8"/>
<line x1="862.5" y1="583.92" x2="864.3" y2="583.92" stroke="#666" stroke-width="0.8"/>
<line x1="862.5" y1="578.24" x2="864.3" y2="578.24" stroke="#666" stroke-width="0.8"/>
<line x1="862.5" y1="572.55" x2="865.7" y2="572.55" stroke="#666" stroke-width="0.8"/>
<line x1="862.5" y1="566.86" x2="864.3" y2="566.86" stroke="#666" stroke-width="0.8"/>
<line x1="862.5" y1="561.17" x2="864.3" y2="561.17" stroke="#666" stroke-width="0.8"/>
<line x1="862.5" y1="555.49" x2="864.3" y2="555.49" stroke="#666" stroke-width="0.8"/>
<line x1="862.5" y1="549.80" x2="865.7" y2="549.80" stroke="#666" stroke-width="0.8"/>
<line x1="862.5" y1="544.11" x2="864.3" y2="544.11" stroke="#666" stroke-width="0.8"/>
<line x1="862.5" y1="538.42" x2="864.3" y2="538.42" stroke="#666" stroke-width="0.8"/>
<line x1="862.5" y1="532.74" x2="864.3" y2="532.74" stroke="#666" stroke-width="0.8"/>
<text x="868.9" y="39.5" font-size="9.8" font-weight="normal" fill="#000" text-anchor="start">2</text>
<text x="868.9" y="61.4" font-size="9.8" font-weight="normal" fill="#000" text-anchor="start">0</text>
<text x="865.6" y="83.29999999999998" font-size="9.8" font-weight="normal" fill="#000" text-anchor="start">-2</text>
<text x="865.6" y="105.19999999999999" font-size="9.8" font-weight="normal" fill="#000" text-anchor="start">-4</text>
<text x="865.6" y="127.09999999999998" font-size="9.8" font-weight="normal" fill="#000" text-anchor="start">-6</text>
<text x="865.6" y="148.99999999999997" font-size="9.8" font-weight="normal" fill="#000" text-anchor="start">-8</text>
<text x="865.8" y="500.7340090737547" font-size="9.8" font-weight="normal" fill="#000" text-anchor="start" textLength="17.1" lengthAdjust="spacing">220</text>
<text x="865.8" y="483.1759667965413" font-size="9.8" font-weight="normal" fill="#000" text-anchor="start" textLength="17.1" lengthAdjust="spacing">225</text>
<text x="865.8" y="466.0038469771622" font-size="9.8" font-weight="normal" fill="#000" text-anchor="start" textLength="17.1" lengthAdjust="spacing">230</text>
<text x="865.8" y="449.20104883802344" font-size="9.8" font-weight="normal" fill="#000" text-anchor="start" textLength="17.1" lengthAdjust="spacing">235</text>
<text x="865.8" y="432.752020231757" font-size="9.8" font-weight="normal" fill="#000" text-anchor="start" textLength="17.1" lengthAdjust="spacing">240</text>
<text x="865.8" y="416.6421711402596" font-size="9.8" font-weight="normal" fill="#000" text-anchor="start" textLength="17.1" lengthAdjust="spacing">245</text>
<text x="865.8" y="400.85779591308176" font-size="9.8" font-weight="normal" fill="#000" text-anchor="start" textLength="17.1" lengthAdjust="spacing">250</text>
<text x="865.8" y="385.3860032065764" font-size="9.8" font-weight="normal" fill="#000" text-anchor="start" textLength="17.1" lengthAdjust="spacing">255</text>
<text x="865.8" y="370.214652726423" font-size="9.8" font-weight="normal" fill="#000" text-anchor="start" textLength="17.1" lengthAdjust="spacing">260</text>
<text x="865.8" y="355.3322979958194" font-size="9.8" font-weight="normal" fill="#000" text-anchor="start" textLength="17.1" lengthAdjust="spacing">265</text>
<text x="865.8" y="340.72813447342463" font-size="9.8" font-weight="normal" fill="#000" text-anchor="start" textLength="17.1" lengthAdjust="spacing">270</text>
<text x="865.8" y="326.39195243196264" font-size="9.8" font-weight="normal" fill="#000" text-anchor="start" textLength="17.1" lengthAdjust="spacing">275</text>
<text x="865.8" y="312.31409408272003" font-size="9.8" font-weight="normal" fill="#000" text-anchor="start" textLength="17.1" lengthAdjust="spacing">280</text>
<text x="865.8" y="298.48541449495815" font-size="9.8" font-weight="normal" fill="#000" text-anchor="start" textLength="17.1" lengthAdjust="spacing">285</text>
<text x="865.8" y="284.89724591417473" font-size="9.8" font-weight="normal" fill="#000" text-anchor="start" textLength="17.1" lengthAdjust="spacing">290</text>
<text x="865.8" y="271.54136513055363" font-size="9.8" font-weight="normal" fill="#000" text-anchor="start" textLength="17.1" lengthAdjust="spacing">295</text>
<text x="865.8" y="258.4099635899649" font-size="9.8" font-weight="normal" fill="#000" text-anchor="start" textLength="17.1" lengthAdjust="spacing">300</text>
<text x="865.8" y="245.495619975484" font-size="9.8" font-weight="normal" fill="#000" text-anchor="start" textLength="17.1" lengthAdjust="spacing">305</text>
<text x="865.8" y="232.7912750183621" font-size="9.8" font-weight="normal" fill="#000" text-anchor="start" textLength="17.1" lengthAdjust="spacing">310</text>
<text x="865.8" y="220.29020832438763" font-size="9.8" font-weight="normal" fill="#000" text-anchor="start" textLength="17.1" lengthAdjust="spacing">315</text>
<text x="865.8" y="207.98601702518053" font-size="9.8" font-weight="normal" fill="#000" text-anchor="start" textLength="17.1" lengthAdjust="spacing">320</text>
<text x="865.8" y="195.87259608463094" font-size="9.8" font-weight="normal" fill="#000" text-anchor="start" textLength="17.1" lengthAdjust="spacing">325</text>
<text x="865.8" y="183.94412010884588" font-size="9.8" font-weight="normal" fill="#000" text-anchor="start" textLength="17.1" lengthAdjust="spacing">330</text>
<text x="865.8" y="172.1950265239304" font-size="9.8" font-weight="normal" fill="#000" text-anchor="start" textLength="17.1" lengthAdjust="spacing">335</text>
<text x="865.8" y="160.62" font-size="9.8" font-weight="normal" fill="#000" text-anchor="start" textLength="17.1" lengthAdjust="spacing">340</text>
<text x="866.2" y="552.1999999999999" font-size="9.8" font-weight="normal" fill="#000" text-anchor="start">90</text>
<text x="866.2" y="574.9499999999999" font-size="9.8" font-weight="normal" fill="#000" text-anchor="start">70</text>
<text x="866.2" y="597.6999999999999" font-size="9.8" font-weight="normal" fill="#000" text-anchor="start">50</text>
<text x="866.2" y="620.4499999999999" font-size="9.8" font-weight="normal" fill="#000" text-anchor="start">30</text>
<text x="866.2" y="643.1999999999999" font-size="9.8" font-weight="normal" fill="#000" text-anchor="start">10</text>
<text x="16.8" y="527.6" font-size="10" font-weight="normal" fill="#000" text-anchor="middle">Jul</text>
<text x="91.6" y="527.6" font-size="10" font-weight="normal" fill="#000" text-anchor="middle">Aug</text>
<text x="159.1" y="527.6" font-size="10" font-weight="normal" fill="#000" text-anchor="middle">Sep</text>
<text x="229.8" y="527.6" font-size="10" font-weight="normal" fill="#000" text-anchor="middle">Oct</text>
<text x="300.5" y="527.6" font-size="10" font-weight="normal" fill="#000" text-anchor="middle">Nov</text>
<text x="368.0" y="527.6" font-size="10" font-weight="normal" fill="#000" text-anchor="middle">Dec</text>
<text x="440.6" y="527.6" font-size="11" font-weight="bold" fill="#000" text-anchor="middle">1988</text>
<text x="509.4" y="527.6" font-size="10" font-weight="normal" fill="#000" text-anchor="middle">Feb</text>
<text x="576.9" y="527.6" font-size="10" font-weight="normal" fill="#000" text-anchor="middle">Mar</text>
<text x="650.8" y="527.6" font-size="10" font-weight="normal" fill="#000" text-anchor="middle">Apr</text>
<text x="718.3" y="527.6" font-size="10" font-weight="normal" fill="#000" text-anchor="middle">May</text>
<text x="789.0" y="527.6" font-size="10" font-weight="normal" fill="#000" text-anchor="middle">Jun</text>
<text x="16.8" y="668.2" font-size="10" font-weight="normal" fill="#000" text-anchor="middle">Jul</text>
<text x="91.6" y="668.2" font-size="10" font-weight="normal" fill="#000" text-anchor="middle">Aug</text>
<text x="159.1" y="668.2" font-size="10" font-weight="normal" fill="#000" text-anchor="middle">Sep</text>
<text x="229.8" y="668.2" font-size="10" font-weight="normal" fill="#000" text-anchor="middle">Oct</text>
<text x="300.5" y="668.2" font-size="10" font-weight="normal" fill="#000" text-anchor="middle">Nov</text>
<text x="368.0" y="668.2" font-size="10" font-weight="normal" fill="#000" text-anchor="middle">Dec</text>
<text x="440.6" y="668.2" font-size="11" font-weight="bold" fill="#000" text-anchor="middle">1988</text>
<text x="509.4" y="668.2" font-size="10" font-weight="normal" fill="#000" text-anchor="middle">Feb</text>
<text x="576.9" y="668.2" font-size="10" font-weight="normal" fill="#000" text-anchor="middle">Mar</text>
<text x="650.8" y="668.2" font-size="10" font-weight="normal" fill="#000" text-anchor="middle">Apr</text>
<text x="718.3" y="668.2" font-size="10" font-weight="normal" fill="#000" text-anchor="middle">May</text>
<text x="789.0" y="668.2" font-size="10" font-weight="normal" fill="#000" text-anchor="middle">Jun</text>
<text x="16" y="13.6" font-size="13" font-weight="bold" fill="#000" text-anchor="start" textLength="34" lengthAdjust="spacing">$SPX</text>
<text x="54" y="13.1" font-size="11.1" font-weight="normal" fill="#000" text-anchor="start" textLength="122.5" lengthAdjust="spacing">S&amp;P 500 Large Cap Index</text>
<text x="181" y="13.1" font-size="9.8" font-weight="normal" fill="#000" text-anchor="start" textLength="24.4" lengthAdjust="spacing">INDX</text>
<text x="15.6" y="25.6" font-size="10.5" font-weight="normal" fill="#000" text-anchor="start" textLength="58.2" lengthAdjust="spacing">30-Jun-1988</text>
<text x="477.8" y="25" font-size="10.7" font-weight="bold" fill="#000" text-anchor="start" textLength="27.8" lengthAdjust="spacing">Open</text>
<text x="509.6" y="25" font-size="10.7" font-weight="normal" fill="#000" text-anchor="start" textLength="32.6" lengthAdjust="spacing">273.50</text>
<text x="548.9" y="25" font-size="10.7" font-weight="bold" fill="#000" text-anchor="start" textLength="23" lengthAdjust="spacing">High</text>
<text x="576.2" y="25" font-size="10.7" font-weight="normal" fill="#000" text-anchor="start" textLength="31.8" lengthAdjust="spacing">273.51</text>
<text x="614.4" y="25" font-size="10.7" font-weight="bold" fill="#000" text-anchor="start" textLength="23.4" lengthAdjust="spacing">Low</text>
<text x="641.6" y="25" font-size="10.7" font-weight="normal" fill="#000" text-anchor="start" textLength="32.6" lengthAdjust="spacing">270.96</text>
<text x="680.8" y="25" font-size="10.7" font-weight="bold" fill="#000" text-anchor="start" textLength="31.2" lengthAdjust="spacing">Close</text>
<text x="715.2" y="25" font-size="10.7" font-weight="normal" fill="#000" text-anchor="start" textLength="32.8" lengthAdjust="spacing">273.50</text>
<text x="755.2" y="25" font-size="10.7" font-weight="bold" fill="#000" text-anchor="start" textLength="20.8" lengthAdjust="spacing">Chg</text>
<text x="780" y="25" font-size="10.7" font-weight="normal" fill="#000" text-anchor="start" textLength="72" lengthAdjust="spacing">+2.53 (+0.93%)</text>
<path d="M855.2,25 L861.4,25 L858.3,20.6 Z" fill="#8a90a8"/>
<text x="773.3" y="13" font-size="10" font-weight="normal" fill="#626776" text-anchor="start" stroke="#626776" stroke-width="0.3">&#169;</text>
<text x="782.7" y="13" font-size="10.2" font-weight="normal" fill="#626776" text-anchor="start" textLength="79.4" lengthAdjust="spacing" stroke="#626776" stroke-width="0.35">StockCharts.com</text>
<line x1="19" y1="34.8" x2="27.7" y2="34.8" stroke="#000" stroke-width="2.3"/>
<text text-rendering="geometricPrecision" transform="translate(31.9,38.9) scale(1.1,1.0)" font-size="9.8" font-weight="normal" fill="#000" text-anchor="start" textLength="67.82" lengthAdjust="spacing" stroke="#000" stroke-width="0.1">PPO(12,26,9)</text>
<text text-rendering="geometricPrecision" transform="translate(112.7,38.9) scale(1.1,1.0)" font-size="9.8" font-weight="normal" fill="#000" text-anchor="start" textLength="31.36" lengthAdjust="spacing" stroke="#000" stroke-width="0.1">1.038,</text>
<text text-rendering="geometricPrecision" transform="translate(151.3,38.9) scale(1.1,1.0)" font-size="9.8" font-weight="normal" fill="#96143c" text-anchor="start" textLength="27.91" lengthAdjust="spacing">1.172</text>
<text x="183.5" y="38.9" font-size="9.8" font-weight="normal" fill="#666" text-anchor="start">,</text>
<text text-rendering="geometricPrecision" transform="translate(191.3,38.9) scale(1.1,1.0)" font-size="9.8" font-weight="normal" fill="#6f9f8f" text-anchor="start" textLength="32.73" lengthAdjust="spacing">-0.133</text>
<g fill="#000" stroke="none"><rect x="19" y="160" width="3.4" height="4.4"/><rect x="20.2" y="158.6" width="1" height="7.4"/><rect x="24" y="159.6" width="3.4" height="4.6"/><rect x="25.2" y="158.4" width="1" height="7.4"/><rect x="22" y="161.6" width="2.4" height="1.2"/></g>
<rect x="20.1" y="161" width="1.2" height="2.2" fill="#fff"/>
<text text-rendering="geometricPrecision" transform="translate(31.8,165.8) scale(1.1,1.0)" font-size="9.8" font-weight="normal" fill="#000" text-anchor="start" textLength="23.64" lengthAdjust="spacing" stroke="#000" stroke-width="0.1">$SPX</text>
<text text-rendering="geometricPrecision" transform="translate(64,165.8) scale(1.1,1.0)" font-size="9.8" font-weight="normal" fill="#000" text-anchor="start" textLength="32.73" lengthAdjust="spacing" stroke="#000" stroke-width="0.1">(Daily)</text>
<text text-rendering="geometricPrecision" transform="translate(104.6,165.8) scale(1.1,1.0)" font-size="9.8" font-weight="normal" fill="#000" text-anchor="start" textLength="34.18" lengthAdjust="spacing" stroke="#000" stroke-width="0.1">273.50</text>
<text text-rendering="geometricPrecision" transform="translate(147.8,165.8) scale(1.1,1.0)" font-size="9.8" font-weight="normal" fill="#000" text-anchor="start" textLength="17.18" lengthAdjust="spacing" stroke="#000" stroke-width="0.1">(30</text>
<text text-rendering="geometricPrecision" transform="translate(170.4,165.8) scale(1.1,1.0)" font-size="9.8" font-weight="normal" fill="#000" text-anchor="start" textLength="20.82" lengthAdjust="spacing" stroke="#000" stroke-width="0.1">Jun)</text>
<line x1="19" y1="172.7" x2="27.5" y2="172.7" stroke="#1c1c9c" stroke-width="1.8"/>
<text text-rendering="geometricPrecision" transform="translate(30,176.6) scale(0.96,1.0)" font-size="9.7" font-weight="normal" fill="#14147a" text-anchor="start" textLength="65.10" lengthAdjust="spacing" stroke="#14147a" stroke-width="0.2">MA(50) 263.28</text>
<line x1="19" y1="183.8" x2="27.5" y2="183.8" stroke="#2a6b35" stroke-width="1.8"/>
<text text-rendering="geometricPrecision" transform="translate(30,187.6) scale(0.96,1.0)" font-size="9.7" font-weight="normal" fill="#1d5a1d" text-anchor="start" textLength="71.35" lengthAdjust="spacing" stroke="#1d5a1d" stroke-width="0.2">EMA(20) 269.95</text>
<path d="M18.8,541.4 L20.6,537.5 L21.6,538.6 L23,533.6 L24.9,538.2 L26.9,535 L27.9,541.4 Z" fill="#a9c2da" stroke="#46648e" stroke-width="0.9" stroke-linejoin="round"/>
<text text-rendering="geometricPrecision" transform="translate(31,541.9) scale(1.1,1.0)" font-size="9.8" font-weight="normal" fill="#000" text-anchor="start" textLength="71.82" lengthAdjust="spacing" stroke="#000" stroke-width="0.1">RSI(14) 58.20</text>
</svg>
</body></html>
